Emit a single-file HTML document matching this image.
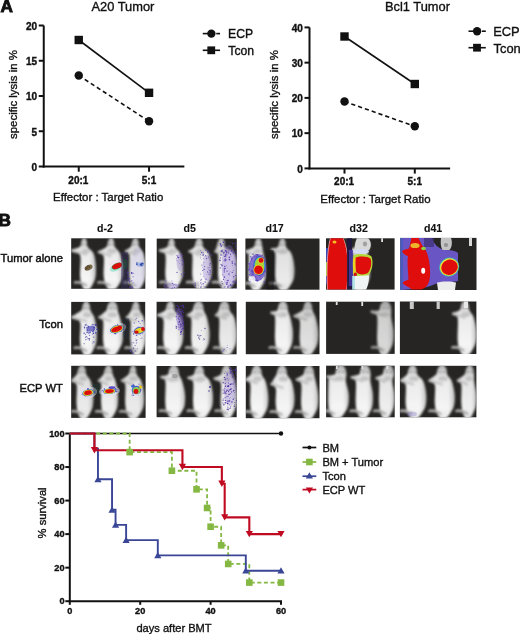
<!DOCTYPE html>
<html><head><meta charset="utf-8"><title>Figure</title>
<style>
html,body{margin:0;padding:0;background:#fff;}
body{width:520px;height:634px;overflow:hidden;}
svg{display:block;font-family:'Liberation Sans', Arial, Helvetica, sans-serif;}
</style></head>
<body>
<svg width="520" height="634" viewBox="0 0 520 634">
<text x="0.6" y="12.3" font-size="17.2" font-weight="bold" fill="#111" stroke="#111" stroke-width="0.9">A</text>
<g stroke="#111" stroke-width="2" fill="none">
<line x1="43.75" y1="25.5" x2="43.75" y2="167.5"/>
<line x1="42.75" y1="166.5" x2="184.35" y2="166.5"/>
<line x1="38.75" y1="166.5" x2="43.75" y2="166.5"/>
<line x1="38.75" y1="131.25" x2="43.75" y2="131.25"/>
<line x1="38.75" y1="96.0" x2="43.75" y2="96.0"/>
<line x1="38.75" y1="60.75" x2="43.75" y2="60.75"/>
<line x1="38.75" y1="25.5" x2="43.75" y2="25.5"/>
<line x1="78.75" y1="166.5" x2="78.75" y2="171.7"/>
<line x1="149.05" y1="166.5" x2="149.05" y2="171.7"/>
</g>
<text x="37.15" y="170.8" font-size="10" text-anchor="end" font-weight="bold" fill="#111" stroke="#111" stroke-width="0.35" >0</text>
<text x="37.15" y="135.55" font-size="10" text-anchor="end" font-weight="bold" fill="#111" stroke="#111" stroke-width="0.35" >5</text>
<text x="37.15" y="100.3" font-size="10" text-anchor="end" font-weight="bold" fill="#111" stroke="#111" stroke-width="0.35" >10</text>
<text x="37.15" y="65.05" font-size="10" text-anchor="end" font-weight="bold" fill="#111" stroke="#111" stroke-width="0.35" >15</text>
<text x="37.15" y="29.8" font-size="10" text-anchor="end" font-weight="bold" fill="#111" stroke="#111" stroke-width="0.35" >20</text>
<text x="78.35" y="183.5" font-size="10" text-anchor="middle" font-weight="bold" fill="#111" stroke="#111" stroke-width="0.35" >20:1</text>
<text x="149.05" y="183.5" font-size="10" text-anchor="middle" font-weight="bold" fill="#111" stroke="#111" stroke-width="0.35" >5:1</text>
<text x="108.15" y="200.8" font-size="11.45" text-anchor="middle" font-weight="normal" fill="#111" stroke="#111" stroke-width="0.35" >Effector : Target Ratio</text>
<text x="122.9" y="11.3" font-size="12.85" text-anchor="middle" font-weight="normal" fill="#111" stroke="#111" stroke-width="0.35" >A20 Tumor</text>
<text transform="translate(17.4,94.5) rotate(-90)" font-size="11.45" text-anchor="middle" fill="#111" stroke="#111" stroke-width="0.35">specific lysis in %</text>
<line x1="78.75" y1="40.0" x2="149.05" y2="92.8" stroke="#111" stroke-width="1.6"/>
<line x1="78.75" y1="75.5" x2="149.05" y2="121.3" stroke="#111" stroke-width="1.6" stroke-dasharray="4.2 3"/>
<rect x="74.55" y="35.8" width="8.4" height="8.4" fill="#111"/>
<rect x="144.85000000000002" y="88.6" width="8.4" height="8.4" fill="#111"/>
<circle cx="78.75" cy="75.5" r="4.2" fill="#111"/>
<circle cx="149.05" cy="121.3" r="4.2" fill="#111"/>
<line x1="202.75" y1="33.6" x2="209.75" y2="33.6" stroke="#111" stroke-width="1.6"/>
<line x1="216.25" y1="33.6" x2="220.05" y2="33.6" stroke="#111" stroke-width="1.6"/>
<circle cx="211.35" cy="33.6" r="4.2" fill="#111"/>
<line x1="202.75" y1="50.3" x2="220.05" y2="50.3" stroke="#111" stroke-width="1.6"/>
<rect x="207.35" y="46.4" width="7.8" height="7.8" fill="#111"/>
<text x="228.05" y="38.0" font-size="12.2" text-anchor="start" font-weight="normal" fill="#111" stroke="#111" stroke-width="0.35" >ECP</text>
<text x="228.35" y="55.099999999999994" font-size="12.2" text-anchor="start" font-weight="normal" fill="#111" stroke="#111" stroke-width="0.35" >Tcon</text>
<g stroke="#111" stroke-width="2" fill="none">
<line x1="309.5" y1="27.400000000000006" x2="309.5" y2="169.4"/>
<line x1="308.5" y1="168.4" x2="450.1" y2="168.4"/>
<line x1="304.5" y1="168.4" x2="309.5" y2="168.4"/>
<line x1="304.5" y1="133.15" x2="309.5" y2="133.15"/>
<line x1="304.5" y1="97.9" x2="309.5" y2="97.9"/>
<line x1="304.5" y1="62.650000000000006" x2="309.5" y2="62.650000000000006"/>
<line x1="304.5" y1="27.400000000000006" x2="309.5" y2="27.400000000000006"/>
<line x1="344.5" y1="168.4" x2="344.5" y2="173.6"/>
<line x1="414.8" y1="168.4" x2="414.8" y2="173.6"/>
</g>
<text x="302.9" y="172.7" font-size="10" text-anchor="end" font-weight="bold" fill="#111" stroke="#111" stroke-width="0.35" >0</text>
<text x="302.9" y="137.45" font-size="10" text-anchor="end" font-weight="bold" fill="#111" stroke="#111" stroke-width="0.35" >10</text>
<text x="302.9" y="102.2" font-size="10" text-anchor="end" font-weight="bold" fill="#111" stroke="#111" stroke-width="0.35" >20</text>
<text x="302.9" y="66.95" font-size="10" text-anchor="end" font-weight="bold" fill="#111" stroke="#111" stroke-width="0.35" >30</text>
<text x="302.9" y="31.7" font-size="10" text-anchor="end" font-weight="bold" fill="#111" stroke="#111" stroke-width="0.35" >40</text>
<text x="344.1" y="185.4" font-size="10" text-anchor="middle" font-weight="bold" fill="#111" stroke="#111" stroke-width="0.35" >20:1</text>
<text x="414.8" y="185.4" font-size="10" text-anchor="middle" font-weight="bold" fill="#111" stroke="#111" stroke-width="0.35" >5:1</text>
<text x="375.4" y="202.7" font-size="11.45" text-anchor="middle" font-weight="normal" fill="#111" stroke="#111" stroke-width="0.35" >Effector : Target Ratio</text>
<text x="417.5" y="11.3" font-size="12.85" text-anchor="middle" font-weight="normal" fill="#111" stroke="#111" stroke-width="0.35" >Bcl1 Tumor</text>
<text transform="translate(278.4,94.60000000000001) rotate(-90)" font-size="11.45" text-anchor="middle" fill="#111" stroke="#111" stroke-width="0.35">specific lysis in %</text>
<line x1="344.5" y1="36.5" x2="414.8" y2="84.0" stroke="#111" stroke-width="1.6"/>
<line x1="344.5" y1="101.5" x2="414.8" y2="126.3" stroke="#111" stroke-width="1.6" stroke-dasharray="4.2 3"/>
<rect x="340.3" y="32.3" width="8.4" height="8.4" fill="#111"/>
<rect x="410.6" y="79.8" width="8.4" height="8.4" fill="#111"/>
<circle cx="344.5" cy="101.5" r="4.2" fill="#111"/>
<circle cx="414.8" cy="126.3" r="4.2" fill="#111"/>
<line x1="468.5" y1="31.2" x2="475.5" y2="31.2" stroke="#111" stroke-width="1.6"/>
<line x1="482.0" y1="31.2" x2="485.8" y2="31.2" stroke="#111" stroke-width="1.6"/>
<circle cx="477.1" cy="31.2" r="4.2" fill="#111"/>
<line x1="468.5" y1="47.7" x2="485.8" y2="47.7" stroke="#111" stroke-width="1.6"/>
<rect x="473.1" y="43.800000000000004" width="7.8" height="7.8" fill="#111"/>
<text x="493.2" y="35.6" font-size="12.9" text-anchor="start" font-weight="normal" fill="#111" stroke="#111" stroke-width="0.35" >ECP</text>
<text x="493.5" y="52.5" font-size="12.9" text-anchor="start" font-weight="normal" fill="#111" stroke="#111" stroke-width="0.35" >Tcon</text>
<text x="-1.4" y="225.6" font-size="17.2" font-weight="bold" fill="#111" stroke="#111" stroke-width="0.9">B</text>
<text x="105" y="231.9" font-size="10.6" text-anchor="middle" font-weight="bold" fill="#111" stroke="#111" stroke-width="0.1" >d-2</text>
<text x="189.6" y="231.9" font-size="10.6" text-anchor="middle" font-weight="bold" fill="#111" stroke="#111" stroke-width="0.1" >d5</text>
<text x="274.6" y="231.9" font-size="10.6" text-anchor="middle" font-weight="bold" fill="#111" stroke="#111" stroke-width="0.1" >d17</text>
<text x="358.7" y="231.9" font-size="10.6" text-anchor="middle" font-weight="bold" fill="#111" stroke="#111" stroke-width="0.1" >d32</text>
<text x="433.1" y="231.9" font-size="10.6" text-anchor="middle" font-weight="bold" fill="#111" stroke="#111" stroke-width="0.1" >d41</text>
<text x="62.9" y="261.8" font-size="11.2" text-anchor="end" font-weight="normal" fill="#111" stroke="#111" stroke-width="0.45" >Tumor alone</text>
<text x="62.9" y="328" font-size="11.2" text-anchor="end" font-weight="normal" fill="#111" stroke="#111" stroke-width="0.45" >Tcon</text>
<text x="62.9" y="392.4" font-size="11.2" text-anchor="end" font-weight="normal" fill="#111" stroke="#111" stroke-width="0.45" >ECP WT</text>
<defs>
<linearGradient id="bodyg" x1="0" y1="0" x2="0" y2="1"><stop offset="0" stop-color="#a2a2a2"/><stop offset="0.1" stop-color="#c6c6c6"/><stop offset="0.2" stop-color="#dedede"/><stop offset="0.35" stop-color="#ebebeb"/><stop offset="0.8" stop-color="#f5f5f5"/><stop offset="1" stop-color="#e8e8e8"/></linearGradient>
<linearGradient id="edgeg" x1="0" y1="0" x2="1" y2="0"><stop offset="0" stop-color="#000" stop-opacity="0.15"/><stop offset="0.2" stop-color="#000" stop-opacity="0"/><stop offset="0.75" stop-color="#000" stop-opacity="0"/><stop offset="1" stop-color="#000" stop-opacity="0.2"/></linearGradient>
<filter id="bl" x="-20%" y="-20%" width="140%" height="140%"><feGaussianBlur stdDeviation="0.8"/></filter>
<filter id="bl2" x="-20%" y="-20%" width="140%" height="140%"><feGaussianBlur stdDeviation="0.6"/></filter>
<clipPath id="cp00"><rect x="71.2" y="238.3" width="74.1" height="50.5"/></clipPath>
<clipPath id="cp01"><rect x="156.7" y="238.6" width="80.1" height="49.8"/></clipPath>
<clipPath id="cp02"><rect x="245.4" y="238.5" width="74.1" height="51.2"/></clipPath>
<clipPath id="cp03"><rect x="326.0" y="238.3" width="68.6" height="51.3"/></clipPath>
<clipPath id="cp04"><rect x="400.3" y="237.9" width="76.2" height="52.1"/></clipPath>
<clipPath id="cp10"><rect x="71.2" y="301.9" width="74.0" height="52.5"/></clipPath>
<clipPath id="cp11"><rect x="156.6" y="301.8" width="80.0" height="52.5"/></clipPath>
<clipPath id="cp12"><rect x="245.8" y="301.8" width="73.7" height="52.4"/></clipPath>
<clipPath id="cp13"><rect x="326.1" y="301.7" width="68.6" height="52.2"/></clipPath>
<clipPath id="cp14"><rect x="399.9" y="301.5" width="76.5" height="52.5"/></clipPath>
<clipPath id="cp20"><rect x="71.2" y="365.8" width="74.4" height="52.1"/></clipPath>
<clipPath id="cp21"><rect x="156.6" y="366.0" width="80.1" height="51.2"/></clipPath>
<clipPath id="cp22"><rect x="245.8" y="366.0" width="73.7" height="52.2"/></clipPath>
<clipPath id="cp23"><rect x="326.1" y="365.7" width="68.6" height="51.6"/></clipPath>
<clipPath id="cp24"><rect x="399.9" y="365.8" width="76.5" height="51.5"/></clipPath>
</defs>
<rect x="71.2" y="238.3" width="74.1" height="50.5" fill="#262523"/>
<g clip-path="url(#cp00)"><g filter="url(#bl)">
<path d="M84.2,236.3 C85.1,236.3 86.2,239.5 86.8,241.3 C87.4,243.1 86.7,245.3 87.8,247.3 C88.9,249.3 92.3,250.3 93.6,253.5 C95.0,256.6 95.5,262.0 95.8,266.1 C96.1,270.1 96.0,274.4 95.3,277.7 C94.7,281.0 93.0,283.8 91.9,285.8 C90.8,287.8 90.1,289.1 88.9,289.8 C87.6,290.5 85.7,290.8 84.4,289.8 C83.2,288.8 82.1,286.3 81.4,283.8 C80.6,281.2 80.2,279.3 80.0,274.7 C79.8,270.0 81.3,259.6 80.2,255.8 C79.1,252.0 74.9,253.0 73.5,252.0 C72.1,251.0 71.0,250.7 72.0,249.8 C73.0,248.9 78.2,248.2 79.8,246.8 C81.4,245.4 80.7,243.1 81.4,241.3 C82.1,239.6 83.3,236.3 84.2,236.3 Z" fill="url(#bodyg)" opacity="1.00"/>
<path d="M84.2,236.3 C85.1,236.3 86.2,239.5 86.8,241.3 C87.4,243.1 86.7,245.3 87.8,247.3 C88.9,249.3 92.3,250.3 93.6,253.5 C95.0,256.6 95.5,262.0 95.8,266.1 C96.1,270.1 96.0,274.4 95.3,277.7 C94.7,281.0 93.0,283.8 91.9,285.8 C90.8,287.8 90.1,289.1 88.9,289.8 C87.6,290.5 85.7,290.8 84.4,289.8 C83.2,288.8 82.1,286.3 81.4,283.8 C80.6,281.2 80.2,279.3 80.0,274.7 C79.8,270.0 81.3,259.6 80.2,255.8 C79.1,252.0 74.9,253.0 73.5,252.0 C72.1,251.0 71.0,250.7 72.0,249.8 C73.0,248.9 78.2,248.2 79.8,246.8 C81.4,245.4 80.7,243.1 81.4,241.3 C82.1,239.6 83.3,236.3 84.2,236.3 Z" fill="url(#edgeg)"/>
<ellipse cx="82.4" cy="244.8" rx="0.9" ry="1.1" fill="#606060" opacity="0.8"/>
<ellipse cx="86.4" cy="244.8" rx="0.9" ry="1.1" fill="#606060" opacity="0.8"/>
<ellipse cx="85.8" cy="251.3" rx="3.8" ry="2.5" fill="#8a8a8a" opacity="0.35"/>
<path d="M75.0,282.5 Q80.0,281.2 86.0,285.3" stroke="#afafaf" stroke-width="2.6" fill="none" stroke-linecap="round"/>
<path d="M72.0,250.6 L85.8,254.3" stroke="#c8c8c8" stroke-width="2.6" fill="none" stroke-linecap="round"/>
<path d="M111.2,236.3 C112.1,236.3 113.4,239.5 114.0,241.3 C114.6,243.1 114.0,245.3 115.0,247.3 C116.0,249.3 118.8,250.3 120.1,253.5 C121.4,256.6 122.5,262.0 122.8,266.1 C123.1,270.1 123.0,274.4 122.2,277.7 C121.4,281.0 119.4,283.8 118.1,285.8 C116.8,287.8 115.9,289.1 114.3,289.8 C112.8,290.5 110.5,290.8 109.0,289.8 C107.5,288.8 106.2,286.3 105.3,283.8 C104.4,281.2 103.9,279.1 103.6,274.7 C103.4,270.3 104.4,260.8 103.8,257.3 C103.3,253.8 101.3,254.5 100.5,253.5 C99.7,252.5 98.0,252.4 99.0,251.3 C100.0,250.2 105.0,248.5 106.5,246.8 C108.0,245.1 107.3,243.1 108.1,241.3 C108.9,239.6 110.2,236.3 111.2,236.3 Z" fill="url(#bodyg)" opacity="1.00"/>
<path d="M111.2,236.3 C112.1,236.3 113.4,239.5 114.0,241.3 C114.6,243.1 114.0,245.3 115.0,247.3 C116.0,249.3 118.8,250.3 120.1,253.5 C121.4,256.6 122.5,262.0 122.8,266.1 C123.1,270.1 123.0,274.4 122.2,277.7 C121.4,281.0 119.4,283.8 118.1,285.8 C116.8,287.8 115.9,289.1 114.3,289.8 C112.8,290.5 110.5,290.8 109.0,289.8 C107.5,288.8 106.2,286.3 105.3,283.8 C104.4,281.2 103.9,279.1 103.6,274.7 C103.4,270.3 104.4,260.8 103.8,257.3 C103.3,253.8 101.3,254.5 100.5,253.5 C99.7,252.5 98.0,252.4 99.0,251.3 C100.0,250.2 105.0,248.5 106.5,246.8 C108.0,245.1 107.3,243.1 108.1,241.3 C108.9,239.6 110.2,236.3 111.2,236.3 Z" fill="url(#edgeg)"/>
<ellipse cx="109.4" cy="244.8" rx="0.9" ry="1.1" fill="#606060" opacity="0.8"/>
<ellipse cx="113.4" cy="244.8" rx="0.9" ry="1.1" fill="#606060" opacity="0.8"/>
<ellipse cx="111.9" cy="251.3" rx="4.6" ry="2.5" fill="#8a8a8a" opacity="0.35"/>
<path d="M98.4,282.5 Q103.4,281.2 109.4,285.3" stroke="#afafaf" stroke-width="2.6" fill="none" stroke-linecap="round"/>
<path d="M99.0,252.1 L110.6,255.8" stroke="#c8c8c8" stroke-width="2.6" fill="none" stroke-linecap="round"/>
<path d="M135.5,236.3 C136.5,236.3 137.8,239.5 138.4,241.3 C139.1,243.1 138.5,245.3 139.4,247.3 C140.3,249.3 142.5,250.3 143.5,253.5 C144.6,256.6 145.5,262.0 145.8,266.1 C146.1,270.1 146.0,274.4 145.3,277.7 C144.6,281.0 142.9,283.8 141.8,285.8 C140.6,287.8 139.9,289.1 138.6,289.8 C137.3,290.5 135.3,290.8 134.0,289.8 C132.7,288.8 131.5,286.3 130.8,283.8 C130.0,281.2 129.6,279.2 129.4,274.7 C129.2,270.1 129.8,260.0 129.5,256.3 C129.2,252.6 128.1,253.5 127.5,252.5 C126.9,251.5 125.5,251.2 126.0,250.3 C126.5,249.4 129.7,248.3 130.8,246.8 C131.9,245.3 131.6,243.1 132.4,241.3 C133.2,239.6 134.5,236.3 135.5,236.3 Z" fill="url(#bodyg)" opacity="0.97"/>
<path d="M135.5,236.3 C136.5,236.3 137.8,239.5 138.4,241.3 C139.1,243.1 138.5,245.3 139.4,247.3 C140.3,249.3 142.5,250.3 143.5,253.5 C144.6,256.6 145.5,262.0 145.8,266.1 C146.1,270.1 146.0,274.4 145.3,277.7 C144.6,281.0 142.9,283.8 141.8,285.8 C140.6,287.8 139.9,289.1 138.6,289.8 C137.3,290.5 135.3,290.8 134.0,289.8 C132.7,288.8 131.5,286.3 130.8,283.8 C130.0,281.2 129.6,279.2 129.4,274.7 C129.2,270.1 129.8,260.0 129.5,256.3 C129.2,252.6 128.1,253.5 127.5,252.5 C126.9,251.5 125.5,251.2 126.0,250.3 C126.5,249.4 129.7,248.3 130.8,246.8 C131.9,245.3 131.6,243.1 132.4,241.3 C133.2,239.6 134.5,236.3 135.5,236.3 Z" fill="url(#edgeg)"/>
<ellipse cx="133.7" cy="244.8" rx="0.9" ry="1.1" fill="#606060" opacity="0.8"/>
<ellipse cx="137.7" cy="244.8" rx="0.9" ry="1.1" fill="#606060" opacity="0.8"/>
<ellipse cx="136.3" cy="251.3" rx="4.0" ry="2.5" fill="#8a8a8a" opacity="0.35"/>
<path d="M124.3,282.5 Q129.3,281.2 135.3,285.3" stroke="#aaaaaa" stroke-width="2.6" fill="none" stroke-linecap="round"/>
<path d="M126.0,251.1 L135.4,254.8" stroke="#c2c2c2" stroke-width="2.6" fill="none" stroke-linecap="round"/>
</g>
<g filter="url(#bl2)">
<ellipse cx="88.6" cy="267.6" rx="5.2" ry="3.4" fill="#e6e6f4" opacity="0.6"/>
<ellipse cx="88.6" cy="267.6" rx="4.2" ry="2.6" fill="#7a6a48" transform="rotate(-25 88.6 267.6)"/>
<circle cx="87.6" cy="266.2" r="0.66" fill="#3e3220" opacity="0.9"/>
<circle cx="86.0" cy="267.9" r="0.55" fill="#3e3220" opacity="0.9"/>
<circle cx="85.9" cy="267.8" r="0.41" fill="#3e3220" opacity="0.9"/>
<circle cx="88.3" cy="265.8" r="0.44" fill="#3e3220" opacity="0.9"/>
<circle cx="88.3" cy="269.2" r="0.45" fill="#3e3220" opacity="0.9"/>
<circle cx="87.0" cy="268.3" r="0.78" fill="#3e3220" opacity="0.9"/>
<circle cx="89.3" cy="267.3" r="0.79" fill="#3e3220" opacity="0.9"/>
<circle cx="85.8" cy="269.4" r="0.52" fill="#3e3220" opacity="0.9"/>
<ellipse cx="116" cy="265" rx="7" ry="5" fill="#f2dfee" opacity="0.6"/>
<ellipse cx="115.5" cy="268" rx="6" ry="3.2" fill="#8ee0c8" opacity="0.7" transform="rotate(-22 115.5 268)"/>
<ellipse cx="117" cy="266" rx="5.6" ry="2.9" fill="#3a8a50" transform="rotate(-22 117 266)"/>
<ellipse cx="117" cy="266" rx="5.0" ry="2.5" fill="#dc0c0c" transform="rotate(-22 117 266)"/>
<rect x="121" y="252" width="7" height="37" fill="#3a2d6a" opacity="0.4"/>
<ellipse cx="125" cy="264" rx="2.5" ry="5" fill="#1f5a3a" opacity="0.5"/>
<ellipse cx="138" cy="268" rx="7" ry="21" fill="#b9b0e6" opacity="0.22"/>
<ellipse cx="140" cy="264.5" rx="4" ry="2.3" fill="#8aa0e0" opacity="0.6"/>
<circle cx="137.2" cy="263.0" r="0.55" fill="#2c4aa8" opacity="0.9"/>
<circle cx="142.5" cy="263.2" r="0.69" fill="#2c4aa8" opacity="0.9"/>
<circle cx="141.1" cy="264.0" r="0.67" fill="#2c4aa8" opacity="0.9"/>
<circle cx="136.5" cy="262.7" r="0.50" fill="#2c4aa8" opacity="0.9"/>
<circle cx="141.4" cy="264.2" r="0.56" fill="#2c4aa8" opacity="0.9"/>
<circle cx="140.7" cy="264.3" r="0.55" fill="#2c4aa8" opacity="0.9"/>
<circle cx="142.4" cy="265.3" r="0.52" fill="#2c4aa8" opacity="0.9"/>
<circle cx="140.6" cy="264.6" r="0.84" fill="#2c4aa8" opacity="0.9"/>
<circle cx="141.8" cy="263.7" r="0.89" fill="#2c4aa8" opacity="0.9"/>
<circle cx="136.9" cy="264.2" r="0.78" fill="#2c4aa8" opacity="0.9"/>
<circle cx="137.2" cy="264.5" r="0.42" fill="#2c4aa8" opacity="0.9"/>
<circle cx="141.3" cy="265.6" r="0.69" fill="#2c4aa8" opacity="0.9"/>
<circle cx="143.0" cy="263.8" r="0.75" fill="#2c4aa8" opacity="0.9"/>
<circle cx="140.8" cy="264.8" r="0.63" fill="#2c4aa8" opacity="0.9"/>
<circle cx="132.9" cy="288.1" r="0.59" fill="#5a3db0" opacity="0.85"/>
<circle cx="131.6" cy="273.0" r="0.70" fill="#5a3db0" opacity="0.85"/>
<circle cx="131.5" cy="288.9" r="0.76" fill="#5a3db0" opacity="0.85"/>
<circle cx="129.0" cy="278.6" r="0.68" fill="#5a3db0" opacity="0.85"/>
<circle cx="127.2" cy="279.8" r="0.43" fill="#5a3db0" opacity="0.85"/>
<circle cx="127.8" cy="273.0" r="0.73" fill="#5a3db0" opacity="0.85"/>
<circle cx="127.9" cy="276.2" r="0.55" fill="#5a3db0" opacity="0.85"/>
<circle cx="133.1" cy="273.4" r="0.57" fill="#5a3db0" opacity="0.85"/>
<circle cx="130.8" cy="287.0" r="0.76" fill="#5a3db0" opacity="0.85"/>
<circle cx="133.0" cy="276.7" r="0.56" fill="#5a3db0" opacity="0.85"/>
<circle cx="129.5" cy="287.0" r="0.83" fill="#5a3db0" opacity="0.85"/>
<circle cx="128.1" cy="275.0" r="0.47" fill="#5a3db0" opacity="0.85"/>
<circle cx="128.6" cy="280.2" r="0.64" fill="#5a3db0" opacity="0.85"/>
<circle cx="128.8" cy="272.1" r="0.56" fill="#5a3db0" opacity="0.85"/>
<circle cx="129.6" cy="281.6" r="0.83" fill="#5a3db0" opacity="0.85"/>
<circle cx="131.8" cy="280.8" r="0.66" fill="#5a3db0" opacity="0.85"/>
<circle cx="131.7" cy="272.9" r="0.80" fill="#5a3db0" opacity="0.85"/>
<circle cx="132.5" cy="286.9" r="0.75" fill="#5a3db0" opacity="0.85"/>
<circle cx="129.7" cy="278.8" r="0.40" fill="#5a3db0" opacity="0.85"/>
<circle cx="131.4" cy="273.1" r="0.38" fill="#5a3db0" opacity="0.85"/>
<circle cx="128.5" cy="274.8" r="0.52" fill="#5a3db0" opacity="0.85"/>
<circle cx="127.4" cy="272.0" r="0.43" fill="#5a3db0" opacity="0.85"/>
<circle cx="127.7" cy="278.2" r="0.36" fill="#5a3db0" opacity="0.85"/>
<circle cx="133.1" cy="282.4" r="0.42" fill="#5a3db0" opacity="0.85"/>
<circle cx="128.8" cy="277.9" r="0.53" fill="#5a3db0" opacity="0.85"/>
</g>
</g>
<rect x="156.7" y="238.6" width="80.1" height="49.8" fill="#262523"/>
<g clip-path="url(#cp01)"><g filter="url(#bl)">
<path d="M171.7,236.6 C172.6,236.6 173.8,239.8 174.4,241.6 C175.0,243.4 174.4,245.6 175.4,247.6 C176.4,249.6 179.1,250.5 180.4,253.5 C181.6,256.6 182.5,262.0 182.8,266.0 C183.1,270.0 183.0,274.2 182.2,277.4 C181.5,280.7 179.7,283.4 178.5,285.4 C177.3,287.4 176.5,288.7 175.1,289.4 C173.7,290.1 171.6,290.4 170.2,289.4 C168.8,288.4 167.6,285.9 166.8,283.4 C166.0,280.9 165.5,279.1 165.3,274.5 C165.1,269.8 166.2,259.4 165.5,255.6 C164.9,251.8 162.4,252.8 161.5,251.8 C160.6,250.8 159.1,250.4 160.0,249.6 C160.9,248.8 165.7,248.4 167.1,247.1 C168.6,245.8 167.9,243.3 168.7,241.6 C169.5,239.8 170.7,236.6 171.7,236.6 Z" fill="url(#bodyg)" opacity="1.00"/>
<path d="M171.7,236.6 C172.6,236.6 173.8,239.8 174.4,241.6 C175.0,243.4 174.4,245.6 175.4,247.6 C176.4,249.6 179.1,250.5 180.4,253.5 C181.6,256.6 182.5,262.0 182.8,266.0 C183.1,270.0 183.0,274.2 182.2,277.4 C181.5,280.7 179.7,283.4 178.5,285.4 C177.3,287.4 176.5,288.7 175.1,289.4 C173.7,290.1 171.6,290.4 170.2,289.4 C168.8,288.4 167.6,285.9 166.8,283.4 C166.0,280.9 165.5,279.1 165.3,274.5 C165.1,269.8 166.2,259.4 165.5,255.6 C164.9,251.8 162.4,252.8 161.5,251.8 C160.6,250.8 159.1,250.4 160.0,249.6 C160.9,248.8 165.7,248.4 167.1,247.1 C168.6,245.8 167.9,243.3 168.7,241.6 C169.5,239.8 170.7,236.6 171.7,236.6 Z" fill="url(#edgeg)"/>
<ellipse cx="169.8" cy="245.1" rx="0.9" ry="1.1" fill="#606060" opacity="0.8"/>
<ellipse cx="173.8" cy="245.1" rx="0.9" ry="1.1" fill="#606060" opacity="0.8"/>
<ellipse cx="172.6" cy="251.6" rx="4.2" ry="2.5" fill="#8a8a8a" opacity="0.35"/>
<path d="M160.2,282.2 Q165.2,280.9 171.2,284.9" stroke="#afafaf" stroke-width="2.6" fill="none" stroke-linecap="round"/>
<path d="M160.0,250.4 L171.7,254.1" stroke="#c8c8c8" stroke-width="2.6" fill="none" stroke-linecap="round"/>
<path d="M199.2,236.6 C200.3,236.6 201.7,239.8 202.4,241.6 C203.1,243.4 202.3,245.6 203.4,247.6 C204.5,249.6 207.5,250.5 208.8,253.5 C210.2,256.6 211.1,262.0 211.5,266.0 C211.8,270.0 211.7,274.2 210.9,277.4 C210.1,280.7 208.0,283.4 206.7,285.4 C205.4,287.4 204.5,288.7 203.0,289.4 C201.5,290.1 199.1,290.4 197.6,289.4 C196.1,288.4 194.8,285.9 193.9,283.4 C193.0,280.9 192.5,278.9 192.2,274.5 C192.0,270.0 192.7,260.2 192.4,256.6 C192.2,253.0 191.5,253.8 191.0,252.8 C190.5,251.8 188.9,251.5 189.5,250.6 C190.1,249.7 193.2,248.6 194.3,247.1 C195.4,245.6 195.1,243.3 195.9,241.6 C196.7,239.8 198.2,236.6 199.2,236.6 Z" fill="url(#bodyg)" opacity="1.00"/>
<path d="M199.2,236.6 C200.3,236.6 201.7,239.8 202.4,241.6 C203.1,243.4 202.3,245.6 203.4,247.6 C204.5,249.6 207.5,250.5 208.8,253.5 C210.2,256.6 211.1,262.0 211.5,266.0 C211.8,270.0 211.7,274.2 210.9,277.4 C210.1,280.7 208.0,283.4 206.7,285.4 C205.4,287.4 204.5,288.7 203.0,289.4 C201.5,290.1 199.1,290.4 197.6,289.4 C196.1,288.4 194.8,285.9 193.9,283.4 C193.0,280.9 192.5,278.9 192.2,274.5 C192.0,270.0 192.7,260.2 192.4,256.6 C192.2,253.0 191.5,253.8 191.0,252.8 C190.5,251.8 188.9,251.5 189.5,250.6 C190.1,249.7 193.2,248.6 194.3,247.1 C195.4,245.6 195.1,243.3 195.9,241.6 C196.7,239.8 198.2,236.6 199.2,236.6 Z" fill="url(#edgeg)"/>
<ellipse cx="197.4" cy="245.1" rx="0.9" ry="1.1" fill="#606060" opacity="0.8"/>
<ellipse cx="201.4" cy="245.1" rx="0.9" ry="1.1" fill="#606060" opacity="0.8"/>
<ellipse cx="200.3" cy="251.6" rx="4.7" ry="2.5" fill="#8a8a8a" opacity="0.35"/>
<path d="M187.0,282.2 Q192.0,280.9 198.0,284.9" stroke="#afafaf" stroke-width="2.6" fill="none" stroke-linecap="round"/>
<path d="M189.5,251.4 L199.3,255.1" stroke="#c8c8c8" stroke-width="2.6" fill="none" stroke-linecap="round"/>
<path d="M221.3,236.6 C222.4,236.6 223.7,239.8 224.4,241.6 C225.1,243.4 223.8,245.6 225.4,247.6 C227.0,249.6 232.3,250.5 234.2,253.5 C236.1,256.6 236.5,262.0 236.8,266.0 C237.1,270.0 237.0,274.2 236.2,277.4 C235.4,280.7 233.4,283.4 232.2,285.4 C230.9,287.4 230.0,288.7 228.5,289.4 C227.0,290.1 224.7,290.4 223.3,289.4 C221.8,288.4 220.5,285.9 219.6,283.4 C218.8,280.9 218.2,278.9 218.0,274.5 C217.8,270.0 218.4,260.2 218.2,256.6 C218.0,253.0 217.5,253.8 217.0,252.8 C216.5,251.8 215.6,251.5 215.5,250.6 C215.4,249.7 216.1,248.6 216.5,247.1 C216.9,245.6 217.3,243.3 218.1,241.6 C218.9,239.8 220.3,236.6 221.3,236.6 Z" fill="url(#bodyg)" opacity="1.00"/>
<path d="M221.3,236.6 C222.4,236.6 223.7,239.8 224.4,241.6 C225.1,243.4 223.8,245.6 225.4,247.6 C227.0,249.6 232.3,250.5 234.2,253.5 C236.1,256.6 236.5,262.0 236.8,266.0 C237.1,270.0 237.0,274.2 236.2,277.4 C235.4,280.7 233.4,283.4 232.2,285.4 C230.9,287.4 230.0,288.7 228.5,289.4 C227.0,290.1 224.7,290.4 223.3,289.4 C221.8,288.4 220.5,285.9 219.6,283.4 C218.8,280.9 218.2,278.9 218.0,274.5 C217.8,270.0 218.4,260.2 218.2,256.6 C218.0,253.0 217.5,253.8 217.0,252.8 C216.5,251.8 215.6,251.5 215.5,250.6 C215.4,249.7 216.1,248.6 216.5,247.1 C216.9,245.6 217.3,243.3 218.1,241.6 C218.9,239.8 220.3,236.6 221.3,236.6 Z" fill="url(#edgeg)"/>
<ellipse cx="219.5" cy="245.1" rx="0.9" ry="1.1" fill="#606060" opacity="0.8"/>
<ellipse cx="223.5" cy="245.1" rx="0.9" ry="1.1" fill="#606060" opacity="0.8"/>
<ellipse cx="224.1" cy="251.6" rx="4.5" ry="2.5" fill="#8a8a8a" opacity="0.35"/>
<path d="M212.8,282.2 Q217.8,280.9 223.8,284.9" stroke="#afafaf" stroke-width="2.6" fill="none" stroke-linecap="round"/>
<path d="M215.5,251.4 L224.9,255.1" stroke="#c8c8c8" stroke-width="2.6" fill="none" stroke-linecap="round"/>
</g>
<g filter="url(#bl2)">
<ellipse cx="180" cy="262" rx="3.5" ry="9" fill="#8a70d0" opacity="0.3"/>
<circle cx="177.0" cy="272.4" r="0.70" fill="#5234a8" opacity="0.8"/>
<circle cx="179.7" cy="263.6" r="0.33" fill="#5234a8" opacity="0.8"/>
<circle cx="176.8" cy="260.2" r="0.41" fill="#5234a8" opacity="0.8"/>
<circle cx="182.6" cy="255.9" r="0.31" fill="#5234a8" opacity="0.8"/>
<circle cx="183.6" cy="264.7" r="0.36" fill="#5234a8" opacity="0.8"/>
<circle cx="180.3" cy="252.6" r="0.51" fill="#5234a8" opacity="0.8"/>
<circle cx="183.8" cy="272.7" r="0.58" fill="#5234a8" opacity="0.8"/>
<circle cx="178.1" cy="260.8" r="0.37" fill="#5234a8" opacity="0.8"/>
<circle cx="182.2" cy="264.8" r="0.61" fill="#5234a8" opacity="0.8"/>
<circle cx="178.6" cy="257.4" r="0.62" fill="#5234a8" opacity="0.8"/>
<circle cx="183.9" cy="272.5" r="0.62" fill="#5234a8" opacity="0.8"/>
<circle cx="182.5" cy="269.8" r="0.39" fill="#5234a8" opacity="0.8"/>
<circle cx="180.1" cy="260.5" r="0.31" fill="#5234a8" opacity="0.8"/>
<circle cx="176.2" cy="258.7" r="0.40" fill="#5234a8" opacity="0.8"/>
<circle cx="181.5" cy="275.0" r="0.48" fill="#5234a8" opacity="0.8"/>
<circle cx="183.5" cy="275.7" r="0.68" fill="#5234a8" opacity="0.8"/>
<circle cx="178.9" cy="257.3" r="0.39" fill="#5234a8" opacity="0.8"/>
<circle cx="177.6" cy="256.9" r="0.55" fill="#5234a8" opacity="0.8"/>
<circle cx="183.2" cy="272.2" r="0.49" fill="#5234a8" opacity="0.8"/>
<circle cx="181.2" cy="271.2" r="0.33" fill="#5234a8" opacity="0.8"/>
<circle cx="181.3" cy="273.8" r="0.61" fill="#5234a8" opacity="0.8"/>
<circle cx="182.0" cy="263.5" r="0.37" fill="#5234a8" opacity="0.8"/>
<circle cx="182.3" cy="260.0" r="0.62" fill="#5234a8" opacity="0.8"/>
<circle cx="183.8" cy="261.5" r="0.46" fill="#5234a8" opacity="0.8"/>
<circle cx="183.6" cy="269.4" r="0.37" fill="#5234a8" opacity="0.8"/>
<circle cx="177.0" cy="255.6" r="0.66" fill="#5234a8" opacity="0.8"/>
<circle cx="182.5" cy="255.5" r="0.63" fill="#5234a8" opacity="0.8"/>
<circle cx="183.8" cy="267.8" r="0.44" fill="#5234a8" opacity="0.8"/>
<circle cx="180.4" cy="255.1" r="0.31" fill="#5234a8" opacity="0.8"/>
<circle cx="183.8" cy="267.6" r="0.51" fill="#5234a8" opacity="0.8"/>
<circle cx="183.5" cy="262.4" r="0.65" fill="#5234a8" opacity="0.8"/>
<circle cx="182.6" cy="257.1" r="0.40" fill="#5234a8" opacity="0.8"/>
<circle cx="178.3" cy="257.8" r="0.53" fill="#5234a8" opacity="0.8"/>
<circle cx="178.1" cy="262.1" r="0.35" fill="#5234a8" opacity="0.8"/>
<circle cx="183.3" cy="260.5" r="0.48" fill="#5234a8" opacity="0.8"/>
<ellipse cx="171" cy="286" rx="8" ry="3" fill="#8a70d0" opacity="0.3"/>
<circle cx="172.9" cy="288.2" r="0.47" fill="#5234a8" opacity="0.8"/>
<circle cx="178.6" cy="285.0" r="0.51" fill="#5234a8" opacity="0.8"/>
<circle cx="171.9" cy="281.1" r="0.48" fill="#5234a8" opacity="0.8"/>
<circle cx="166.1" cy="281.0" r="0.62" fill="#5234a8" opacity="0.8"/>
<circle cx="165.9" cy="284.8" r="0.59" fill="#5234a8" opacity="0.8"/>
<circle cx="172.5" cy="283.6" r="0.51" fill="#5234a8" opacity="0.8"/>
<circle cx="172.4" cy="287.3" r="0.34" fill="#5234a8" opacity="0.8"/>
<circle cx="172.5" cy="283.0" r="0.41" fill="#5234a8" opacity="0.8"/>
<circle cx="176.1" cy="285.1" r="0.52" fill="#5234a8" opacity="0.8"/>
<circle cx="175.9" cy="288.3" r="0.48" fill="#5234a8" opacity="0.8"/>
<circle cx="173.4" cy="285.0" r="0.50" fill="#5234a8" opacity="0.8"/>
<circle cx="174.8" cy="284.6" r="0.51" fill="#5234a8" opacity="0.8"/>
<circle cx="171.1" cy="288.5" r="0.58" fill="#5234a8" opacity="0.8"/>
<circle cx="177.9" cy="288.5" r="0.40" fill="#5234a8" opacity="0.8"/>
<circle cx="172.5" cy="288.5" r="0.64" fill="#5234a8" opacity="0.8"/>
<circle cx="165.3" cy="282.0" r="0.48" fill="#5234a8" opacity="0.8"/>
<circle cx="164.2" cy="282.9" r="0.33" fill="#5234a8" opacity="0.8"/>
<circle cx="174.4" cy="287.3" r="0.66" fill="#5234a8" opacity="0.8"/>
<circle cx="165.6" cy="286.7" r="0.56" fill="#5234a8" opacity="0.8"/>
<circle cx="165.4" cy="288.1" r="0.69" fill="#5234a8" opacity="0.8"/>
<circle cx="166.7" cy="288.6" r="0.46" fill="#5234a8" opacity="0.8"/>
<circle cx="171.3" cy="288.9" r="0.63" fill="#5234a8" opacity="0.8"/>
<ellipse cx="207" cy="268" rx="4.5" ry="13" fill="#8a70d0" opacity="0.3"/>
<circle cx="201.9" cy="265.1" r="0.53" fill="#5234a8" opacity="0.8"/>
<circle cx="204.1" cy="256.9" r="0.44" fill="#5234a8" opacity="0.8"/>
<circle cx="208.7" cy="250.7" r="0.55" fill="#5234a8" opacity="0.8"/>
<circle cx="205.3" cy="250.6" r="0.45" fill="#5234a8" opacity="0.8"/>
<circle cx="207.5" cy="267.9" r="0.33" fill="#5234a8" opacity="0.8"/>
<circle cx="211.8" cy="277.6" r="0.74" fill="#5234a8" opacity="0.8"/>
<circle cx="201.3" cy="259.3" r="0.32" fill="#5234a8" opacity="0.8"/>
<circle cx="209.3" cy="259.5" r="0.36" fill="#5234a8" opacity="0.8"/>
<circle cx="205.1" cy="281.9" r="0.67" fill="#5234a8" opacity="0.8"/>
<circle cx="203.1" cy="255.2" r="0.71" fill="#5234a8" opacity="0.8"/>
<circle cx="206.8" cy="274.5" r="0.34" fill="#5234a8" opacity="0.8"/>
<circle cx="200.7" cy="274.1" r="0.49" fill="#5234a8" opacity="0.8"/>
<circle cx="200.9" cy="282.8" r="0.59" fill="#5234a8" opacity="0.8"/>
<circle cx="209.6" cy="252.9" r="0.69" fill="#5234a8" opacity="0.8"/>
<circle cx="200.8" cy="280.2" r="0.50" fill="#5234a8" opacity="0.8"/>
<circle cx="204.1" cy="269.4" r="0.72" fill="#5234a8" opacity="0.8"/>
<circle cx="203.2" cy="254.5" r="0.54" fill="#5234a8" opacity="0.8"/>
<circle cx="202.9" cy="253.8" r="0.37" fill="#5234a8" opacity="0.8"/>
<circle cx="200.6" cy="257.1" r="0.44" fill="#5234a8" opacity="0.8"/>
<circle cx="203.7" cy="276.6" r="0.43" fill="#5234a8" opacity="0.8"/>
<circle cx="206.0" cy="256.2" r="0.46" fill="#5234a8" opacity="0.8"/>
<circle cx="200.2" cy="258.8" r="0.31" fill="#5234a8" opacity="0.8"/>
<circle cx="208.8" cy="269.3" r="0.39" fill="#5234a8" opacity="0.8"/>
<circle cx="205.7" cy="282.7" r="0.35" fill="#5234a8" opacity="0.8"/>
<circle cx="209.8" cy="265.1" r="0.52" fill="#5234a8" opacity="0.8"/>
<circle cx="210.0" cy="263.8" r="0.53" fill="#5234a8" opacity="0.8"/>
<circle cx="208.3" cy="284.4" r="0.45" fill="#5234a8" opacity="0.8"/>
<circle cx="210.0" cy="274.7" r="0.59" fill="#5234a8" opacity="0.8"/>
<circle cx="204.9" cy="262.2" r="0.32" fill="#5234a8" opacity="0.8"/>
<circle cx="201.6" cy="252.5" r="0.63" fill="#5234a8" opacity="0.8"/>
<circle cx="203.1" cy="255.7" r="0.34" fill="#5234a8" opacity="0.8"/>
<circle cx="210.1" cy="280.5" r="0.60" fill="#5234a8" opacity="0.8"/>
<circle cx="203.4" cy="258.5" r="0.43" fill="#5234a8" opacity="0.8"/>
<circle cx="205.5" cy="255.5" r="0.50" fill="#5234a8" opacity="0.8"/>
<circle cx="203.2" cy="283.7" r="0.74" fill="#5234a8" opacity="0.8"/>
<circle cx="206.6" cy="258.6" r="0.73" fill="#5234a8" opacity="0.8"/>
<circle cx="203.7" cy="262.5" r="0.30" fill="#5234a8" opacity="0.8"/>
<circle cx="204.6" cy="266.6" r="0.53" fill="#5234a8" opacity="0.8"/>
<circle cx="202.4" cy="267.7" r="0.30" fill="#5234a8" opacity="0.8"/>
<circle cx="203.2" cy="253.1" r="0.48" fill="#5234a8" opacity="0.8"/>
<circle cx="200.5" cy="250.8" r="0.44" fill="#5234a8" opacity="0.8"/>
<circle cx="202.8" cy="270.5" r="0.54" fill="#5234a8" opacity="0.8"/>
<circle cx="209.0" cy="273.0" r="0.62" fill="#5234a8" opacity="0.8"/>
<circle cx="210.5" cy="263.6" r="0.45" fill="#5234a8" opacity="0.8"/>
<circle cx="211.8" cy="255.2" r="0.63" fill="#5234a8" opacity="0.8"/>
<circle cx="207.7" cy="251.5" r="0.68" fill="#5234a8" opacity="0.8"/>
<circle cx="210.7" cy="272.0" r="0.63" fill="#5234a8" opacity="0.8"/>
<circle cx="209.7" cy="254.9" r="0.54" fill="#5234a8" opacity="0.8"/>
<circle cx="206.1" cy="279.2" r="0.66" fill="#5234a8" opacity="0.8"/>
<circle cx="209.9" cy="270.4" r="0.70" fill="#5234a8" opacity="0.8"/>
<circle cx="208.2" cy="274.3" r="0.40" fill="#5234a8" opacity="0.8"/>
<circle cx="200.4" cy="254.7" r="0.46" fill="#5234a8" opacity="0.8"/>
<circle cx="201.3" cy="279.3" r="0.55" fill="#5234a8" opacity="0.8"/>
<circle cx="207.5" cy="271.9" r="0.61" fill="#5234a8" opacity="0.8"/>
<circle cx="205.9" cy="250.1" r="0.66" fill="#5234a8" opacity="0.8"/>
<circle cx="209.0" cy="267.6" r="0.54" fill="#5234a8" opacity="0.8"/>
<circle cx="207.9" cy="252.3" r="0.63" fill="#5234a8" opacity="0.8"/>
<circle cx="203.0" cy="252.6" r="0.42" fill="#5234a8" opacity="0.8"/>
<circle cx="208.8" cy="257.2" r="0.63" fill="#5234a8" opacity="0.8"/>
<circle cx="211.7" cy="267.3" r="0.47" fill="#5234a8" opacity="0.8"/>
<circle cx="201.1" cy="286.5" r="0.61" fill="#5234a8" opacity="0.8"/>
<circle cx="203.5" cy="286.1" r="0.33" fill="#5234a8" opacity="0.8"/>
<circle cx="195.5" cy="283.0" r="0.60" fill="#5234a8" opacity="0.8"/>
<circle cx="198.2" cy="285.5" r="0.30" fill="#5234a8" opacity="0.8"/>
<circle cx="194.0" cy="283.2" r="0.57" fill="#5234a8" opacity="0.8"/>
<circle cx="204.8" cy="286.4" r="0.42" fill="#5234a8" opacity="0.8"/>
<circle cx="201.8" cy="284.7" r="0.49" fill="#5234a8" opacity="0.8"/>
<circle cx="195.0" cy="288.1" r="0.38" fill="#5234a8" opacity="0.8"/>
<circle cx="209.6" cy="288.5" r="0.31" fill="#5234a8" opacity="0.8"/>
<circle cx="200.8" cy="287.6" r="0.69" fill="#5234a8" opacity="0.8"/>
<circle cx="200.6" cy="283.1" r="0.38" fill="#5234a8" opacity="0.8"/>
<circle cx="209.1" cy="282.7" r="0.53" fill="#5234a8" opacity="0.8"/>
<circle cx="195.4" cy="285.2" r="0.68" fill="#5234a8" opacity="0.8"/>
<circle cx="195.3" cy="287.6" r="0.50" fill="#5234a8" opacity="0.8"/>
<circle cx="208.1" cy="286.6" r="0.39" fill="#5234a8" opacity="0.8"/>
<circle cx="208.3" cy="284.9" r="0.31" fill="#5234a8" opacity="0.8"/>
<circle cx="193.1" cy="284.9" r="0.48" fill="#5234a8" opacity="0.8"/>
<circle cx="198.1" cy="282.1" r="0.44" fill="#5234a8" opacity="0.8"/>
<circle cx="198.4" cy="287.7" r="0.30" fill="#5234a8" opacity="0.8"/>
<circle cx="205.8" cy="287.7" r="0.35" fill="#5234a8" opacity="0.8"/>
<ellipse cx="229" cy="266" rx="7.5" ry="21" fill="#8a70d0" opacity="0.35"/>
<circle cx="235.7" cy="275.5" r="0.80" fill="#5234a8" opacity="0.8"/>
<circle cx="224.9" cy="259.5" r="0.52" fill="#5234a8" opacity="0.8"/>
<circle cx="237.0" cy="269.7" r="0.50" fill="#5234a8" opacity="0.8"/>
<circle cx="227.3" cy="254.9" r="0.33" fill="#5234a8" opacity="0.8"/>
<circle cx="221.7" cy="281.2" r="0.46" fill="#5234a8" opacity="0.8"/>
<circle cx="235.9" cy="253.7" r="0.45" fill="#5234a8" opacity="0.8"/>
<circle cx="228.7" cy="250.9" r="0.51" fill="#5234a8" opacity="0.8"/>
<circle cx="236.3" cy="283.6" r="0.75" fill="#5234a8" opacity="0.8"/>
<circle cx="230.7" cy="284.9" r="0.82" fill="#5234a8" opacity="0.8"/>
<circle cx="229.3" cy="275.8" r="0.33" fill="#5234a8" opacity="0.8"/>
<circle cx="232.4" cy="263.2" r="0.71" fill="#5234a8" opacity="0.8"/>
<circle cx="231.0" cy="255.5" r="0.33" fill="#5234a8" opacity="0.8"/>
<circle cx="235.8" cy="248.0" r="0.56" fill="#5234a8" opacity="0.8"/>
<circle cx="225.8" cy="256.0" r="0.71" fill="#5234a8" opacity="0.8"/>
<circle cx="236.6" cy="254.2" r="0.66" fill="#5234a8" opacity="0.8"/>
<circle cx="225.1" cy="268.2" r="0.52" fill="#5234a8" opacity="0.8"/>
<circle cx="222.8" cy="249.6" r="0.41" fill="#5234a8" opacity="0.8"/>
<circle cx="235.4" cy="265.4" r="0.42" fill="#5234a8" opacity="0.8"/>
<circle cx="235.4" cy="288.8" r="0.55" fill="#5234a8" opacity="0.8"/>
<circle cx="222.4" cy="251.0" r="0.35" fill="#5234a8" opacity="0.8"/>
<circle cx="225.8" cy="246.3" r="0.43" fill="#5234a8" opacity="0.8"/>
<circle cx="224.4" cy="268.8" r="0.79" fill="#5234a8" opacity="0.8"/>
<circle cx="232.7" cy="261.4" r="0.53" fill="#5234a8" opacity="0.8"/>
<circle cx="228.9" cy="259.7" r="0.49" fill="#5234a8" opacity="0.8"/>
<circle cx="221.1" cy="255.0" r="0.83" fill="#5234a8" opacity="0.8"/>
<circle cx="222.1" cy="265.7" r="0.65" fill="#5234a8" opacity="0.8"/>
<circle cx="234.7" cy="252.2" r="0.45" fill="#5234a8" opacity="0.8"/>
<circle cx="224.2" cy="260.8" r="0.55" fill="#5234a8" opacity="0.8"/>
<circle cx="236.2" cy="281.9" r="0.78" fill="#5234a8" opacity="0.8"/>
<circle cx="220.4" cy="243.5" r="0.69" fill="#5234a8" opacity="0.8"/>
<circle cx="235.2" cy="264.2" r="0.62" fill="#5234a8" opacity="0.8"/>
<circle cx="220.0" cy="260.4" r="0.81" fill="#5234a8" opacity="0.8"/>
<circle cx="234.0" cy="282.2" r="0.83" fill="#5234a8" opacity="0.8"/>
<circle cx="224.2" cy="247.1" r="0.38" fill="#5234a8" opacity="0.8"/>
<circle cx="228.9" cy="274.1" r="0.82" fill="#5234a8" opacity="0.8"/>
<circle cx="232.3" cy="272.4" r="0.72" fill="#5234a8" opacity="0.8"/>
<circle cx="227.8" cy="267.9" r="0.32" fill="#5234a8" opacity="0.8"/>
<circle cx="233.3" cy="252.9" r="0.81" fill="#5234a8" opacity="0.8"/>
<circle cx="231.0" cy="256.3" r="0.37" fill="#5234a8" opacity="0.8"/>
<circle cx="224.3" cy="271.9" r="0.68" fill="#5234a8" opacity="0.8"/>
<circle cx="221.9" cy="245.3" r="0.59" fill="#5234a8" opacity="0.8"/>
<circle cx="229.9" cy="260.2" r="0.42" fill="#5234a8" opacity="0.8"/>
<circle cx="230.2" cy="242.5" r="0.47" fill="#5234a8" opacity="0.8"/>
<circle cx="227.8" cy="287.1" r="0.65" fill="#5234a8" opacity="0.8"/>
<circle cx="235.0" cy="264.3" r="0.43" fill="#5234a8" opacity="0.8"/>
<circle cx="224.2" cy="287.1" r="0.69" fill="#5234a8" opacity="0.8"/>
<circle cx="225.2" cy="243.0" r="0.57" fill="#5234a8" opacity="0.8"/>
<circle cx="231.5" cy="261.7" r="0.44" fill="#5234a8" opacity="0.8"/>
<circle cx="231.3" cy="285.5" r="0.42" fill="#5234a8" opacity="0.8"/>
<circle cx="220.6" cy="257.9" r="0.53" fill="#5234a8" opacity="0.8"/>
<circle cx="231.6" cy="251.3" r="0.74" fill="#5234a8" opacity="0.8"/>
<circle cx="232.6" cy="265.7" r="0.41" fill="#5234a8" opacity="0.8"/>
<circle cx="236.5" cy="256.7" r="0.75" fill="#5234a8" opacity="0.8"/>
<circle cx="223.9" cy="252.4" r="0.72" fill="#5234a8" opacity="0.8"/>
<circle cx="225.0" cy="286.7" r="0.57" fill="#5234a8" opacity="0.8"/>
<circle cx="223.2" cy="252.5" r="0.53" fill="#5234a8" opacity="0.8"/>
<circle cx="231.3" cy="286.6" r="0.38" fill="#5234a8" opacity="0.8"/>
<circle cx="226.7" cy="252.0" r="0.84" fill="#5234a8" opacity="0.8"/>
<circle cx="222.4" cy="244.4" r="0.33" fill="#5234a8" opacity="0.8"/>
<circle cx="226.7" cy="284.2" r="0.79" fill="#5234a8" opacity="0.8"/>
<circle cx="232.5" cy="288.9" r="0.81" fill="#5234a8" opacity="0.8"/>
<circle cx="225.6" cy="250.7" r="0.81" fill="#5234a8" opacity="0.8"/>
<circle cx="232.7" cy="243.5" r="0.67" fill="#5234a8" opacity="0.8"/>
<circle cx="226.4" cy="259.6" r="0.48" fill="#5234a8" opacity="0.8"/>
<circle cx="222.9" cy="242.1" r="0.45" fill="#5234a8" opacity="0.8"/>
<circle cx="226.0" cy="286.9" r="0.37" fill="#5234a8" opacity="0.8"/>
<circle cx="236.4" cy="251.7" r="0.50" fill="#5234a8" opacity="0.8"/>
<circle cx="234.0" cy="280.6" r="0.54" fill="#5234a8" opacity="0.8"/>
<circle cx="220.8" cy="264.3" r="0.50" fill="#5234a8" opacity="0.8"/>
<circle cx="235.6" cy="251.1" r="0.50" fill="#5234a8" opacity="0.8"/>
<circle cx="235.2" cy="243.4" r="0.53" fill="#5234a8" opacity="0.8"/>
<circle cx="233.8" cy="278.0" r="0.32" fill="#5234a8" opacity="0.8"/>
<circle cx="220.6" cy="244.9" r="0.81" fill="#5234a8" opacity="0.8"/>
<circle cx="224.4" cy="277.1" r="0.79" fill="#5234a8" opacity="0.8"/>
<circle cx="225.8" cy="254.8" r="0.83" fill="#5234a8" opacity="0.8"/>
<circle cx="230.5" cy="254.3" r="0.69" fill="#5234a8" opacity="0.8"/>
<circle cx="225.4" cy="255.0" r="0.30" fill="#5234a8" opacity="0.8"/>
<circle cx="232.8" cy="285.1" r="0.65" fill="#5234a8" opacity="0.8"/>
<circle cx="236.0" cy="243.1" r="0.43" fill="#5234a8" opacity="0.8"/>
<circle cx="228.1" cy="287.0" r="0.82" fill="#5234a8" opacity="0.8"/>
<circle cx="226.6" cy="253.8" r="0.54" fill="#5234a8" opacity="0.8"/>
<circle cx="228.4" cy="285.6" r="0.40" fill="#5234a8" opacity="0.8"/>
<circle cx="233.6" cy="276.7" r="0.75" fill="#5234a8" opacity="0.8"/>
<circle cx="233.1" cy="270.5" r="0.48" fill="#5234a8" opacity="0.8"/>
<circle cx="225.4" cy="259.0" r="0.73" fill="#5234a8" opacity="0.8"/>
<circle cx="221.3" cy="251.3" r="0.71" fill="#5234a8" opacity="0.8"/>
<circle cx="224.2" cy="245.0" r="0.32" fill="#5234a8" opacity="0.8"/>
<circle cx="229.4" cy="257.3" r="0.84" fill="#5234a8" opacity="0.8"/>
<circle cx="235.0" cy="288.4" r="0.45" fill="#5234a8" opacity="0.8"/>
<circle cx="221.4" cy="246.5" r="0.57" fill="#5234a8" opacity="0.8"/>
<circle cx="232.1" cy="263.0" r="0.43" fill="#5234a8" opacity="0.8"/>
<circle cx="227.1" cy="271.2" r="0.67" fill="#5234a8" opacity="0.8"/>
<circle cx="232.7" cy="281.8" r="0.67" fill="#5234a8" opacity="0.8"/>
<circle cx="222.1" cy="281.5" r="0.46" fill="#5234a8" opacity="0.8"/>
<circle cx="229.6" cy="259.5" r="0.71" fill="#5234a8" opacity="0.8"/>
<circle cx="223.4" cy="253.6" r="0.43" fill="#5234a8" opacity="0.8"/>
<circle cx="222.6" cy="283.6" r="0.62" fill="#5234a8" opacity="0.8"/>
<circle cx="225.5" cy="260.6" r="0.85" fill="#5234a8" opacity="0.8"/>
<circle cx="228.6" cy="252.9" r="0.74" fill="#5234a8" opacity="0.8"/>
<circle cx="231.1" cy="288.6" r="0.36" fill="#5234a8" opacity="0.8"/>
<circle cx="228.1" cy="280.5" r="0.76" fill="#5234a8" opacity="0.8"/>
<circle cx="235.5" cy="243.9" r="0.46" fill="#5234a8" opacity="0.8"/>
<circle cx="222.0" cy="250.9" r="0.84" fill="#5234a8" opacity="0.8"/>
<circle cx="229.9" cy="285.7" r="0.50" fill="#5234a8" opacity="0.8"/>
<circle cx="234.7" cy="263.1" r="0.44" fill="#5234a8" opacity="0.8"/>
<circle cx="233.2" cy="286.4" r="0.36" fill="#5234a8" opacity="0.8"/>
<circle cx="230.1" cy="271.1" r="0.42" fill="#5234a8" opacity="0.8"/>
<circle cx="226.3" cy="248.6" r="0.41" fill="#5234a8" opacity="0.8"/>
<circle cx="224.3" cy="270.2" r="0.66" fill="#5234a8" opacity="0.8"/>
<circle cx="223.5" cy="242.5" r="0.48" fill="#5234a8" opacity="0.8"/>
<circle cx="231.5" cy="250.7" r="0.47" fill="#5234a8" opacity="0.8"/>
<circle cx="223.5" cy="279.4" r="0.60" fill="#5234a8" opacity="0.8"/>
<circle cx="221.1" cy="246.8" r="0.52" fill="#5234a8" opacity="0.8"/>
<circle cx="229.4" cy="272.0" r="0.35" fill="#5234a8" opacity="0.8"/>
<circle cx="222.8" cy="274.7" r="0.53" fill="#5234a8" opacity="0.8"/>
<circle cx="224.8" cy="256.5" r="0.82" fill="#5234a8" opacity="0.8"/>
<circle cx="225.3" cy="268.6" r="0.50" fill="#5234a8" opacity="0.8"/>
<circle cx="227.1" cy="282.6" r="0.85" fill="#5234a8" opacity="0.8"/>
<circle cx="226.2" cy="251.3" r="0.70" fill="#5234a8" opacity="0.8"/>
<circle cx="223.5" cy="242.3" r="0.80" fill="#5234a8" opacity="0.8"/>
<circle cx="227.2" cy="280.6" r="0.52" fill="#5234a8" opacity="0.8"/>
<circle cx="235.0" cy="263.7" r="0.39" fill="#5234a8" opacity="0.8"/>
<circle cx="220.3" cy="267.9" r="0.65" fill="#5234a8" opacity="0.8"/>
<circle cx="235.5" cy="246.2" r="0.64" fill="#5234a8" opacity="0.8"/>
<circle cx="226.3" cy="265.7" r="0.38" fill="#5234a8" opacity="0.8"/>
<circle cx="224.8" cy="266.5" r="0.81" fill="#5234a8" opacity="0.8"/>
<circle cx="221.8" cy="265.1" r="0.74" fill="#5234a8" opacity="0.8"/>
<circle cx="236.4" cy="251.3" r="0.37" fill="#5234a8" opacity="0.8"/>
<circle cx="236.0" cy="287.9" r="0.57" fill="#5234a8" opacity="0.8"/>
<circle cx="220.9" cy="285.5" r="0.51" fill="#5234a8" opacity="0.8"/>
</g>
</g>
<rect x="245.4" y="238.5" width="74.1" height="51.2" fill="#262523"/>
<g clip-path="url(#cp02)"><g filter="url(#bl)">
<path d="M258.5,236.5 C259.5,236.5 260.8,239.7 261.4,241.5 C262.0,243.3 262.1,245.4 262.4,247.5 C262.7,249.6 262.8,250.7 263.4,253.9 C264.0,257.1 265.5,262.6 265.8,266.7 C266.1,270.8 266.0,275.1 265.3,278.4 C264.5,281.8 262.7,284.6 261.5,286.6 C260.4,288.7 259.6,290.0 258.2,290.7 C256.8,291.4 254.7,291.7 253.4,290.7 C252.0,289.7 250.8,287.1 250.0,284.6 C249.2,282.0 248.7,280.0 248.5,275.4 C248.3,270.7 248.9,260.3 248.7,256.5 C248.5,252.7 248.0,253.7 247.5,252.7 C247.0,251.7 244.9,251.4 246.0,250.5 C247.1,249.6 252.2,248.5 253.8,247.0 C255.4,245.5 254.6,243.2 255.4,241.5 C256.2,239.8 257.5,236.5 258.5,236.5 Z" fill="url(#bodyg)" opacity="1.00"/>
<path d="M258.5,236.5 C259.5,236.5 260.8,239.7 261.4,241.5 C262.0,243.3 262.1,245.4 262.4,247.5 C262.7,249.6 262.8,250.7 263.4,253.9 C264.0,257.1 265.5,262.6 265.8,266.7 C266.1,270.8 266.0,275.1 265.3,278.4 C264.5,281.8 262.7,284.6 261.5,286.6 C260.4,288.7 259.6,290.0 258.2,290.7 C256.8,291.4 254.7,291.7 253.4,290.7 C252.0,289.7 250.8,287.1 250.0,284.6 C249.2,282.0 248.7,280.0 248.5,275.4 C248.3,270.7 248.9,260.3 248.7,256.5 C248.5,252.7 248.0,253.7 247.5,252.7 C247.0,251.7 244.9,251.4 246.0,250.5 C247.1,249.6 252.2,248.5 253.8,247.0 C255.4,245.5 254.6,243.2 255.4,241.5 C256.2,239.8 257.5,236.5 258.5,236.5 Z" fill="url(#edgeg)"/>
<ellipse cx="256.7" cy="245.0" rx="0.9" ry="1.1" fill="#606060" opacity="0.8"/>
<ellipse cx="260.7" cy="245.0" rx="0.9" ry="1.1" fill="#606060" opacity="0.8"/>
<ellipse cx="257.6" cy="251.5" rx="4.2" ry="2.5" fill="#8a8a8a" opacity="0.35"/>
<path d="M243.4,283.3 Q248.4,282.0 254.4,286.1" stroke="#afafaf" stroke-width="2.6" fill="none" stroke-linecap="round"/>
<path d="M246.0,251.3 L254.8,255.0" stroke="#c8c8c8" stroke-width="2.6" fill="none" stroke-linecap="round"/>
<path d="M282.5,236.5 C283.5,236.5 284.8,239.7 285.4,241.5 C286.0,243.3 285.4,245.4 286.4,247.5 C287.4,249.6 290.3,250.7 291.6,253.9 C292.9,257.1 294.0,262.6 294.3,266.7 C294.6,270.8 294.5,275.1 293.7,278.4 C292.9,281.8 290.9,284.6 289.6,286.6 C288.3,288.7 287.4,290.0 285.9,290.7 C284.4,291.4 282.1,291.7 280.6,290.7 C279.1,289.7 277.8,287.1 276.9,284.6 C276.0,282.0 275.5,280.4 275.2,275.4 C275.0,270.4 275.7,258.6 275.4,254.5 C275.1,250.4 274.1,251.7 273.5,250.7 C272.9,249.7 271.3,249.1 272.0,248.5 C272.7,247.9 276.6,248.2 277.8,247.0 C279.0,245.8 278.6,243.2 279.4,241.5 C280.2,239.8 281.5,236.5 282.5,236.5 Z" fill="url(#bodyg)" opacity="0.95"/>
<path d="M282.5,236.5 C283.5,236.5 284.8,239.7 285.4,241.5 C286.0,243.3 285.4,245.4 286.4,247.5 C287.4,249.6 290.3,250.7 291.6,253.9 C292.9,257.1 294.0,262.6 294.3,266.7 C294.6,270.8 294.5,275.1 293.7,278.4 C292.9,281.8 290.9,284.6 289.6,286.6 C288.3,288.7 287.4,290.0 285.9,290.7 C284.4,291.4 282.1,291.7 280.6,290.7 C279.1,289.7 277.8,287.1 276.9,284.6 C276.0,282.0 275.5,280.4 275.2,275.4 C275.0,270.4 275.7,258.6 275.4,254.5 C275.1,250.4 274.1,251.7 273.5,250.7 C272.9,249.7 271.3,249.1 272.0,248.5 C272.7,247.9 276.6,248.2 277.8,247.0 C279.0,245.8 278.6,243.2 279.4,241.5 C280.2,239.8 281.5,236.5 282.5,236.5 Z" fill="url(#edgeg)"/>
<ellipse cx="280.7" cy="245.0" rx="0.9" ry="1.1" fill="#606060" opacity="0.8"/>
<ellipse cx="284.7" cy="245.0" rx="0.9" ry="1.1" fill="#606060" opacity="0.8"/>
<ellipse cx="283.4" cy="251.5" rx="4.6" ry="2.5" fill="#8a8a8a" opacity="0.35"/>
<path d="M270.0,283.3 Q275.0,282.0 281.0,286.1" stroke="#a6a6a6" stroke-width="2.6" fill="none" stroke-linecap="round"/>
<path d="M272.0,249.3 L282.2,253.0" stroke="#bebebe" stroke-width="2.6" fill="none" stroke-linecap="round"/>
</g>
<g filter="url(#bl2)">
<ellipse cx="257.5" cy="267.5" rx="8.6" ry="13.5" fill="#6a52c6" opacity="0.8"/>
<circle cx="265.2" cy="271.4" r="0.89" fill="#5a44b8" opacity="0.85"/>
<circle cx="251.0" cy="276.0" r="0.53" fill="#5a44b8" opacity="0.85"/>
<circle cx="255.7" cy="277.7" r="0.90" fill="#5a44b8" opacity="0.85"/>
<circle cx="251.5" cy="260.1" r="0.64" fill="#5a44b8" opacity="0.85"/>
<circle cx="257.8" cy="264.7" r="0.47" fill="#5a44b8" opacity="0.85"/>
<circle cx="252.7" cy="274.3" r="0.94" fill="#5a44b8" opacity="0.85"/>
<circle cx="248.8" cy="269.7" r="0.85" fill="#5a44b8" opacity="0.85"/>
<circle cx="248.7" cy="277.5" r="0.47" fill="#5a44b8" opacity="0.85"/>
<circle cx="259.4" cy="269.4" r="0.78" fill="#5a44b8" opacity="0.85"/>
<circle cx="253.8" cy="265.8" r="0.75" fill="#5a44b8" opacity="0.85"/>
<circle cx="256.1" cy="272.4" r="0.67" fill="#5a44b8" opacity="0.85"/>
<circle cx="256.3" cy="254.7" r="0.77" fill="#5a44b8" opacity="0.85"/>
<circle cx="257.3" cy="260.6" r="0.86" fill="#5a44b8" opacity="0.85"/>
<circle cx="262.8" cy="266.8" r="0.51" fill="#5a44b8" opacity="0.85"/>
<circle cx="257.0" cy="257.0" r="0.48" fill="#5a44b8" opacity="0.85"/>
<circle cx="256.2" cy="256.6" r="0.67" fill="#5a44b8" opacity="0.85"/>
<circle cx="257.7" cy="255.1" r="0.78" fill="#5a44b8" opacity="0.85"/>
<circle cx="249.6" cy="274.5" r="0.87" fill="#5a44b8" opacity="0.85"/>
<circle cx="257.7" cy="255.5" r="0.70" fill="#5a44b8" opacity="0.85"/>
<circle cx="255.2" cy="280.6" r="0.48" fill="#5a44b8" opacity="0.85"/>
<circle cx="264.3" cy="281.9" r="0.84" fill="#5a44b8" opacity="0.85"/>
<circle cx="263.5" cy="259.4" r="0.99" fill="#5a44b8" opacity="0.85"/>
<circle cx="257.3" cy="280.8" r="0.95" fill="#5a44b8" opacity="0.85"/>
<circle cx="251.1" cy="276.1" r="0.96" fill="#5a44b8" opacity="0.85"/>
<circle cx="249.2" cy="263.8" r="0.85" fill="#5a44b8" opacity="0.85"/>
<circle cx="251.0" cy="279.1" r="0.56" fill="#5a44b8" opacity="0.85"/>
<circle cx="263.5" cy="258.0" r="0.70" fill="#5a44b8" opacity="0.85"/>
<circle cx="265.5" cy="259.8" r="0.56" fill="#5a44b8" opacity="0.85"/>
<circle cx="257.6" cy="262.9" r="0.42" fill="#5a44b8" opacity="0.85"/>
<circle cx="251.5" cy="258.5" r="0.96" fill="#5a44b8" opacity="0.85"/>
<circle cx="260.9" cy="279.1" r="0.50" fill="#5a44b8" opacity="0.85"/>
<circle cx="262.9" cy="257.2" r="0.72" fill="#5a44b8" opacity="0.85"/>
<circle cx="260.1" cy="264.1" r="0.92" fill="#5a44b8" opacity="0.85"/>
<circle cx="258.5" cy="270.2" r="0.93" fill="#5a44b8" opacity="0.85"/>
<circle cx="250.0" cy="281.8" r="0.78" fill="#5a44b8" opacity="0.85"/>
<circle cx="255.5" cy="276.3" r="0.56" fill="#5a44b8" opacity="0.85"/>
<circle cx="266.8" cy="270.2" r="0.62" fill="#5a44b8" opacity="0.85"/>
<circle cx="262.5" cy="266.4" r="0.51" fill="#5a44b8" opacity="0.85"/>
<circle cx="262.1" cy="255.4" r="0.89" fill="#5a44b8" opacity="0.85"/>
<circle cx="252.8" cy="271.9" r="0.99" fill="#5a44b8" opacity="0.85"/>
<circle cx="259.1" cy="272.6" r="0.59" fill="#5a44b8" opacity="0.85"/>
<circle cx="248.0" cy="254.9" r="0.49" fill="#5a44b8" opacity="0.85"/>
<circle cx="259.7" cy="266.1" r="0.71" fill="#5a44b8" opacity="0.85"/>
<circle cx="265.0" cy="257.7" r="0.54" fill="#5a44b8" opacity="0.85"/>
<circle cx="260.4" cy="254.6" r="0.40" fill="#5a44b8" opacity="0.85"/>
<circle cx="254.7" cy="257.0" r="0.61" fill="#5a44b8" opacity="0.85"/>
<circle cx="252.3" cy="270.3" r="0.75" fill="#5a44b8" opacity="0.85"/>
<circle cx="251.9" cy="271.5" r="0.68" fill="#5a44b8" opacity="0.85"/>
<circle cx="250.6" cy="280.2" r="0.55" fill="#5a44b8" opacity="0.85"/>
<circle cx="250.8" cy="256.7" r="0.78" fill="#5a44b8" opacity="0.85"/>
<circle cx="264.6" cy="275.9" r="0.64" fill="#5a44b8" opacity="0.85"/>
<circle cx="253.0" cy="254.3" r="0.79" fill="#5a44b8" opacity="0.85"/>
<circle cx="258.7" cy="263.8" r="0.79" fill="#5a44b8" opacity="0.85"/>
<circle cx="256.4" cy="280.2" r="0.84" fill="#5a44b8" opacity="0.85"/>
<circle cx="252.7" cy="279.3" r="0.43" fill="#5a44b8" opacity="0.85"/>
<circle cx="258.1" cy="265.4" r="0.54" fill="#5a44b8" opacity="0.85"/>
<circle cx="249.1" cy="275.8" r="0.41" fill="#5a44b8" opacity="0.85"/>
<circle cx="258.5" cy="280.3" r="0.49" fill="#5a44b8" opacity="0.85"/>
<circle cx="251.8" cy="271.0" r="0.70" fill="#5a44b8" opacity="0.85"/>
<circle cx="260.2" cy="276.8" r="0.50" fill="#5a44b8" opacity="0.85"/>
<ellipse cx="252" cy="279" rx="3.5" ry="3" fill="#f0f0f4" opacity="0.8"/>
<ellipse cx="259.5" cy="266" rx="6.2" ry="10" fill="#4450c0"/>
<ellipse cx="259.5" cy="266" rx="5.3" ry="8.9" fill="#44b4c8"/>
<ellipse cx="259.5" cy="266" rx="4.6" ry="8.0" fill="#a8d43a"/>
<circle cx="261" cy="260.4" r="2.9" fill="#f0d21e"/>
<circle cx="258.5" cy="269.8" r="5.0" fill="#f0d21e"/>
<circle cx="261" cy="260.4" r="2.3" fill="#dc0c0c"/>
<circle cx="258.5" cy="269.8" r="4.3" fill="#dc0c0c"/>
<rect x="266.5" y="250" width="7" height="40" fill="#161418" opacity="0.5"/>
</g>
</g>
<rect x="326.0" y="238.3" width="68.6" height="51.3" fill="#262523"/>
<g clip-path="url(#cp03)"><g filter="url(#bl)">
<path d="M362.8,236.3 C364.7,236.3 367.5,239.5 368.6,241.3 C369.7,243.1 369.8,245.2 369.6,247.3 C369.4,249.4 367.4,250.5 367.5,253.7 C367.5,256.9 369.5,262.4 369.8,266.5 C370.1,270.6 370.0,275.0 369.3,278.3 C368.6,281.6 366.8,284.5 365.7,286.5 C364.5,288.6 363.8,289.9 362.4,290.6 C361.1,291.3 359.1,291.6 357.8,290.6 C356.4,289.6 355.3,287.0 354.5,284.5 C353.7,281.9 353.3,279.9 353.1,275.2 C352.9,270.5 353.5,260.1 353.3,256.3 C353.0,252.5 352.0,253.5 351.5,252.5 C351.0,251.5 349.4,251.2 350.0,250.3 C350.6,249.4 354.0,248.3 355.1,246.8 C356.2,245.3 355.4,243.1 356.7,241.3 C358.0,239.6 360.8,236.3 362.8,236.3 Z" fill="url(#bodyg)" opacity="1.00"/>
<path d="M362.8,236.3 C364.7,236.3 367.5,239.5 368.6,241.3 C369.7,243.1 369.8,245.2 369.6,247.3 C369.4,249.4 367.4,250.5 367.5,253.7 C367.5,256.9 369.5,262.4 369.8,266.5 C370.1,270.6 370.0,275.0 369.3,278.3 C368.6,281.6 366.8,284.5 365.7,286.5 C364.5,288.6 363.8,289.9 362.4,290.6 C361.1,291.3 359.1,291.6 357.8,290.6 C356.4,289.6 355.3,287.0 354.5,284.5 C353.7,281.9 353.3,279.9 353.1,275.2 C352.9,270.5 353.5,260.1 353.3,256.3 C353.0,252.5 352.0,253.5 351.5,252.5 C351.0,251.5 349.4,251.2 350.0,250.3 C350.6,249.4 354.0,248.3 355.1,246.8 C356.2,245.3 355.4,243.1 356.7,241.3 C358.0,239.6 360.8,236.3 362.8,236.3 Z" fill="url(#edgeg)"/>
<ellipse cx="360.9" cy="244.8" rx="0.9" ry="1.1" fill="#606060" opacity="0.8"/>
<ellipse cx="364.9" cy="244.8" rx="0.9" ry="1.1" fill="#606060" opacity="0.8"/>
<ellipse cx="361.9" cy="251.3" rx="4.0" ry="2.5" fill="#8a8a8a" opacity="0.35"/>
<path d="M348.0,283.2 Q353.0,281.9 359.0,286.0" stroke="#afafaf" stroke-width="2.6" fill="none" stroke-linecap="round"/>
<path d="M350.0,251.1 L359.2,254.8" stroke="#c8c8c8" stroke-width="2.6" fill="none" stroke-linecap="round"/>
</g>
<g filter="url(#bl2)">
<rect x="326" y="248" width="3.5" height="36" fill="#3a48b0"/>
<rect x="326" y="262" width="2" height="14" fill="#9ed23c"/>
<path d="M330,238 L343.5,238 C345.5,243 347.8,250 348,260 C348.2,272 348,281 347,290 L327,290 C326.6,281 326.6,270 327,260 C327.6,251 328.5,243 330,238 Z" fill="#e8a0a8"/>
<path d="M330.8,238 L342.8,238 C344.8,243 347,250 347.2,260 C347.4,272 347.2,281 346.3,290 L327.8,290 C327.4,281 327.4,270 327.8,260 C328.4,251 329.3,243 330.8,238 Z" fill="#e00a0a"/>
<ellipse cx="334.5" cy="242" rx="2" ry="1.6" fill="#f3c020"/>
<rect x="347" y="238" width="5" height="52" fill="#1c1a40" opacity="0.9"/>
<rect x="349" y="250" width="4" height="36" fill="#4a3aa8" opacity="0.85"/>
<path d="M357,238 L368,238 C371,241 372,246 369,250 L355,251 C354.5,247 355,242 357,238 Z" fill="#d8d8d8"/>
<ellipse cx="365" cy="244" rx="2.2" ry="2.4" fill="#8a8a8a" opacity="0.7"/>
<ellipse cx="361" cy="251.5" rx="8" ry="2.6" fill="#d4dcf8" opacity="0.95"/>
<path d="M353.5,255.5 C357,253.5 368,253.5 371.5,256.5 C373.5,262 372.5,270 368.5,275 C363,277.5 357,277 354,275 C352.5,268 352.5,261 353.5,255.5 Z" fill="#b4d83a"/>
<path d="M355.3,258 C359,256 367.5,256 370.6,258.8 C372,263 371,269.5 367.5,273.3 C363,275.3 358.5,274.6 356.2,272 C355,267 354.7,262 355.3,258 Z" fill="#e00a0a"/>
<rect x="353" y="258" width="2.6" height="16" fill="#f0d21e" opacity="0.85"/>
<ellipse cx="355.3" cy="275" rx="1.6" ry="2.4" fill="#d01010"/>
<path d="M353,276 L369,275.5 C369,281 368,286 366,290 L353,290 Z" fill="#f0f4f4"/>
<rect x="352" y="276" width="3" height="14" fill="#a8e0e0" opacity="0.8"/>
<rect x="381.2" y="236" width="1.8" height="6" fill="#e0e0e0"/>
</g>
</g>
<rect x="400.3" y="237.9" width="76.2" height="52.1" fill="#262523"/>
<g clip-path="url(#cp04)"><g filter="url(#bl)">
</g>
<g filter="url(#bl2)">
<path d="M400,238 L432,238 C434,244 438,249 446,250 C452,250 456,251 458,253 L458,281 C450,283 440,282 435,284 C430,287 420,289 400,290 Z" fill="#6b55c4"/>
<rect x="400" y="238" width="3" height="52" fill="#4a5ac0"/>
<rect x="424" y="238" width="10" height="9" fill="#3a2f70" opacity="0.7"/>
<path d="M411.5,238 L418.5,238 C420.5,242 422,246 425,249 C429,256 430.5,266 430,276 C429.5,283 427,288 421,289.5 L412,289.5 C408,286.5 404.5,285.5 402.5,283 C404,280.5 407.5,281 408.5,279 C408,270 407,262 408,256 C405.5,255.5 403,253.5 402,251 C404,249 407,249.5 409,248.5 C410,245.5 410.5,241.5 411.5,238 Z" fill="#e00a0a"/>
<ellipse cx="415" cy="245.5" rx="4.6" ry="2.6" fill="#f0c830" opacity="0.9"/>
<ellipse cx="423.5" cy="248.5" rx="2.3" ry="1.8" fill="#8ed23c"/>
<ellipse cx="423.2" cy="270.7" rx="2.0" ry="3.0" fill="#ffffff"/>
<path d="M441,238 L451,238 C452.5,242 452,247 449.5,250 L442.5,250 C440.5,247 440.5,242 441,238 Z" fill="#c4c4c4"/>
<ellipse cx="446" cy="245" rx="2" ry="2" fill="#707070" opacity="0.6"/>
<path d="M437,282.5 C442,281 452,281 456,282.5 L455,290 L438,290 Z" fill="#ececec"/>
<ellipse cx="449.2" cy="267" rx="10.2" ry="9.4" fill="#3ab6c4" transform="rotate(-25 449.2 267)"/>
<ellipse cx="449.2" cy="267" rx="9.4" ry="8.6" fill="#f0e030" transform="rotate(-25 449.2 267)"/>
<ellipse cx="449.5" cy="267.2" rx="8.4" ry="7.5" fill="#e00a0a" transform="rotate(-25 449.5 267.2)"/>
<rect x="469" y="236" width="3" height="10" fill="#d8d8d8"/>
</g>
</g>
<rect x="71.2" y="301.9" width="74.0" height="52.5" fill="#262523"/>
<g clip-path="url(#cp10)"><g filter="url(#bl)">
<path d="M86.3,299.9 C87.5,299.9 89.0,303.1 89.7,304.9 C90.4,306.7 89.9,308.8 90.7,310.9 C91.5,313.0 93.4,314.3 94.4,317.6 C95.4,321.0 96.4,326.6 96.7,330.8 C97.0,335.0 96.9,339.4 96.2,342.8 C95.5,346.3 93.7,349.2 92.6,351.2 C91.4,353.3 90.6,354.7 89.3,355.4 C88.0,356.1 85.9,356.4 84.6,355.4 C83.3,354.4 82.1,351.8 81.3,349.1 C80.5,346.5 80.1,344.2 79.9,339.7 C79.7,335.2 81.1,325.9 80.1,322.4 C79.0,318.9 74.8,319.6 73.5,318.6 C72.2,317.6 70.7,317.8 72.0,316.4 C73.3,315.0 79.4,312.3 81.2,310.4 C83.0,308.5 81.9,306.6 82.8,304.9 C83.7,303.1 85.2,299.9 86.3,299.9 Z" fill="url(#bodyg)" opacity="1.00"/>
<path d="M86.3,299.9 C87.5,299.9 89.0,303.1 89.7,304.9 C90.4,306.7 89.9,308.8 90.7,310.9 C91.5,313.0 93.4,314.3 94.4,317.6 C95.4,321.0 96.4,326.6 96.7,330.8 C97.0,335.0 96.9,339.4 96.2,342.8 C95.5,346.3 93.7,349.2 92.6,351.2 C91.4,353.3 90.6,354.7 89.3,355.4 C88.0,356.1 85.9,356.4 84.6,355.4 C83.3,354.4 82.1,351.8 81.3,349.1 C80.5,346.5 80.1,344.2 79.9,339.7 C79.7,335.2 81.1,325.9 80.1,322.4 C79.0,318.9 74.8,319.6 73.5,318.6 C72.2,317.6 70.7,317.8 72.0,316.4 C73.3,315.0 79.4,312.3 81.2,310.4 C83.0,308.5 81.9,306.6 82.8,304.9 C83.7,303.1 85.2,299.9 86.3,299.9 Z" fill="url(#edgeg)"/>
<ellipse cx="84.5" cy="308.4" rx="0.9" ry="1.1" fill="#606060" opacity="0.8"/>
<ellipse cx="88.5" cy="308.4" rx="0.9" ry="1.1" fill="#606060" opacity="0.8"/>
<ellipse cx="87.1" cy="314.9" rx="4.1" ry="2.5" fill="#8a8a8a" opacity="0.35"/>
<path d="M74.8,347.8 Q79.8,346.5 85.8,350.7" stroke="#afafaf" stroke-width="2.6" fill="none" stroke-linecap="round"/>
<path d="M72.0,317.2 L86.0,320.9" stroke="#c8c8c8" stroke-width="2.6" fill="none" stroke-linecap="round"/>
<path d="M112.5,299.9 C114.0,299.9 116.0,303.1 116.9,304.9 C117.8,306.7 117.4,308.8 117.9,310.9 C118.4,313.0 119.2,314.3 120.0,317.6 C120.8,321.0 122.4,326.6 122.8,330.8 C123.1,335.0 123.0,339.4 122.2,342.8 C121.3,346.3 119.3,349.2 117.9,351.2 C116.6,353.3 115.7,354.7 114.1,355.4 C112.5,356.1 110.1,356.4 108.6,355.4 C107.0,354.4 105.7,351.8 104.8,349.1 C103.8,346.5 103.3,344.2 103.1,339.7 C102.8,335.2 103.6,325.9 103.3,322.4 C102.9,318.9 101.6,319.6 101.0,318.6 C100.4,317.6 98.6,317.8 99.5,316.4 C100.4,315.0 104.8,312.3 106.2,310.4 C107.6,308.5 106.8,306.6 107.8,304.9 C108.8,303.1 110.9,299.9 112.5,299.9 Z" fill="url(#bodyg)" opacity="1.00"/>
<path d="M112.5,299.9 C114.0,299.9 116.0,303.1 116.9,304.9 C117.8,306.7 117.4,308.8 117.9,310.9 C118.4,313.0 119.2,314.3 120.0,317.6 C120.8,321.0 122.4,326.6 122.8,330.8 C123.1,335.0 123.0,339.4 122.2,342.8 C121.3,346.3 119.3,349.2 117.9,351.2 C116.6,353.3 115.7,354.7 114.1,355.4 C112.5,356.1 110.1,356.4 108.6,355.4 C107.0,354.4 105.7,351.8 104.8,349.1 C103.8,346.5 103.3,344.2 103.1,339.7 C102.8,335.2 103.6,325.9 103.3,322.4 C102.9,318.9 101.6,319.6 101.0,318.6 C100.4,317.6 98.6,317.8 99.5,316.4 C100.4,315.0 104.8,312.3 106.2,310.4 C107.6,308.5 106.8,306.6 107.8,304.9 C108.8,303.1 110.9,299.9 112.5,299.9 Z" fill="url(#edgeg)"/>
<ellipse cx="110.7" cy="308.4" rx="0.9" ry="1.1" fill="#606060" opacity="0.8"/>
<ellipse cx="114.7" cy="308.4" rx="0.9" ry="1.1" fill="#606060" opacity="0.8"/>
<ellipse cx="112.4" cy="314.9" rx="4.8" ry="2.5" fill="#8a8a8a" opacity="0.35"/>
<path d="M97.8,347.8 Q102.8,346.5 108.8,350.7" stroke="#afafaf" stroke-width="2.6" fill="none" stroke-linecap="round"/>
<path d="M99.5,317.2 L110.3,320.9" stroke="#c8c8c8" stroke-width="2.6" fill="none" stroke-linecap="round"/>
<path d="M136.0,299.9 C137.1,299.9 138.4,303.1 139.1,304.9 C139.8,306.7 139.3,308.8 140.1,310.9 C140.9,313.0 142.7,314.3 143.7,317.6 C144.6,321.0 145.6,326.6 145.8,330.8 C146.1,335.0 146.0,339.4 145.3,342.8 C144.7,346.3 143.1,349.2 142.0,351.2 C141.0,353.3 140.3,354.7 139.1,355.4 C137.9,356.1 136.0,356.4 134.8,355.4 C133.6,354.4 132.5,351.8 131.8,349.1 C131.1,346.5 130.7,344.2 130.5,339.7 C130.3,335.2 131.0,325.9 130.7,322.4 C130.3,318.9 129.1,319.6 128.5,318.6 C127.9,317.6 126.6,317.8 127.0,316.4 C127.4,315.0 130.2,312.3 131.1,310.4 C132.1,308.5 131.9,306.6 132.7,304.9 C133.5,303.1 134.9,299.9 136.0,299.9 Z" fill="url(#bodyg)" opacity="0.97"/>
<path d="M136.0,299.9 C137.1,299.9 138.4,303.1 139.1,304.9 C139.8,306.7 139.3,308.8 140.1,310.9 C140.9,313.0 142.7,314.3 143.7,317.6 C144.6,321.0 145.6,326.6 145.8,330.8 C146.1,335.0 146.0,339.4 145.3,342.8 C144.7,346.3 143.1,349.2 142.0,351.2 C141.0,353.3 140.3,354.7 139.1,355.4 C137.9,356.1 136.0,356.4 134.8,355.4 C133.6,354.4 132.5,351.8 131.8,349.1 C131.1,346.5 130.7,344.2 130.5,339.7 C130.3,335.2 131.0,325.9 130.7,322.4 C130.3,318.9 129.1,319.6 128.5,318.6 C127.9,317.6 126.6,317.8 127.0,316.4 C127.4,315.0 130.2,312.3 131.1,310.4 C132.1,308.5 131.9,306.6 132.7,304.9 C133.5,303.1 134.9,299.9 136.0,299.9 Z" fill="url(#edgeg)"/>
<ellipse cx="134.2" cy="308.4" rx="0.9" ry="1.1" fill="#606060" opacity="0.8"/>
<ellipse cx="138.2" cy="308.4" rx="0.9" ry="1.1" fill="#606060" opacity="0.8"/>
<ellipse cx="136.9" cy="314.9" rx="3.7" ry="2.5" fill="#8a8a8a" opacity="0.35"/>
<path d="M125.5,347.8 Q130.5,346.5 136.5,350.7" stroke="#aaaaaa" stroke-width="2.6" fill="none" stroke-linecap="round"/>
<path d="M127.0,317.2 L136.1,320.9" stroke="#c2c2c2" stroke-width="2.6" fill="none" stroke-linecap="round"/>
</g>
<g filter="url(#bl2)">
<ellipse cx="90.3" cy="330" rx="7" ry="5.5" fill="#dfe2f6" opacity="0.5"/>
<ellipse cx="90.8" cy="328.6" rx="4.6" ry="2.8" fill="#5650b8" opacity="0.75" transform="rotate(-15 90.8 328.6)"/>
<circle cx="88.2" cy="327.3" r="0.37" fill="#3a3aa0" opacity="0.85"/>
<circle cx="96.0" cy="332.6" r="0.71" fill="#3a3aa0" opacity="0.85"/>
<circle cx="84.1" cy="333.3" r="0.72" fill="#3a3aa0" opacity="0.85"/>
<circle cx="90.3" cy="332.2" r="0.58" fill="#3a3aa0" opacity="0.85"/>
<circle cx="87.1" cy="325.2" r="0.47" fill="#3a3aa0" opacity="0.85"/>
<circle cx="84.5" cy="327.7" r="0.72" fill="#3a3aa0" opacity="0.85"/>
<circle cx="93.4" cy="333.3" r="0.71" fill="#3a3aa0" opacity="0.85"/>
<circle cx="87.6" cy="330.1" r="0.57" fill="#3a3aa0" opacity="0.85"/>
<circle cx="94.6" cy="329.8" r="0.48" fill="#3a3aa0" opacity="0.85"/>
<circle cx="92.7" cy="334.6" r="0.46" fill="#3a3aa0" opacity="0.85"/>
<circle cx="95.9" cy="324.2" r="0.48" fill="#3a3aa0" opacity="0.85"/>
<circle cx="87.2" cy="332.2" r="0.82" fill="#3a3aa0" opacity="0.85"/>
<circle cx="94.1" cy="327.6" r="0.79" fill="#3a3aa0" opacity="0.85"/>
<circle cx="88.4" cy="326.6" r="0.80" fill="#3a3aa0" opacity="0.85"/>
<circle cx="92.5" cy="331.6" r="0.68" fill="#3a3aa0" opacity="0.85"/>
<circle cx="97.2" cy="329.2" r="0.77" fill="#3a3aa0" opacity="0.85"/>
<circle cx="93.4" cy="333.4" r="0.57" fill="#3a3aa0" opacity="0.85"/>
<circle cx="93.8" cy="330.3" r="0.50" fill="#3a3aa0" opacity="0.85"/>
<circle cx="86.9" cy="330.8" r="0.39" fill="#3a3aa0" opacity="0.85"/>
<circle cx="96.3" cy="325.6" r="0.36" fill="#3a3aa0" opacity="0.85"/>
<circle cx="85.4" cy="334.2" r="0.52" fill="#3a3aa0" opacity="0.85"/>
<circle cx="85.9" cy="324.3" r="0.37" fill="#3a3aa0" opacity="0.85"/>
<circle cx="93.4" cy="331.0" r="0.70" fill="#3a3aa0" opacity="0.85"/>
<circle cx="93.9" cy="324.7" r="0.65" fill="#3a3aa0" opacity="0.85"/>
<circle cx="88.9" cy="333.0" r="0.76" fill="#3a3aa0" opacity="0.85"/>
<circle cx="96.0" cy="324.7" r="0.78" fill="#3a3aa0" opacity="0.85"/>
<circle cx="96.3" cy="334.4" r="0.40" fill="#3a3aa0" opacity="0.85"/>
<circle cx="86.8" cy="325.2" r="0.37" fill="#3a3aa0" opacity="0.85"/>
<circle cx="95.4" cy="332.9" r="0.67" fill="#3a3aa0" opacity="0.85"/>
<circle cx="95.1" cy="330.9" r="0.49" fill="#3a3aa0" opacity="0.85"/>
<circle cx="85.3" cy="325.1" r="0.73" fill="#3a3aa0" opacity="0.85"/>
<circle cx="86.8" cy="327.5" r="0.56" fill="#3a3aa0" opacity="0.85"/>
<circle cx="84.3" cy="326.8" r="0.49" fill="#3a3aa0" opacity="0.85"/>
<circle cx="93.7" cy="328.0" r="0.51" fill="#3a3aa0" opacity="0.85"/>
<circle cx="97.0" cy="329.5" r="0.78" fill="#3a3aa0" opacity="0.85"/>
<circle cx="92.3" cy="324.3" r="0.56" fill="#3a3aa0" opacity="0.85"/>
<circle cx="89.9" cy="332.5" r="0.52" fill="#3a3aa0" opacity="0.85"/>
<circle cx="93.5" cy="329.9" r="0.46" fill="#3a3aa0" opacity="0.85"/>
<circle cx="95.6" cy="325.0" r="0.76" fill="#3a3aa0" opacity="0.85"/>
<circle cx="86.3" cy="324.0" r="0.45" fill="#3a3aa0" opacity="0.85"/>
<circle cx="92.9" cy="345.7" r="0.30" fill="#4840a8" opacity="0.85"/>
<circle cx="89.4" cy="339.9" r="0.62" fill="#4840a8" opacity="0.85"/>
<circle cx="85.4" cy="339.9" r="0.44" fill="#4840a8" opacity="0.85"/>
<circle cx="93.8" cy="337.1" r="0.68" fill="#4840a8" opacity="0.85"/>
<circle cx="86.7" cy="336.6" r="0.58" fill="#4840a8" opacity="0.85"/>
<circle cx="89.5" cy="335.3" r="0.55" fill="#4840a8" opacity="0.85"/>
<circle cx="84.1" cy="343.5" r="0.58" fill="#4840a8" opacity="0.85"/>
<circle cx="93.2" cy="341.5" r="0.44" fill="#4840a8" opacity="0.85"/>
<circle cx="88.2" cy="338.7" r="0.66" fill="#4840a8" opacity="0.85"/>
<circle cx="84.1" cy="344.7" r="0.31" fill="#4840a8" opacity="0.85"/>
<circle cx="85.7" cy="337.2" r="0.66" fill="#4840a8" opacity="0.85"/>
<circle cx="89.5" cy="338.6" r="0.65" fill="#4840a8" opacity="0.85"/>
<circle cx="86.0" cy="339.5" r="0.51" fill="#4840a8" opacity="0.85"/>
<circle cx="92.8" cy="343.0" r="0.56" fill="#4840a8" opacity="0.85"/>
<circle cx="87.5" cy="337.9" r="0.36" fill="#4840a8" opacity="0.85"/>
<circle cx="94.0" cy="341.9" r="0.60" fill="#4840a8" opacity="0.85"/>
<ellipse cx="116.8" cy="329.1" rx="9.90" ry="5.46" fill="#dfe2f6" opacity="0.5" transform="rotate(-18 116.8 329.1)"/>
<circle cx="121.1" cy="331.1" r="0.79" fill="#4a40b8" opacity="0.85"/>
<circle cx="111.0" cy="329.3" r="0.63" fill="#4a40b8" opacity="0.85"/>
<circle cx="120.8" cy="325.4" r="0.50" fill="#4a40b8" opacity="0.85"/>
<circle cx="115.6" cy="333.6" r="0.82" fill="#4a40b8" opacity="0.85"/>
<circle cx="121.1" cy="330.6" r="0.52" fill="#4a40b8" opacity="0.85"/>
<circle cx="114.6" cy="333.4" r="0.48" fill="#4a40b8" opacity="0.85"/>
<circle cx="114.8" cy="332.9" r="0.89" fill="#4a40b8" opacity="0.85"/>
<circle cx="115.0" cy="326.3" r="0.88" fill="#4a40b8" opacity="0.85"/>
<circle cx="122.8" cy="329.4" r="0.89" fill="#4a40b8" opacity="0.85"/>
<circle cx="117.7" cy="324.6" r="0.62" fill="#4a40b8" opacity="0.85"/>
<ellipse cx="116.8" cy="329.1" rx="7.08" ry="3.66" fill="#4c52c4" transform="rotate(-18 116.8 329.1)"/>
<ellipse cx="116.8" cy="329.1" rx="6.60" ry="3.41" fill="#58c08a" transform="rotate(-18 116.8 329.1)"/>
<ellipse cx="116.8" cy="329.1" rx="6.12" ry="3.16" fill="#ecd224" transform="rotate(-18 116.8 329.1)"/>
<ellipse cx="116.8" cy="329.1" rx="4.92" ry="2.42" fill="#dc0c0c" transform="rotate(-18 116.8 329.1)"/>
<ellipse cx="113.8" cy="330.4" rx="2.5" ry="1.8" fill="#dc0c0c"/>
<ellipse cx="119.8" cy="327.6" rx="2.3" ry="2.0" fill="#dc0c0c"/>
<rect x="123" y="318" width="6" height="20" fill="#1e3040" opacity="0.3"/>
<circle cx="133.1" cy="332.0" r="0.35" fill="#6050c0" opacity="0.85"/>
<circle cx="133.3" cy="326.5" r="0.32" fill="#6050c0" opacity="0.85"/>
<circle cx="136.4" cy="335.4" r="0.65" fill="#6050c0" opacity="0.85"/>
<circle cx="138.0" cy="331.9" r="0.53" fill="#6050c0" opacity="0.85"/>
<circle cx="132.3" cy="331.3" r="0.50" fill="#6050c0" opacity="0.85"/>
<circle cx="141.9" cy="338.0" r="0.52" fill="#6050c0" opacity="0.85"/>
<circle cx="139.2" cy="334.5" r="0.51" fill="#6050c0" opacity="0.85"/>
<circle cx="133.7" cy="333.9" r="0.74" fill="#6050c0" opacity="0.85"/>
<circle cx="142.4" cy="333.4" r="0.73" fill="#6050c0" opacity="0.85"/>
<circle cx="140.9" cy="332.1" r="0.53" fill="#6050c0" opacity="0.85"/>
<circle cx="135.0" cy="331.8" r="0.35" fill="#6050c0" opacity="0.85"/>
<circle cx="136.7" cy="335.2" r="0.66" fill="#6050c0" opacity="0.85"/>
<circle cx="140.1" cy="323.5" r="0.51" fill="#6050c0" opacity="0.85"/>
<circle cx="137.3" cy="331.7" r="0.50" fill="#6050c0" opacity="0.85"/>
<circle cx="140.8" cy="338.5" r="0.39" fill="#6050c0" opacity="0.85"/>
<circle cx="140.5" cy="335.1" r="0.49" fill="#6050c0" opacity="0.85"/>
<circle cx="137.8" cy="339.4" r="0.32" fill="#6050c0" opacity="0.85"/>
<circle cx="138.7" cy="321.5" r="0.69" fill="#6050c0" opacity="0.85"/>
<circle cx="145.0" cy="329.4" r="0.35" fill="#6050c0" opacity="0.85"/>
<circle cx="139.2" cy="329.9" r="0.66" fill="#6050c0" opacity="0.85"/>
<circle cx="138.2" cy="332.1" r="0.71" fill="#6050c0" opacity="0.85"/>
<circle cx="138.3" cy="327.0" r="0.77" fill="#6050c0" opacity="0.85"/>
<circle cx="133.4" cy="333.1" r="0.50" fill="#6050c0" opacity="0.85"/>
<circle cx="142.2" cy="320.7" r="0.79" fill="#6050c0" opacity="0.85"/>
<circle cx="135.7" cy="319.2" r="0.44" fill="#6050c0" opacity="0.85"/>
<circle cx="136.4" cy="318.3" r="0.51" fill="#6050c0" opacity="0.85"/>
<circle cx="136.7" cy="333.4" r="0.48" fill="#6050c0" opacity="0.85"/>
<circle cx="134.2" cy="322.9" r="0.67" fill="#6050c0" opacity="0.85"/>
<circle cx="145.0" cy="329.6" r="0.41" fill="#6050c0" opacity="0.85"/>
<circle cx="142.8" cy="326.6" r="0.41" fill="#6050c0" opacity="0.85"/>
<ellipse cx="139.5" cy="330.5" rx="7" ry="5" fill="#dfe2f6" opacity="0.5"/>
<ellipse cx="139.5" cy="330.5" rx="6" ry="3.6" fill="#4c52c4" transform="rotate(-15 139.5 330.5)"/>
<ellipse cx="139.5" cy="330.5" rx="5.2" ry="2.9" fill="#7cc860" transform="rotate(-15 139.5 330.5)"/>
<ellipse cx="139.5" cy="330.5" rx="4.6" ry="2.4" fill="#ecd224" transform="rotate(-15 139.5 330.5)"/>
<ellipse cx="143" cy="329" rx="1.9" ry="1.9" fill="#dc0c0c"/>
<ellipse cx="136.5" cy="332" rx="2.2" ry="1.6" fill="#dc0c0c"/>
<circle cx="131.0" cy="350.4" r="0.70" fill="#5040b0" opacity="0.85"/>
<circle cx="135.1" cy="345.5" r="0.58" fill="#5040b0" opacity="0.85"/>
<circle cx="131.8" cy="353.4" r="0.48" fill="#5040b0" opacity="0.85"/>
<circle cx="135.1" cy="351.1" r="0.71" fill="#5040b0" opacity="0.85"/>
<circle cx="133.7" cy="342.7" r="0.57" fill="#5040b0" opacity="0.85"/>
<circle cx="131.0" cy="351.3" r="0.48" fill="#5040b0" opacity="0.85"/>
<circle cx="136.8" cy="342.3" r="0.49" fill="#5040b0" opacity="0.85"/>
<circle cx="132.0" cy="344.8" r="0.39" fill="#5040b0" opacity="0.85"/>
<circle cx="130.0" cy="349.5" r="0.44" fill="#5040b0" opacity="0.85"/>
<circle cx="132.0" cy="342.8" r="0.54" fill="#5040b0" opacity="0.85"/>
<circle cx="133.4" cy="348.2" r="0.63" fill="#5040b0" opacity="0.85"/>
<circle cx="132.9" cy="352.9" r="0.73" fill="#5040b0" opacity="0.85"/>
<circle cx="130.5" cy="351.2" r="0.75" fill="#5040b0" opacity="0.85"/>
<circle cx="136.3" cy="340.2" r="0.72" fill="#5040b0" opacity="0.85"/>
<circle cx="135.1" cy="338.2" r="0.31" fill="#5040b0" opacity="0.85"/>
<circle cx="137.6" cy="348.5" r="0.43" fill="#5040b0" opacity="0.85"/>
<circle cx="130.8" cy="340.3" r="0.42" fill="#5040b0" opacity="0.85"/>
<circle cx="136.2" cy="343.5" r="0.38" fill="#5040b0" opacity="0.85"/>
</g>
</g>
<rect x="156.6" y="301.8" width="80.0" height="52.5" fill="#262523"/>
<g clip-path="url(#cp11)"><g filter="url(#bl)">
<path d="M170.5,299.8 C171.7,299.8 173.2,303.0 173.9,304.8 C174.6,306.6 173.8,308.7 174.9,310.8 C176.0,312.9 179.0,314.2 180.3,317.6 C181.7,320.9 182.7,326.5 183.1,330.7 C183.4,334.9 183.3,339.3 182.4,342.8 C181.6,346.2 179.5,349.1 178.2,351.1 C176.8,353.2 175.9,354.6 174.4,355.3 C172.8,356.0 170.4,356.3 168.8,355.3 C167.3,354.3 165.9,351.7 165.0,349.1 C164.1,346.4 163.5,344.4 163.3,339.6 C163.0,334.8 164.1,324.2 163.5,320.3 C162.9,316.4 160.4,317.5 159.5,316.5 C158.6,315.5 157.0,315.3 158.0,314.3 C159.0,313.3 163.8,311.9 165.3,310.3 C166.8,308.7 166.0,306.6 166.9,304.8 C167.8,303.1 169.3,299.8 170.5,299.8 Z" fill="url(#bodyg)" opacity="1.00"/>
<path d="M170.5,299.8 C171.7,299.8 173.2,303.0 173.9,304.8 C174.6,306.6 173.8,308.7 174.9,310.8 C176.0,312.9 179.0,314.2 180.3,317.6 C181.7,320.9 182.7,326.5 183.1,330.7 C183.4,334.9 183.3,339.3 182.4,342.8 C181.6,346.2 179.5,349.1 178.2,351.1 C176.8,353.2 175.9,354.6 174.4,355.3 C172.8,356.0 170.4,356.3 168.8,355.3 C167.3,354.3 165.9,351.7 165.0,349.1 C164.1,346.4 163.5,344.4 163.3,339.6 C163.0,334.8 164.1,324.2 163.5,320.3 C162.9,316.4 160.4,317.5 159.5,316.5 C158.6,315.5 157.0,315.3 158.0,314.3 C159.0,313.3 163.8,311.9 165.3,310.3 C166.8,308.7 166.0,306.6 166.9,304.8 C167.8,303.1 169.3,299.8 170.5,299.8 Z" fill="url(#edgeg)"/>
<ellipse cx="168.7" cy="308.3" rx="0.9" ry="1.1" fill="#606060" opacity="0.8"/>
<ellipse cx="172.7" cy="308.3" rx="0.9" ry="1.1" fill="#606060" opacity="0.8"/>
<ellipse cx="171.6" cy="314.8" rx="4.8" ry="2.5" fill="#8a8a8a" opacity="0.35"/>
<path d="M158.0,347.7 Q163.0,346.4 169.0,350.6" stroke="#afafaf" stroke-width="2.6" fill="none" stroke-linecap="round"/>
<path d="M158.0,315.1 L170.5,318.8" stroke="#c8c8c8" stroke-width="2.6" fill="none" stroke-linecap="round"/>
<path d="M198.6,299.8 C200.0,299.8 201.9,303.0 202.8,304.8 C203.7,306.6 203.1,308.7 203.8,310.8 C204.5,312.9 205.9,314.2 206.9,317.6 C207.8,320.9 209.1,326.5 209.4,330.7 C209.7,334.9 209.6,339.3 208.8,342.8 C208.1,346.2 206.1,349.1 204.9,351.1 C203.7,353.2 202.8,354.6 201.4,355.3 C199.9,356.0 197.7,356.3 196.3,355.3 C194.8,354.3 193.6,351.7 192.7,349.1 C191.9,346.4 191.4,344.4 191.2,339.6 C190.9,334.8 191.7,324.2 191.4,320.3 C191.1,316.4 190.1,317.5 189.5,316.5 C188.9,315.5 187.5,315.3 188.0,314.3 C188.5,313.3 191.6,311.9 192.6,310.3 C193.6,308.7 193.2,306.6 194.2,304.8 C195.2,303.1 197.2,299.8 198.6,299.8 Z" fill="url(#bodyg)" opacity="0.98"/>
<path d="M198.6,299.8 C200.0,299.8 201.9,303.0 202.8,304.8 C203.7,306.6 203.1,308.7 203.8,310.8 C204.5,312.9 205.9,314.2 206.9,317.6 C207.8,320.9 209.1,326.5 209.4,330.7 C209.7,334.9 209.6,339.3 208.8,342.8 C208.1,346.2 206.1,349.1 204.9,351.1 C203.7,353.2 202.8,354.6 201.4,355.3 C199.9,356.0 197.7,356.3 196.3,355.3 C194.8,354.3 193.6,351.7 192.7,349.1 C191.9,346.4 191.4,344.4 191.2,339.6 C190.9,334.8 191.7,324.2 191.4,320.3 C191.1,316.4 190.1,317.5 189.5,316.5 C188.9,315.5 187.5,315.3 188.0,314.3 C188.5,313.3 191.6,311.9 192.6,310.3 C193.6,308.7 193.2,306.6 194.2,304.8 C195.2,303.1 197.2,299.8 198.6,299.8 Z" fill="url(#edgeg)"/>
<ellipse cx="196.8" cy="308.3" rx="0.9" ry="1.1" fill="#606060" opacity="0.8"/>
<ellipse cx="200.8" cy="308.3" rx="0.9" ry="1.1" fill="#606060" opacity="0.8"/>
<ellipse cx="199.2" cy="314.8" rx="4.4" ry="2.5" fill="#8a8a8a" opacity="0.35"/>
<path d="M186.0,347.7 Q191.0,346.4 197.0,350.6" stroke="#acacac" stroke-width="2.6" fill="none" stroke-linecap="round"/>
<path d="M188.0,315.1 L197.8,318.8" stroke="#c4c4c4" stroke-width="2.6" fill="none" stroke-linecap="round"/>
<path d="M224.5,299.8 C225.9,299.8 227.8,303.0 228.7,304.8 C229.6,306.6 228.8,308.7 229.7,310.8 C230.6,312.9 233.2,314.2 234.3,317.6 C235.5,320.9 236.5,326.5 236.8,330.7 C237.1,334.9 237.0,339.3 236.2,342.8 C235.5,346.2 233.6,349.1 232.4,351.1 C231.2,353.2 230.4,354.6 229.0,355.3 C227.6,356.0 225.5,356.3 224.1,355.3 C222.7,354.3 221.5,351.7 220.7,349.1 C219.8,346.4 219.4,344.4 219.1,339.6 C218.9,334.8 219.6,324.2 219.3,320.3 C219.1,316.4 218.1,317.5 217.5,316.5 C216.9,315.5 215.8,315.3 216.0,314.3 C216.2,313.3 217.8,311.9 218.5,310.3 C219.2,308.7 219.1,306.6 220.1,304.8 C221.1,303.1 223.1,299.8 224.5,299.8 Z" fill="url(#bodyg)" opacity="0.95"/>
<path d="M224.5,299.8 C225.9,299.8 227.8,303.0 228.7,304.8 C229.6,306.6 228.8,308.7 229.7,310.8 C230.6,312.9 233.2,314.2 234.3,317.6 C235.5,320.9 236.5,326.5 236.8,330.7 C237.1,334.9 237.0,339.3 236.2,342.8 C235.5,346.2 233.6,349.1 232.4,351.1 C231.2,353.2 230.4,354.6 229.0,355.3 C227.6,356.0 225.5,356.3 224.1,355.3 C222.7,354.3 221.5,351.7 220.7,349.1 C219.8,346.4 219.4,344.4 219.1,339.6 C218.9,334.8 219.6,324.2 219.3,320.3 C219.1,316.4 218.1,317.5 217.5,316.5 C216.9,315.5 215.8,315.3 216.0,314.3 C216.2,313.3 217.8,311.9 218.5,310.3 C219.2,308.7 219.1,306.6 220.1,304.8 C221.1,303.1 223.1,299.8 224.5,299.8 Z" fill="url(#edgeg)"/>
<ellipse cx="222.7" cy="308.3" rx="0.9" ry="1.1" fill="#606060" opacity="0.8"/>
<ellipse cx="226.7" cy="308.3" rx="0.9" ry="1.1" fill="#606060" opacity="0.8"/>
<ellipse cx="226.0" cy="314.8" rx="4.3" ry="2.5" fill="#8a8a8a" opacity="0.35"/>
<path d="M214.0,347.7 Q219.0,346.4 225.0,350.6" stroke="#a6a6a6" stroke-width="2.6" fill="none" stroke-linecap="round"/>
<path d="M216.0,315.1 L225.6,318.8" stroke="#bebebe" stroke-width="2.6" fill="none" stroke-linecap="round"/>
</g>
<g filter="url(#bl2)">
<ellipse cx="180" cy="320" rx="3.6" ry="12" fill="#7a5cc8" opacity="0.45" transform="rotate(-8 180 320)"/>
<circle cx="183.2" cy="328.8" r="0.38" fill="#4a2c9c" opacity="0.85"/>
<circle cx="183.1" cy="323.3" r="0.69" fill="#4a2c9c" opacity="0.85"/>
<circle cx="181.3" cy="331.8" r="0.69" fill="#4a2c9c" opacity="0.85"/>
<circle cx="182.7" cy="310.9" r="0.65" fill="#4a2c9c" opacity="0.85"/>
<circle cx="180.2" cy="327.3" r="0.52" fill="#4a2c9c" opacity="0.85"/>
<circle cx="183.1" cy="321.7" r="0.43" fill="#4a2c9c" opacity="0.85"/>
<circle cx="177.9" cy="309.2" r="0.55" fill="#4a2c9c" opacity="0.85"/>
<circle cx="176.5" cy="319.0" r="0.37" fill="#4a2c9c" opacity="0.85"/>
<circle cx="179.9" cy="319.9" r="0.57" fill="#4a2c9c" opacity="0.85"/>
<circle cx="182.9" cy="305.2" r="0.72" fill="#4a2c9c" opacity="0.85"/>
<circle cx="179.7" cy="321.9" r="0.63" fill="#4a2c9c" opacity="0.85"/>
<circle cx="182.7" cy="316.2" r="0.51" fill="#4a2c9c" opacity="0.85"/>
<circle cx="183.7" cy="307.3" r="0.62" fill="#4a2c9c" opacity="0.85"/>
<circle cx="181.1" cy="305.9" r="0.60" fill="#4a2c9c" opacity="0.85"/>
<circle cx="181.5" cy="332.9" r="0.47" fill="#4a2c9c" opacity="0.85"/>
<circle cx="183.9" cy="320.3" r="0.54" fill="#4a2c9c" opacity="0.85"/>
<circle cx="183.2" cy="306.0" r="0.66" fill="#4a2c9c" opacity="0.85"/>
<circle cx="181.0" cy="315.2" r="0.73" fill="#4a2c9c" opacity="0.85"/>
<circle cx="178.9" cy="319.2" r="0.56" fill="#4a2c9c" opacity="0.85"/>
<circle cx="182.2" cy="311.3" r="0.52" fill="#4a2c9c" opacity="0.85"/>
<circle cx="179.4" cy="321.6" r="0.71" fill="#4a2c9c" opacity="0.85"/>
<circle cx="178.3" cy="329.8" r="0.50" fill="#4a2c9c" opacity="0.85"/>
<circle cx="180.0" cy="313.2" r="0.55" fill="#4a2c9c" opacity="0.85"/>
<circle cx="183.8" cy="324.6" r="0.70" fill="#4a2c9c" opacity="0.85"/>
<circle cx="178.6" cy="314.5" r="0.45" fill="#4a2c9c" opacity="0.85"/>
<circle cx="180.7" cy="324.0" r="0.69" fill="#4a2c9c" opacity="0.85"/>
<circle cx="176.3" cy="326.7" r="0.74" fill="#4a2c9c" opacity="0.85"/>
<circle cx="180.4" cy="306.5" r="0.45" fill="#4a2c9c" opacity="0.85"/>
<circle cx="176.0" cy="310.7" r="0.76" fill="#4a2c9c" opacity="0.85"/>
<circle cx="180.9" cy="324.7" r="0.69" fill="#4a2c9c" opacity="0.85"/>
<circle cx="183.3" cy="323.4" r="0.61" fill="#4a2c9c" opacity="0.85"/>
<circle cx="181.0" cy="325.9" r="0.60" fill="#4a2c9c" opacity="0.85"/>
<circle cx="181.4" cy="311.4" r="0.63" fill="#4a2c9c" opacity="0.85"/>
<circle cx="179.7" cy="327.9" r="0.35" fill="#4a2c9c" opacity="0.85"/>
<circle cx="177.5" cy="306.1" r="0.69" fill="#4a2c9c" opacity="0.85"/>
<circle cx="183.3" cy="324.7" r="0.48" fill="#4a2c9c" opacity="0.85"/>
<circle cx="182.6" cy="328.6" r="0.58" fill="#4a2c9c" opacity="0.85"/>
<circle cx="178.1" cy="314.1" r="0.51" fill="#4a2c9c" opacity="0.85"/>
<circle cx="178.5" cy="317.9" r="0.62" fill="#4a2c9c" opacity="0.85"/>
<circle cx="183.5" cy="306.6" r="0.58" fill="#4a2c9c" opacity="0.85"/>
<circle cx="176.3" cy="308.6" r="0.71" fill="#4a2c9c" opacity="0.85"/>
<circle cx="180.6" cy="332.6" r="0.52" fill="#4a2c9c" opacity="0.85"/>
<circle cx="176.1" cy="316.6" r="0.60" fill="#4a2c9c" opacity="0.85"/>
<circle cx="183.5" cy="334.4" r="0.54" fill="#4a2c9c" opacity="0.85"/>
<circle cx="179.3" cy="308.1" r="0.62" fill="#4a2c9c" opacity="0.85"/>
<circle cx="177.7" cy="309.6" r="0.31" fill="#4a2c9c" opacity="0.85"/>
<circle cx="176.0" cy="325.5" r="0.36" fill="#4a2c9c" opacity="0.85"/>
<circle cx="183.7" cy="307.6" r="0.73" fill="#4a2c9c" opacity="0.85"/>
<circle cx="177.0" cy="305.5" r="0.66" fill="#4a2c9c" opacity="0.85"/>
<circle cx="177.9" cy="327.0" r="0.39" fill="#4a2c9c" opacity="0.85"/>
<circle cx="176.4" cy="328.2" r="0.66" fill="#4a2c9c" opacity="0.85"/>
<circle cx="182.8" cy="326.9" r="0.34" fill="#4a2c9c" opacity="0.85"/>
<circle cx="181.0" cy="326.3" r="0.53" fill="#4a2c9c" opacity="0.85"/>
<circle cx="183.5" cy="312.6" r="0.78" fill="#4a2c9c" opacity="0.85"/>
<circle cx="181.7" cy="305.3" r="0.31" fill="#4a2c9c" opacity="0.85"/>
<circle cx="181.2" cy="329.5" r="0.34" fill="#4a2c9c" opacity="0.85"/>
<circle cx="178.5" cy="326.9" r="0.38" fill="#4a2c9c" opacity="0.85"/>
<circle cx="182.9" cy="319.6" r="0.33" fill="#4a2c9c" opacity="0.85"/>
<circle cx="178.9" cy="322.2" r="0.52" fill="#4a2c9c" opacity="0.85"/>
<circle cx="181.4" cy="309.3" r="0.70" fill="#4a2c9c" opacity="0.85"/>
<circle cx="178.9" cy="324.3" r="0.61" fill="#4a2c9c" opacity="0.85"/>
<circle cx="179.3" cy="316.6" r="0.69" fill="#4a2c9c" opacity="0.85"/>
<circle cx="183.6" cy="328.5" r="0.58" fill="#4a2c9c" opacity="0.85"/>
<circle cx="178.3" cy="306.8" r="0.79" fill="#4a2c9c" opacity="0.85"/>
<circle cx="181.6" cy="329.8" r="0.47" fill="#4a2c9c" opacity="0.85"/>
<circle cx="180.8" cy="334.3" r="0.72" fill="#4a2c9c" opacity="0.85"/>
<circle cx="180.8" cy="314.3" r="0.51" fill="#4a2c9c" opacity="0.85"/>
<circle cx="183.1" cy="316.3" r="0.64" fill="#4a2c9c" opacity="0.85"/>
<circle cx="180.8" cy="331.9" r="0.70" fill="#4a2c9c" opacity="0.85"/>
<circle cx="178.3" cy="305.1" r="0.43" fill="#4a2c9c" opacity="0.85"/>
<circle cx="200.8" cy="335.6" r="0.63" fill="#3a2a80" opacity="0.85"/>
<circle cx="205.0" cy="328.5" r="0.63" fill="#3a2a80" opacity="0.85"/>
<circle cx="204.3" cy="339.3" r="0.53" fill="#3a2a80" opacity="0.85"/>
<circle cx="199.5" cy="339.1" r="0.62" fill="#3a2a80" opacity="0.85"/>
<circle cx="203.2" cy="339.9" r="0.44" fill="#3a2a80" opacity="0.85"/>
<circle cx="197.8" cy="335.2" r="0.62" fill="#3a2a80" opacity="0.85"/>
<circle cx="198.8" cy="337.8" r="0.67" fill="#3a2a80" opacity="0.85"/>
<circle cx="199.1" cy="335.9" r="0.57" fill="#3a2a80" opacity="0.85"/>
<circle cx="201.2" cy="330.7" r="0.40" fill="#3a2a80" opacity="0.85"/>
<circle cx="203.8" cy="338.3" r="0.48" fill="#3a2a80" opacity="0.85"/>
<circle cx="222.8" cy="351.3" r="0.61" fill="#6050c0" opacity="0.85"/>
<circle cx="224.1" cy="349.2" r="0.66" fill="#6050c0" opacity="0.85"/>
<circle cx="230.0" cy="348.7" r="0.49" fill="#6050c0" opacity="0.85"/>
<circle cx="227.3" cy="345.7" r="0.38" fill="#6050c0" opacity="0.85"/>
<circle cx="223.6" cy="350.3" r="0.45" fill="#6050c0" opacity="0.85"/>
<circle cx="227.1" cy="347.6" r="0.51" fill="#6050c0" opacity="0.85"/>
</g>
</g>
<rect x="245.8" y="301.8" width="73.7" height="52.4" fill="#262523"/>
<g clip-path="url(#cp12)"><g filter="url(#bl)">
<path d="M283.0,299.8 C284.4,299.8 286.2,303.0 287.0,304.8 C287.8,306.6 287.4,308.7 288.0,310.8 C288.6,312.9 289.5,314.2 290.3,317.5 C291.1,320.8 292.5,326.4 292.8,330.6 C293.1,334.8 293.0,339.3 292.2,342.7 C291.5,346.1 289.6,349.0 288.4,351.1 C287.2,353.1 286.3,354.5 284.9,355.2 C283.5,355.9 281.4,356.2 279.9,355.2 C278.5,354.2 277.3,351.6 276.5,349.0 C275.7,346.3 275.2,344.7 275.0,339.5 C274.7,334.4 275.5,322.2 275.1,318.0 C274.8,313.8 273.6,315.2 273.0,314.2 C272.4,313.2 270.8,312.6 271.5,312.0 C272.2,311.4 276.0,311.5 277.2,310.3 C278.4,309.1 277.8,306.6 278.8,304.8 C279.8,303.1 281.6,299.8 283.0,299.8 Z" fill="url(#bodyg)" opacity="1.00"/>
<path d="M283.0,299.8 C284.4,299.8 286.2,303.0 287.0,304.8 C287.8,306.6 287.4,308.7 288.0,310.8 C288.6,312.9 289.5,314.2 290.3,317.5 C291.1,320.8 292.5,326.4 292.8,330.6 C293.1,334.8 293.0,339.3 292.2,342.7 C291.5,346.1 289.6,349.0 288.4,351.1 C287.2,353.1 286.3,354.5 284.9,355.2 C283.5,355.9 281.4,356.2 279.9,355.2 C278.5,354.2 277.3,351.6 276.5,349.0 C275.7,346.3 275.2,344.7 275.0,339.5 C274.7,334.4 275.5,322.2 275.1,318.0 C274.8,313.8 273.6,315.2 273.0,314.2 C272.4,313.2 270.8,312.6 271.5,312.0 C272.2,311.4 276.0,311.5 277.2,310.3 C278.4,309.1 277.8,306.6 278.8,304.8 C279.8,303.1 281.6,299.8 283.0,299.8 Z" fill="url(#edgeg)"/>
<ellipse cx="281.2" cy="308.3" rx="0.9" ry="1.1" fill="#606060" opacity="0.8"/>
<ellipse cx="285.2" cy="308.3" rx="0.9" ry="1.1" fill="#606060" opacity="0.8"/>
<ellipse cx="283.2" cy="314.8" rx="4.3" ry="2.5" fill="#8a8a8a" opacity="0.35"/>
<path d="M269.8,347.6 Q274.8,346.3 280.8,350.5" stroke="#afafaf" stroke-width="2.6" fill="none" stroke-linecap="round"/>
<path d="M271.5,312.8 L281.5,316.5" stroke="#c8c8c8" stroke-width="2.6" fill="none" stroke-linecap="round"/>
<path d="M308.0,299.8 C309.2,299.8 310.8,303.0 311.6,304.8 C312.4,306.6 311.9,308.7 312.6,310.8 C313.3,312.9 314.7,314.2 315.6,317.5 C316.5,320.8 317.9,326.4 318.2,330.6 C318.5,334.8 318.4,339.3 317.6,342.7 C316.8,346.1 314.9,349.0 313.6,351.1 C312.3,353.1 311.5,354.5 310.0,355.2 C308.5,355.9 306.3,356.2 304.8,355.2 C303.3,354.2 302.1,351.6 301.2,349.0 C300.3,346.3 299.8,344.2 299.6,339.5 C299.4,334.9 300.4,324.9 299.8,321.2 C299.2,317.5 296.9,318.4 296.0,317.4 C295.1,316.4 293.4,316.4 294.5,315.2 C295.6,314.0 301.0,312.0 302.6,310.3 C304.2,308.6 303.3,306.6 304.2,304.8 C305.1,303.1 306.8,299.8 308.0,299.8 Z" fill="url(#bodyg)" opacity="0.90"/>
<path d="M308.0,299.8 C309.2,299.8 310.8,303.0 311.6,304.8 C312.4,306.6 311.9,308.7 312.6,310.8 C313.3,312.9 314.7,314.2 315.6,317.5 C316.5,320.8 317.9,326.4 318.2,330.6 C318.5,334.8 318.4,339.3 317.6,342.7 C316.8,346.1 314.9,349.0 313.6,351.1 C312.3,353.1 311.5,354.5 310.0,355.2 C308.5,355.9 306.3,356.2 304.8,355.2 C303.3,354.2 302.1,351.6 301.2,349.0 C300.3,346.3 299.8,344.2 299.6,339.5 C299.4,334.9 300.4,324.9 299.8,321.2 C299.2,317.5 296.9,318.4 296.0,317.4 C295.1,316.4 293.4,316.4 294.5,315.2 C295.6,314.0 301.0,312.0 302.6,310.3 C304.2,308.6 303.3,306.6 304.2,304.8 C305.1,303.1 306.8,299.8 308.0,299.8 Z" fill="url(#edgeg)"/>
<ellipse cx="306.2" cy="308.3" rx="0.9" ry="1.1" fill="#606060" opacity="0.8"/>
<ellipse cx="310.2" cy="308.3" rx="0.9" ry="1.1" fill="#606060" opacity="0.8"/>
<ellipse cx="308.2" cy="314.8" rx="4.5" ry="2.5" fill="#8a8a8a" opacity="0.35"/>
<path d="M294.4,347.6 Q299.4,346.3 305.4,350.5" stroke="#9e9e9e" stroke-width="2.6" fill="none" stroke-linecap="round"/>
<path d="M294.5,316.0 L306.4,319.7" stroke="#b4b4b4" stroke-width="2.6" fill="none" stroke-linecap="round"/>
</g>
</g>
<rect x="326.1" y="301.7" width="68.6" height="52.2" fill="#262523"/>
<g clip-path="url(#cp13)"><g filter="url(#bl)">
<path d="M385.5,299.7 C387.2,299.7 389.3,302.9 390.3,304.7 C391.3,306.5 391.1,308.6 391.3,310.7 C391.5,312.8 390.9,314.1 391.2,317.4 C391.6,320.6 393.2,326.2 393.5,330.4 C393.8,334.6 393.7,339.0 393.0,342.4 C392.3,345.8 390.6,348.7 389.5,350.8 C388.3,352.8 387.6,354.2 386.3,354.9 C385.0,355.6 383.0,355.9 381.7,354.9 C380.4,353.9 379.2,351.3 378.5,348.7 C377.7,346.1 377.3,344.6 377.1,339.3 C376.9,334.0 377.9,321.3 377.2,316.9 C376.6,312.5 374.1,314.1 373.2,313.1 C372.3,312.1 370.7,311.4 371.7,310.9 C372.7,310.4 377.5,311.2 379.0,310.2 C380.5,309.2 379.5,306.4 380.6,304.7 C381.7,302.9 383.9,299.7 385.5,299.7 Z" fill="url(#bodyg)" opacity="0.86"/>
<path d="M385.5,299.7 C387.2,299.7 389.3,302.9 390.3,304.7 C391.3,306.5 391.1,308.6 391.3,310.7 C391.5,312.8 390.9,314.1 391.2,317.4 C391.6,320.6 393.2,326.2 393.5,330.4 C393.8,334.6 393.7,339.0 393.0,342.4 C392.3,345.8 390.6,348.7 389.5,350.8 C388.3,352.8 387.6,354.2 386.3,354.9 C385.0,355.6 383.0,355.9 381.7,354.9 C380.4,353.9 379.2,351.3 378.5,348.7 C377.7,346.1 377.3,344.6 377.1,339.3 C376.9,334.0 377.9,321.3 377.2,316.9 C376.6,312.5 374.1,314.1 373.2,313.1 C372.3,312.1 370.7,311.4 371.7,310.9 C372.7,310.4 377.5,311.2 379.0,310.2 C380.5,309.2 379.5,306.4 380.6,304.7 C381.7,302.9 383.9,299.7 385.5,299.7 Z" fill="url(#edgeg)"/>
<ellipse cx="383.7" cy="308.2" rx="0.9" ry="1.1" fill="#606060" opacity="0.8"/>
<ellipse cx="387.7" cy="308.2" rx="0.9" ry="1.1" fill="#606060" opacity="0.8"/>
<ellipse cx="385.2" cy="314.7" rx="4.0" ry="2.5" fill="#8a8a8a" opacity="0.35"/>
<path d="M372.0,347.4 Q377.0,346.1 383.0,350.2" stroke="#969696" stroke-width="2.6" fill="none" stroke-linecap="round"/>
<path d="M371.7,311.7 L383.1,315.4" stroke="#acacac" stroke-width="2.6" fill="none" stroke-linecap="round"/>
</g>
<g filter="url(#bl2)">
<rect x="335.8" y="301" width="1.8" height="4" fill="#e0e0e0"/>
<rect x="361.3" y="301" width="1.8" height="5" fill="#e0e0e0"/>
</g>
</g>
<rect x="399.9" y="301.5" width="76.5" height="52.5" fill="#262523"/>
<g clip-path="url(#cp14)"><g filter="url(#bl)">
<path d="M465.0,299.5 C466.2,299.5 467.7,302.7 468.4,304.5 C469.1,306.3 468.5,308.4 469.4,310.5 C470.3,312.6 472.5,313.9 473.7,317.2 C474.8,320.6 476.0,326.2 476.3,330.4 C476.6,334.6 476.5,339.0 475.7,342.4 C474.9,345.9 472.9,348.8 471.7,350.9 C470.4,352.9 469.5,354.3 468.1,355.0 C466.6,355.7 464.3,356.0 462.8,355.0 C461.4,354.0 460.1,351.4 459.2,348.8 C458.3,346.1 457.8,344.3 457.6,339.3 C457.4,334.3 458.3,322.9 457.8,318.9 C457.3,314.9 455.5,316.1 454.7,315.1 C453.9,314.1 452.3,313.8 453.2,312.9 C454.1,312.0 458.4,311.4 459.8,310.0 C461.2,308.6 460.5,306.2 461.4,304.5 C462.3,302.8 463.8,299.5 465.0,299.5 Z" fill="url(#bodyg)" opacity="1.00"/>
<path d="M465.0,299.5 C466.2,299.5 467.7,302.7 468.4,304.5 C469.1,306.3 468.5,308.4 469.4,310.5 C470.3,312.6 472.5,313.9 473.7,317.2 C474.8,320.6 476.0,326.2 476.3,330.4 C476.6,334.6 476.5,339.0 475.7,342.4 C474.9,345.9 472.9,348.8 471.7,350.9 C470.4,352.9 469.5,354.3 468.1,355.0 C466.6,355.7 464.3,356.0 462.8,355.0 C461.4,354.0 460.1,351.4 459.2,348.8 C458.3,346.1 457.8,344.3 457.6,339.3 C457.4,334.3 458.3,322.9 457.8,318.9 C457.3,314.9 455.5,316.1 454.7,315.1 C453.9,314.1 452.3,313.8 453.2,312.9 C454.1,312.0 458.4,311.4 459.8,310.0 C461.2,308.6 460.5,306.2 461.4,304.5 C462.3,302.8 463.8,299.5 465.0,299.5 Z" fill="url(#edgeg)"/>
<ellipse cx="463.2" cy="308.0" rx="0.9" ry="1.1" fill="#606060" opacity="0.8"/>
<ellipse cx="467.2" cy="308.0" rx="0.9" ry="1.1" fill="#606060" opacity="0.8"/>
<ellipse cx="465.7" cy="314.5" rx="4.5" ry="2.5" fill="#8a8a8a" opacity="0.35"/>
<path d="M452.4,347.4 Q457.4,346.1 463.4,350.3" stroke="#afafaf" stroke-width="2.6" fill="none" stroke-linecap="round"/>
<path d="M453.2,313.7 L464.4,317.4" stroke="#c8c8c8" stroke-width="2.6" fill="none" stroke-linecap="round"/>
</g>
<g filter="url(#bl2)">
<rect x="409.8" y="301" width="4" height="8" fill="#c8c8c8"/>
<rect x="436.6" y="301" width="3.2" height="8" fill="#c8c8c8"/>
<rect x="464" y="301" width="4" height="7" fill="#e8e8e8"/>
</g>
</g>
<rect x="71.2" y="365.8" width="74.4" height="52.1" fill="#262523"/>
<g clip-path="url(#cp20)"><g filter="url(#bl)">
<path d="M82.0,363.8 C83.2,363.8 84.7,367.0 85.4,368.8 C86.1,370.6 85.5,372.7 86.4,374.8 C87.3,376.9 89.7,378.2 90.9,381.4 C92.0,384.7 92.9,390.3 93.2,394.5 C93.5,398.6 93.4,403.1 92.7,406.4 C92.0,409.8 90.2,412.7 89.1,414.8 C87.9,416.9 87.2,418.2 85.8,418.9 C84.5,419.6 82.5,419.9 81.2,418.9 C79.8,417.9 78.7,415.3 77.9,412.7 C77.1,410.1 76.7,407.8 76.5,403.3 C76.3,398.8 77.2,389.4 76.7,385.8 C76.2,382.2 74.3,383.0 73.5,382.0 C72.7,381.0 71.5,381.1 72.0,379.8 C72.5,378.5 75.7,376.1 76.8,374.3 C77.9,372.5 77.5,370.6 78.4,368.8 C79.3,367.1 80.8,363.8 82.0,363.8 Z" fill="url(#bodyg)" opacity="0.95"/>
<path d="M82.0,363.8 C83.2,363.8 84.7,367.0 85.4,368.8 C86.1,370.6 85.5,372.7 86.4,374.8 C87.3,376.9 89.7,378.2 90.9,381.4 C92.0,384.7 92.9,390.3 93.2,394.5 C93.5,398.6 93.4,403.1 92.7,406.4 C92.0,409.8 90.2,412.7 89.1,414.8 C87.9,416.9 87.2,418.2 85.8,418.9 C84.5,419.6 82.5,419.9 81.2,418.9 C79.8,417.9 78.7,415.3 77.9,412.7 C77.1,410.1 76.7,407.8 76.5,403.3 C76.3,398.8 77.2,389.4 76.7,385.8 C76.2,382.2 74.3,383.0 73.5,382.0 C72.7,381.0 71.5,381.1 72.0,379.8 C72.5,378.5 75.7,376.1 76.8,374.3 C77.9,372.5 77.5,370.6 78.4,368.8 C79.3,367.1 80.8,363.8 82.0,363.8 Z" fill="url(#edgeg)"/>
<ellipse cx="80.2" cy="372.3" rx="0.9" ry="1.1" fill="#606060" opacity="0.8"/>
<ellipse cx="84.2" cy="372.3" rx="0.9" ry="1.1" fill="#606060" opacity="0.8"/>
<ellipse cx="83.2" cy="378.8" rx="4.0" ry="2.5" fill="#8a8a8a" opacity="0.35"/>
<path d="M71.4,411.4 Q76.4,410.1 82.4,414.3" stroke="#a6a6a6" stroke-width="2.6" fill="none" stroke-linecap="round"/>
<path d="M72.0,380.6 L82.6,384.3" stroke="#bebebe" stroke-width="2.6" fill="none" stroke-linecap="round"/>
<path d="M108.6,363.8 C109.7,363.8 111.1,367.0 111.8,368.8 C112.5,370.6 112.2,372.7 112.8,374.8 C113.4,376.9 114.8,378.2 115.7,381.4 C116.5,384.7 117.7,390.3 118.0,394.5 C118.3,398.6 118.2,403.1 117.5,406.4 C116.8,409.8 115.0,412.7 113.8,414.8 C112.7,416.9 111.9,418.2 110.6,418.9 C109.2,419.6 107.2,419.9 105.8,418.9 C104.5,417.9 103.3,415.3 102.5,412.7 C101.8,410.1 101.3,407.8 101.1,403.3 C100.9,398.8 101.4,389.4 101.3,385.8 C101.2,382.2 100.9,383.0 100.5,382.0 C100.1,381.0 98.5,381.1 99.0,379.8 C99.5,378.5 102.5,376.1 103.5,374.3 C104.5,372.5 104.3,370.6 105.1,368.8 C105.9,367.1 107.4,363.8 108.6,363.8 Z" fill="url(#bodyg)" opacity="0.97"/>
<path d="M108.6,363.8 C109.7,363.8 111.1,367.0 111.8,368.8 C112.5,370.6 112.2,372.7 112.8,374.8 C113.4,376.9 114.8,378.2 115.7,381.4 C116.5,384.7 117.7,390.3 118.0,394.5 C118.3,398.6 118.2,403.1 117.5,406.4 C116.8,409.8 115.0,412.7 113.8,414.8 C112.7,416.9 111.9,418.2 110.6,418.9 C109.2,419.6 107.2,419.9 105.8,418.9 C104.5,417.9 103.3,415.3 102.5,412.7 C101.8,410.1 101.3,407.8 101.1,403.3 C100.9,398.8 101.4,389.4 101.3,385.8 C101.2,382.2 100.9,383.0 100.5,382.0 C100.1,381.0 98.5,381.1 99.0,379.8 C99.5,378.5 102.5,376.1 103.5,374.3 C104.5,372.5 104.3,370.6 105.1,368.8 C105.9,367.1 107.4,363.8 108.6,363.8 Z" fill="url(#edgeg)"/>
<ellipse cx="106.8" cy="372.3" rx="0.9" ry="1.1" fill="#606060" opacity="0.8"/>
<ellipse cx="110.8" cy="372.3" rx="0.9" ry="1.1" fill="#606060" opacity="0.8"/>
<ellipse cx="108.8" cy="378.8" rx="4.1" ry="2.5" fill="#8a8a8a" opacity="0.35"/>
<path d="M96.0,411.4 Q101.0,410.1 107.0,414.3" stroke="#aaaaaa" stroke-width="2.6" fill="none" stroke-linecap="round"/>
<path d="M99.0,380.6 L107.3,384.3" stroke="#c2c2c2" stroke-width="2.6" fill="none" stroke-linecap="round"/>
<path d="M133.1,363.8 C134.1,363.8 135.3,367.0 135.9,368.8 C136.5,370.6 136.0,372.7 136.9,374.8 C137.8,376.9 140.2,378.2 141.4,381.4 C142.6,384.7 143.7,390.3 144.0,394.5 C144.3,398.6 144.2,403.1 143.4,406.4 C142.6,409.8 140.6,412.7 139.4,414.8 C138.1,416.9 137.2,418.2 135.7,418.9 C134.2,419.6 131.9,419.9 130.5,418.9 C129.0,417.9 127.7,415.3 126.8,412.7 C126.0,410.1 125.4,407.8 125.2,403.3 C125.0,398.8 125.7,389.4 125.4,385.8 C125.1,382.2 124.1,383.0 123.5,382.0 C122.9,381.0 121.2,381.1 122.0,379.8 C122.8,378.5 127.2,376.1 128.5,374.3 C129.8,372.5 129.3,370.6 130.1,368.8 C130.9,367.1 132.1,363.8 133.1,363.8 Z" fill="url(#bodyg)" opacity="0.95"/>
<path d="M133.1,363.8 C134.1,363.8 135.3,367.0 135.9,368.8 C136.5,370.6 136.0,372.7 136.9,374.8 C137.8,376.9 140.2,378.2 141.4,381.4 C142.6,384.7 143.7,390.3 144.0,394.5 C144.3,398.6 144.2,403.1 143.4,406.4 C142.6,409.8 140.6,412.7 139.4,414.8 C138.1,416.9 137.2,418.2 135.7,418.9 C134.2,419.6 131.9,419.9 130.5,418.9 C129.0,417.9 127.7,415.3 126.8,412.7 C126.0,410.1 125.4,407.8 125.2,403.3 C125.0,398.8 125.7,389.4 125.4,385.8 C125.1,382.2 124.1,383.0 123.5,382.0 C122.9,381.0 121.2,381.1 122.0,379.8 C122.8,378.5 127.2,376.1 128.5,374.3 C129.8,372.5 129.3,370.6 130.1,368.8 C130.9,367.1 132.1,363.8 133.1,363.8 Z" fill="url(#edgeg)"/>
<ellipse cx="131.3" cy="372.3" rx="0.9" ry="1.1" fill="#606060" opacity="0.8"/>
<ellipse cx="135.3" cy="372.3" rx="0.9" ry="1.1" fill="#606060" opacity="0.8"/>
<ellipse cx="133.6" cy="378.8" rx="4.5" ry="2.5" fill="#8a8a8a" opacity="0.35"/>
<path d="M120.0,411.4 Q125.0,410.1 131.0,414.3" stroke="#a6a6a6" stroke-width="2.6" fill="none" stroke-linecap="round"/>
<path d="M122.0,380.6 L132.1,384.3" stroke="#bebebe" stroke-width="2.6" fill="none" stroke-linecap="round"/>
</g>
<g filter="url(#bl2)">
<ellipse cx="88" cy="392.7" rx="9.36" ry="5.82" fill="#dfe2f6" opacity="0.5" transform="rotate(-12 88 392.7)"/>
<circle cx="91.3" cy="394.3" r="0.90" fill="#4a40b8" opacity="0.85"/>
<circle cx="85.0" cy="395.5" r="0.72" fill="#4a40b8" opacity="0.85"/>
<circle cx="88.6" cy="389.6" r="0.70" fill="#4a40b8" opacity="0.85"/>
<circle cx="85.3" cy="396.2" r="0.41" fill="#4a40b8" opacity="0.85"/>
<circle cx="94.8" cy="392.1" r="0.83" fill="#4a40b8" opacity="0.85"/>
<circle cx="82.2" cy="394.2" r="0.53" fill="#4a40b8" opacity="0.85"/>
<circle cx="88.3" cy="389.3" r="0.87" fill="#4a40b8" opacity="0.85"/>
<circle cx="87.9" cy="388.8" r="0.88" fill="#4a40b8" opacity="0.85"/>
<circle cx="88.5" cy="395.5" r="0.50" fill="#4a40b8" opacity="0.85"/>
<circle cx="90.6" cy="394.8" r="0.43" fill="#4a40b8" opacity="0.85"/>
<ellipse cx="88" cy="392.7" rx="5.66" ry="3.30" fill="#4c52c4" transform="rotate(-12 88 392.7)"/>
<ellipse cx="88" cy="392.7" rx="5.28" ry="3.08" fill="#58c08a" transform="rotate(-12 88 392.7)"/>
<ellipse cx="88" cy="392.7" rx="4.90" ry="2.86" fill="#ecd224" transform="rotate(-12 88 392.7)"/>
<ellipse cx="88" cy="392.7" rx="3.94" ry="2.18" fill="#dc0c0c" transform="rotate(-12 88 392.7)"/>
<rect x="93.5" y="384" width="6" height="10" fill="#1f4a48" opacity="0.3"/>
<ellipse cx="109.5" cy="391.2" rx="10.53" ry="4.99" fill="#dfe2f6" opacity="0.5" transform="rotate(-5 109.5 391.2)"/>
<circle cx="102.4" cy="390.6" r="0.63" fill="#4a40b8" opacity="0.85"/>
<circle cx="116.6" cy="389.5" r="0.43" fill="#4a40b8" opacity="0.85"/>
<circle cx="104.2" cy="390.0" r="0.46" fill="#4a40b8" opacity="0.85"/>
<circle cx="115.2" cy="390.0" r="0.68" fill="#4a40b8" opacity="0.85"/>
<circle cx="104.4" cy="389.0" r="0.73" fill="#4a40b8" opacity="0.85"/>
<circle cx="104.6" cy="393.4" r="0.48" fill="#4a40b8" opacity="0.85"/>
<circle cx="117.0" cy="389.8" r="0.51" fill="#4a40b8" opacity="0.85"/>
<circle cx="115.4" cy="391.3" r="0.58" fill="#4a40b8" opacity="0.85"/>
<circle cx="115.5" cy="388.7" r="0.82" fill="#4a40b8" opacity="0.85"/>
<circle cx="116.5" cy="391.5" r="0.75" fill="#4a40b8" opacity="0.85"/>
<ellipse cx="109.5" cy="391.2" rx="6.37" ry="2.83" fill="#4c52c4" transform="rotate(-5 109.5 391.2)"/>
<ellipse cx="109.5" cy="391.2" rx="5.94" ry="2.64" fill="#58c08a" transform="rotate(-5 109.5 391.2)"/>
<ellipse cx="109.5" cy="391.2" rx="5.51" ry="2.45" fill="#ecd224" transform="rotate(-5 109.5 391.2)"/>
<ellipse cx="109.5" cy="391.2" rx="4.43" ry="1.87" fill="#dc0c0c" transform="rotate(-5 109.5 391.2)"/>
<ellipse cx="112" cy="387.6" rx="3.4" ry="1.4" fill="#5a48c0"/>
<ellipse cx="136.5" cy="390" rx="6" ry="5.6" fill="#dfe2f6" opacity="0.5"/>
<ellipse cx="136.5" cy="390" rx="4.8" ry="4.3" fill="#4c60cc"/>
<ellipse cx="136.5" cy="390.5" rx="3.8" ry="3.4" fill="#88d050"/>
<circle cx="136" cy="391.5" r="2.4" fill="#dc0c0c"/>
<circle cx="140.6" cy="387" r="1.7" fill="#e8d020"/>
<ellipse cx="133" cy="386.3" rx="2" ry="1.3" fill="#3a6ad0"/>
<circle cx="138.8" cy="395.8" r="0.32" fill="#5040b0" opacity="0.85"/>
<circle cx="132.7" cy="393.1" r="0.68" fill="#5040b0" opacity="0.85"/>
<circle cx="139.1" cy="387.6" r="0.54" fill="#5040b0" opacity="0.85"/>
<circle cx="140.1" cy="385.3" r="0.43" fill="#5040b0" opacity="0.85"/>
<circle cx="134.1" cy="385.5" r="0.49" fill="#5040b0" opacity="0.85"/>
<circle cx="133.0" cy="386.9" r="0.36" fill="#5040b0" opacity="0.85"/>
<circle cx="139.1" cy="384.2" r="0.59" fill="#5040b0" opacity="0.85"/>
<circle cx="133.3" cy="384.4" r="0.67" fill="#5040b0" opacity="0.85"/>
<circle cx="133.6" cy="395.2" r="0.65" fill="#5040b0" opacity="0.85"/>
<circle cx="141.7" cy="385.7" r="0.48" fill="#5040b0" opacity="0.85"/>
<circle cx="132.2" cy="395.1" r="0.64" fill="#5040b0" opacity="0.85"/>
<circle cx="138.5" cy="389.4" r="0.44" fill="#5040b0" opacity="0.85"/>
<circle cx="140.9" cy="389.7" r="0.55" fill="#5040b0" opacity="0.85"/>
<circle cx="132.7" cy="386.7" r="0.32" fill="#5040b0" opacity="0.85"/>
</g>
</g>
<rect x="156.6" y="366.0" width="80.1" height="51.2" fill="#262523"/>
<g clip-path="url(#cp21)"><g filter="url(#bl)">
<path d="M173.8,364.0 C175.3,364.0 177.2,367.2 178.1,369.0 C179.0,370.8 178.4,372.9 179.1,375.0 C179.8,377.1 181.3,378.2 182.2,381.4 C183.2,384.6 184.6,390.1 185.0,394.2 C185.3,398.3 185.2,402.6 184.4,405.9 C183.5,409.3 181.5,412.1 180.1,414.1 C178.8,416.2 177.9,417.5 176.3,418.2 C174.7,418.9 172.3,419.2 170.8,418.2 C169.2,417.2 167.9,414.6 167.0,412.1 C166.0,409.5 165.5,407.8 165.3,402.9 C165.0,397.9 165.9,386.4 165.5,382.3 C165.1,378.2 163.7,379.5 163.0,378.5 C162.3,377.5 160.7,377.0 161.5,376.3 C162.3,375.6 166.5,375.7 167.8,374.5 C169.1,373.3 168.4,370.8 169.4,369.0 C170.4,367.2 172.4,364.0 173.8,364.0 Z" fill="url(#bodyg)" opacity="1.00"/>
<path d="M173.8,364.0 C175.3,364.0 177.2,367.2 178.1,369.0 C179.0,370.8 178.4,372.9 179.1,375.0 C179.8,377.1 181.3,378.2 182.2,381.4 C183.2,384.6 184.6,390.1 185.0,394.2 C185.3,398.3 185.2,402.6 184.4,405.9 C183.5,409.3 181.5,412.1 180.1,414.1 C178.8,416.2 177.9,417.5 176.3,418.2 C174.7,418.9 172.3,419.2 170.8,418.2 C169.2,417.2 167.9,414.6 167.0,412.1 C166.0,409.5 165.5,407.8 165.3,402.9 C165.0,397.9 165.9,386.4 165.5,382.3 C165.1,378.2 163.7,379.5 163.0,378.5 C162.3,377.5 160.7,377.0 161.5,376.3 C162.3,375.6 166.5,375.7 167.8,374.5 C169.1,373.3 168.4,370.8 169.4,369.0 C170.4,367.2 172.4,364.0 173.8,364.0 Z" fill="url(#edgeg)"/>
<ellipse cx="172.0" cy="372.5" rx="0.9" ry="1.1" fill="#606060" opacity="0.8"/>
<ellipse cx="176.0" cy="372.5" rx="0.9" ry="1.1" fill="#606060" opacity="0.8"/>
<ellipse cx="174.2" cy="379.0" rx="4.8" ry="2.5" fill="#8a8a8a" opacity="0.35"/>
<path d="M160.0,410.8 Q165.0,409.5 171.0,413.6" stroke="#afafaf" stroke-width="2.6" fill="none" stroke-linecap="round"/>
<path d="M161.5,377.1 L172.5,380.8" stroke="#c8c8c8" stroke-width="2.6" fill="none" stroke-linecap="round"/>
<path d="M199.5,364.0 C200.8,364.0 202.6,367.2 203.4,369.0 C204.2,370.8 203.3,372.9 204.4,375.0 C205.5,377.1 208.6,378.2 210.0,381.4 C211.4,384.6 212.4,390.1 212.8,394.2 C213.1,398.3 213.0,402.6 212.2,405.9 C211.3,409.3 209.3,412.1 207.9,414.1 C206.6,416.2 205.7,417.5 204.1,418.2 C202.5,418.9 200.1,419.2 198.6,418.2 C197.0,417.2 195.7,414.6 194.8,412.1 C193.8,409.5 193.3,407.7 193.1,402.9 C192.8,398.0 193.8,386.9 193.3,383.0 C192.8,379.1 190.8,380.2 190.0,379.2 C189.2,378.2 187.9,377.8 188.5,377.0 C189.1,376.2 192.7,375.8 193.8,374.5 C195.0,373.2 194.5,370.8 195.4,369.0 C196.3,367.2 198.2,364.0 199.5,364.0 Z" fill="url(#bodyg)" opacity="1.00"/>
<path d="M199.5,364.0 C200.8,364.0 202.6,367.2 203.4,369.0 C204.2,370.8 203.3,372.9 204.4,375.0 C205.5,377.1 208.6,378.2 210.0,381.4 C211.4,384.6 212.4,390.1 212.8,394.2 C213.1,398.3 213.0,402.6 212.2,405.9 C211.3,409.3 209.3,412.1 207.9,414.1 C206.6,416.2 205.7,417.5 204.1,418.2 C202.5,418.9 200.1,419.2 198.6,418.2 C197.0,417.2 195.7,414.6 194.8,412.1 C193.8,409.5 193.3,407.7 193.1,402.9 C192.8,398.0 193.8,386.9 193.3,383.0 C192.8,379.1 190.8,380.2 190.0,379.2 C189.2,378.2 187.9,377.8 188.5,377.0 C189.1,376.2 192.7,375.8 193.8,374.5 C195.0,373.2 194.5,370.8 195.4,369.0 C196.3,367.2 198.2,364.0 199.5,364.0 Z" fill="url(#edgeg)"/>
<ellipse cx="197.7" cy="372.5" rx="0.9" ry="1.1" fill="#606060" opacity="0.8"/>
<ellipse cx="201.7" cy="372.5" rx="0.9" ry="1.1" fill="#606060" opacity="0.8"/>
<ellipse cx="200.9" cy="379.0" rx="4.8" ry="2.5" fill="#8a8a8a" opacity="0.35"/>
<path d="M187.8,410.8 Q192.8,409.5 198.8,413.6" stroke="#afafaf" stroke-width="2.6" fill="none" stroke-linecap="round"/>
<path d="M188.5,377.8 L200.3,381.5" stroke="#c8c8c8" stroke-width="2.6" fill="none" stroke-linecap="round"/>
<path d="M226.5,364.0 C227.8,364.0 229.6,367.2 230.4,369.0 C231.2,370.8 230.7,372.9 231.4,375.0 C232.1,377.1 233.5,378.2 234.4,381.4 C235.3,384.6 236.3,390.1 236.6,394.2 C236.9,398.3 236.8,402.6 236.1,405.9 C235.5,409.3 233.8,412.1 232.7,414.1 C231.6,416.2 230.8,417.5 229.6,418.2 C228.3,418.9 226.4,419.2 225.1,418.2 C223.8,417.2 222.8,414.6 222.0,412.1 C221.3,409.5 220.8,407.6 220.6,402.9 C220.4,398.2 221.5,387.6 220.8,383.8 C220.1,380.0 217.2,381.0 216.2,380.0 C215.2,379.0 213.9,378.7 214.7,377.8 C215.5,376.9 219.5,376.0 220.8,374.5 C222.1,373.0 221.5,370.8 222.4,369.0 C223.3,367.2 225.2,364.0 226.5,364.0 Z" fill="url(#bodyg)" opacity="0.98"/>
<path d="M226.5,364.0 C227.8,364.0 229.6,367.2 230.4,369.0 C231.2,370.8 230.7,372.9 231.4,375.0 C232.1,377.1 233.5,378.2 234.4,381.4 C235.3,384.6 236.3,390.1 236.6,394.2 C236.9,398.3 236.8,402.6 236.1,405.9 C235.5,409.3 233.8,412.1 232.7,414.1 C231.6,416.2 230.8,417.5 229.6,418.2 C228.3,418.9 226.4,419.2 225.1,418.2 C223.8,417.2 222.8,414.6 222.0,412.1 C221.3,409.5 220.8,407.6 220.6,402.9 C220.4,398.2 221.5,387.6 220.8,383.8 C220.1,380.0 217.2,381.0 216.2,380.0 C215.2,379.0 213.9,378.7 214.7,377.8 C215.5,376.9 219.5,376.0 220.8,374.5 C222.1,373.0 221.5,370.8 222.4,369.0 C223.3,367.2 225.2,364.0 226.5,364.0 Z" fill="url(#edgeg)"/>
<ellipse cx="224.7" cy="372.5" rx="0.9" ry="1.1" fill="#606060" opacity="0.8"/>
<ellipse cx="228.7" cy="372.5" rx="0.9" ry="1.1" fill="#606060" opacity="0.8"/>
<ellipse cx="227.3" cy="379.0" rx="3.9" ry="2.5" fill="#8a8a8a" opacity="0.35"/>
<path d="M215.6,410.8 Q220.6,409.5 226.6,413.6" stroke="#acacac" stroke-width="2.6" fill="none" stroke-linecap="round"/>
<path d="M214.7,378.6 L226.5,382.3" stroke="#c4c4c4" stroke-width="2.6" fill="none" stroke-linecap="round"/>
</g>
<g filter="url(#bl2)">
<ellipse cx="230" cy="388" rx="6" ry="18" fill="#9a86d8" opacity="0.35"/>
<circle cx="233.0" cy="391.2" r="0.37" fill="#4a2c9c" opacity="0.85"/>
<circle cx="235.2" cy="379.2" r="0.51" fill="#4a2c9c" opacity="0.85"/>
<circle cx="225.2" cy="379.4" r="0.72" fill="#4a2c9c" opacity="0.85"/>
<circle cx="227.7" cy="375.0" r="0.55" fill="#4a2c9c" opacity="0.85"/>
<circle cx="227.5" cy="405.9" r="0.36" fill="#4a2c9c" opacity="0.85"/>
<circle cx="236.7" cy="370.4" r="0.75" fill="#4a2c9c" opacity="0.85"/>
<circle cx="232.4" cy="376.9" r="0.54" fill="#4a2c9c" opacity="0.85"/>
<circle cx="227.0" cy="378.8" r="0.40" fill="#4a2c9c" opacity="0.85"/>
<circle cx="228.1" cy="409.6" r="0.80" fill="#4a2c9c" opacity="0.85"/>
<circle cx="236.0" cy="372.1" r="0.44" fill="#4a2c9c" opacity="0.85"/>
<circle cx="235.5" cy="370.4" r="0.66" fill="#4a2c9c" opacity="0.85"/>
<circle cx="227.1" cy="409.1" r="0.31" fill="#4a2c9c" opacity="0.85"/>
<circle cx="234.3" cy="382.3" r="0.37" fill="#4a2c9c" opacity="0.85"/>
<circle cx="223.0" cy="403.0" r="0.56" fill="#4a2c9c" opacity="0.85"/>
<circle cx="225.6" cy="386.3" r="0.76" fill="#4a2c9c" opacity="0.85"/>
<circle cx="226.1" cy="392.0" r="0.37" fill="#4a2c9c" opacity="0.85"/>
<circle cx="225.5" cy="400.4" r="0.66" fill="#4a2c9c" opacity="0.85"/>
<circle cx="225.8" cy="371.3" r="0.34" fill="#4a2c9c" opacity="0.85"/>
<circle cx="231.5" cy="388.8" r="0.44" fill="#4a2c9c" opacity="0.85"/>
<circle cx="225.9" cy="393.7" r="0.65" fill="#4a2c9c" opacity="0.85"/>
<circle cx="234.4" cy="392.5" r="0.40" fill="#4a2c9c" opacity="0.85"/>
<circle cx="223.9" cy="398.8" r="0.50" fill="#4a2c9c" opacity="0.85"/>
<circle cx="233.1" cy="370.3" r="0.71" fill="#4a2c9c" opacity="0.85"/>
<circle cx="227.7" cy="403.4" r="0.73" fill="#4a2c9c" opacity="0.85"/>
<circle cx="229.9" cy="368.6" r="0.76" fill="#4a2c9c" opacity="0.85"/>
<circle cx="229.7" cy="404.6" r="0.43" fill="#4a2c9c" opacity="0.85"/>
<circle cx="225.6" cy="402.9" r="0.48" fill="#4a2c9c" opacity="0.85"/>
<circle cx="225.3" cy="383.6" r="0.60" fill="#4a2c9c" opacity="0.85"/>
<circle cx="223.1" cy="389.8" r="0.52" fill="#4a2c9c" opacity="0.85"/>
<circle cx="230.2" cy="373.1" r="0.66" fill="#4a2c9c" opacity="0.85"/>
<circle cx="234.4" cy="404.3" r="0.46" fill="#4a2c9c" opacity="0.85"/>
<circle cx="233.0" cy="384.0" r="0.68" fill="#4a2c9c" opacity="0.85"/>
<circle cx="223.9" cy="404.7" r="0.78" fill="#4a2c9c" opacity="0.85"/>
<circle cx="229.9" cy="389.6" r="0.57" fill="#4a2c9c" opacity="0.85"/>
<circle cx="230.5" cy="368.9" r="0.78" fill="#4a2c9c" opacity="0.85"/>
<circle cx="226.1" cy="375.7" r="0.35" fill="#4a2c9c" opacity="0.85"/>
<circle cx="226.5" cy="402.3" r="0.32" fill="#4a2c9c" opacity="0.85"/>
<circle cx="224.4" cy="397.4" r="0.40" fill="#4a2c9c" opacity="0.85"/>
<circle cx="223.2" cy="393.2" r="0.59" fill="#4a2c9c" opacity="0.85"/>
<circle cx="230.3" cy="397.5" r="0.35" fill="#4a2c9c" opacity="0.85"/>
<circle cx="235.2" cy="398.1" r="0.32" fill="#4a2c9c" opacity="0.85"/>
<circle cx="224.7" cy="388.7" r="0.55" fill="#4a2c9c" opacity="0.85"/>
<circle cx="226.9" cy="373.1" r="0.50" fill="#4a2c9c" opacity="0.85"/>
<circle cx="224.9" cy="392.9" r="0.73" fill="#4a2c9c" opacity="0.85"/>
<circle cx="225.1" cy="392.1" r="0.67" fill="#4a2c9c" opacity="0.85"/>
<circle cx="225.3" cy="402.7" r="0.77" fill="#4a2c9c" opacity="0.85"/>
<circle cx="228.4" cy="385.7" r="0.72" fill="#4a2c9c" opacity="0.85"/>
<circle cx="230.4" cy="384.6" r="0.77" fill="#4a2c9c" opacity="0.85"/>
<circle cx="233.9" cy="382.2" r="0.42" fill="#4a2c9c" opacity="0.85"/>
<circle cx="227.7" cy="386.3" r="0.79" fill="#4a2c9c" opacity="0.85"/>
<circle cx="234.3" cy="406.3" r="0.71" fill="#4a2c9c" opacity="0.85"/>
<circle cx="234.9" cy="370.2" r="0.56" fill="#4a2c9c" opacity="0.85"/>
<circle cx="236.4" cy="407.2" r="0.42" fill="#4a2c9c" opacity="0.85"/>
<circle cx="228.9" cy="394.6" r="0.48" fill="#4a2c9c" opacity="0.85"/>
<circle cx="230.4" cy="370.9" r="0.52" fill="#4a2c9c" opacity="0.85"/>
<circle cx="230.1" cy="368.9" r="0.37" fill="#4a2c9c" opacity="0.85"/>
<circle cx="236.6" cy="400.6" r="0.77" fill="#4a2c9c" opacity="0.85"/>
<circle cx="231.9" cy="402.0" r="0.74" fill="#4a2c9c" opacity="0.85"/>
<circle cx="235.4" cy="369.4" r="0.62" fill="#4a2c9c" opacity="0.85"/>
<circle cx="226.7" cy="396.5" r="0.44" fill="#4a2c9c" opacity="0.85"/>
<circle cx="230.6" cy="406.8" r="0.61" fill="#4a2c9c" opacity="0.85"/>
<circle cx="226.5" cy="389.9" r="0.52" fill="#4a2c9c" opacity="0.85"/>
<circle cx="236.3" cy="380.1" r="0.45" fill="#4a2c9c" opacity="0.85"/>
<circle cx="232.1" cy="373.1" r="0.60" fill="#4a2c9c" opacity="0.85"/>
<circle cx="236.4" cy="389.6" r="0.43" fill="#4a2c9c" opacity="0.85"/>
<circle cx="229.5" cy="390.4" r="0.37" fill="#4a2c9c" opacity="0.85"/>
<circle cx="224.7" cy="373.5" r="0.45" fill="#4a2c9c" opacity="0.85"/>
<circle cx="228.7" cy="380.1" r="0.42" fill="#4a2c9c" opacity="0.85"/>
<circle cx="224.2" cy="390.9" r="0.72" fill="#4a2c9c" opacity="0.85"/>
<circle cx="231.5" cy="391.9" r="0.63" fill="#4a2c9c" opacity="0.85"/>
<circle cx="225.8" cy="397.8" r="0.53" fill="#4a2c9c" opacity="0.85"/>
<circle cx="230.7" cy="393.7" r="0.53" fill="#4a2c9c" opacity="0.85"/>
<circle cx="227.3" cy="378.2" r="0.41" fill="#4a2c9c" opacity="0.85"/>
<circle cx="230.2" cy="384.1" r="0.59" fill="#4a2c9c" opacity="0.85"/>
<circle cx="223.2" cy="382.8" r="0.73" fill="#4a2c9c" opacity="0.85"/>
<circle cx="226.3" cy="391.4" r="0.55" fill="#4a2c9c" opacity="0.85"/>
<circle cx="227.0" cy="409.5" r="0.45" fill="#4a2c9c" opacity="0.85"/>
<circle cx="233.8" cy="374.7" r="0.33" fill="#4a2c9c" opacity="0.85"/>
<circle cx="235.2" cy="386.5" r="0.33" fill="#4a2c9c" opacity="0.85"/>
<circle cx="228.4" cy="386.5" r="0.67" fill="#4a2c9c" opacity="0.85"/>
<circle cx="224.5" cy="377.5" r="0.78" fill="#4a2c9c" opacity="0.85"/>
<circle cx="233.3" cy="374.5" r="0.47" fill="#4a2c9c" opacity="0.85"/>
<circle cx="227.9" cy="396.4" r="0.61" fill="#4a2c9c" opacity="0.85"/>
<circle cx="234.9" cy="402.5" r="0.56" fill="#4a2c9c" opacity="0.85"/>
<circle cx="233.3" cy="399.2" r="0.68" fill="#4a2c9c" opacity="0.85"/>
<circle cx="229.7" cy="401.0" r="0.65" fill="#4a2c9c" opacity="0.85"/>
<circle cx="235.8" cy="373.3" r="0.74" fill="#4a2c9c" opacity="0.85"/>
<circle cx="223.1" cy="400.2" r="0.59" fill="#4a2c9c" opacity="0.85"/>
<circle cx="230.0" cy="408.4" r="0.59" fill="#4a2c9c" opacity="0.85"/>
<circle cx="228.9" cy="400.9" r="0.74" fill="#4a2c9c" opacity="0.85"/>
<circle cx="231.5" cy="383.9" r="0.53" fill="#4a2c9c" opacity="0.85"/>
<circle cx="229.4" cy="398.4" r="0.45" fill="#4a2c9c" opacity="0.85"/>
<circle cx="228.5" cy="391.3" r="0.49" fill="#4a2c9c" opacity="0.85"/>
<circle cx="227.5" cy="401.1" r="0.72" fill="#4a2c9c" opacity="0.85"/>
<circle cx="230.0" cy="386.6" r="0.39" fill="#4a2c9c" opacity="0.85"/>
<circle cx="227.3" cy="374.1" r="0.59" fill="#4a2c9c" opacity="0.85"/>
<circle cx="231.1" cy="371.7" r="0.76" fill="#4a2c9c" opacity="0.85"/>
<circle cx="227.5" cy="403.4" r="0.72" fill="#4a2c9c" opacity="0.85"/>
<circle cx="236.4" cy="376.6" r="0.51" fill="#4a2c9c" opacity="0.85"/>
<circle cx="235.7" cy="368.4" r="0.32" fill="#4a2c9c" opacity="0.85"/>
<circle cx="230.9" cy="388.9" r="0.76" fill="#4a2c9c" opacity="0.85"/>
<circle cx="233.8" cy="390.6" r="0.80" fill="#4a2c9c" opacity="0.85"/>
<circle cx="230.2" cy="389.7" r="0.64" fill="#4a2c9c" opacity="0.85"/>
<circle cx="228.5" cy="383.0" r="0.60" fill="#4a2c9c" opacity="0.85"/>
<circle cx="227.9" cy="407.8" r="0.64" fill="#4a2c9c" opacity="0.85"/>
<circle cx="230.4" cy="372.2" r="0.49" fill="#4a2c9c" opacity="0.85"/>
<circle cx="228.6" cy="391.6" r="0.59" fill="#4a2c9c" opacity="0.85"/>
<circle cx="235.3" cy="408.5" r="0.54" fill="#4a2c9c" opacity="0.85"/>
<circle cx="229.2" cy="394.2" r="0.80" fill="#4a2c9c" opacity="0.85"/>
<circle cx="227.8" cy="390.3" r="0.71" fill="#4a2c9c" opacity="0.85"/>
<circle cx="210" cy="387" r="0.9" fill="#3a2a90"/>
<circle cx="209" cy="391" r="0.7" fill="#3a2a90"/>
<ellipse cx="175" cy="376" rx="3" ry="2.2" fill="#808080" opacity="0.6"/>
</g>
</g>
<rect x="245.8" y="366.0" width="73.7" height="52.2" fill="#262523"/>
<g clip-path="url(#cp22)"><g filter="url(#bl)">
<path d="M256.8,364.0 C258.2,364.0 260.0,367.2 260.9,369.0 C261.8,370.8 261.1,372.9 261.9,375.0 C262.7,377.1 264.6,378.4 265.7,381.7 C266.7,384.9 267.9,390.5 268.2,394.7 C268.5,398.9 268.4,403.3 267.6,406.7 C266.9,410.1 265.0,413.0 263.7,415.1 C262.5,417.1 261.7,418.5 260.3,419.2 C258.8,419.9 256.6,420.2 255.2,419.2 C253.8,418.2 252.6,415.6 251.7,413.0 C250.9,410.4 250.4,408.3 250.2,403.6 C249.9,398.9 250.8,388.5 250.4,384.7 C249.9,380.9 248.2,381.9 247.5,380.9 C246.8,379.9 245.4,379.8 246.0,378.7 C246.6,377.6 249.7,376.1 250.8,374.5 C251.9,372.9 251.4,370.8 252.4,369.0 C253.4,367.2 255.3,364.0 256.8,364.0 Z" fill="url(#bodyg)" opacity="1.00"/>
<path d="M256.8,364.0 C258.2,364.0 260.0,367.2 260.9,369.0 C261.8,370.8 261.1,372.9 261.9,375.0 C262.7,377.1 264.6,378.4 265.7,381.7 C266.7,384.9 267.9,390.5 268.2,394.7 C268.5,398.9 268.4,403.3 267.6,406.7 C266.9,410.1 265.0,413.0 263.7,415.1 C262.5,417.1 261.7,418.5 260.3,419.2 C258.8,419.9 256.6,420.2 255.2,419.2 C253.8,418.2 252.6,415.6 251.7,413.0 C250.9,410.4 250.4,408.3 250.2,403.6 C249.9,398.9 250.8,388.5 250.4,384.7 C249.9,380.9 248.2,381.9 247.5,380.9 C246.8,379.9 245.4,379.8 246.0,378.7 C246.6,377.6 249.7,376.1 250.8,374.5 C251.9,372.9 251.4,370.8 252.4,369.0 C253.4,367.2 255.3,364.0 256.8,364.0 Z" fill="url(#edgeg)"/>
<ellipse cx="254.9" cy="372.5" rx="0.9" ry="1.1" fill="#606060" opacity="0.8"/>
<ellipse cx="258.9" cy="372.5" rx="0.9" ry="1.1" fill="#606060" opacity="0.8"/>
<ellipse cx="257.7" cy="379.0" rx="4.4" ry="2.5" fill="#8a8a8a" opacity="0.35"/>
<path d="M245.0,411.7 Q250.0,410.4 256.0,414.5" stroke="#afafaf" stroke-width="2.6" fill="none" stroke-linecap="round"/>
<path d="M246.0,379.5 L256.8,383.2" stroke="#c8c8c8" stroke-width="2.6" fill="none" stroke-linecap="round"/>
<path d="M282.2,364.0 C283.6,364.0 285.4,367.2 286.2,369.0 C287.0,370.8 286.3,372.9 287.2,375.0 C288.1,377.1 290.5,378.4 291.7,381.7 C292.9,384.9 294.0,390.5 294.3,394.7 C294.6,398.9 294.5,403.3 293.7,406.7 C292.9,410.1 291.0,413.0 289.7,415.1 C288.4,417.1 287.6,418.5 286.1,419.2 C284.6,419.9 282.4,420.2 280.9,419.2 C279.4,418.2 278.2,415.6 277.3,413.0 C276.4,410.4 275.9,407.5 275.7,403.6 C275.5,399.6 276.3,392.3 275.9,389.3 C275.4,386.3 273.7,386.5 273.0,385.5 C272.3,384.5 270.9,385.1 271.5,383.3 C272.1,381.5 275.3,376.9 276.4,374.5 C277.5,372.1 277.0,370.8 278.0,369.0 C279.0,367.2 280.8,364.0 282.2,364.0 Z" fill="url(#bodyg)" opacity="1.00"/>
<path d="M282.2,364.0 C283.6,364.0 285.4,367.2 286.2,369.0 C287.0,370.8 286.3,372.9 287.2,375.0 C288.1,377.1 290.5,378.4 291.7,381.7 C292.9,384.9 294.0,390.5 294.3,394.7 C294.6,398.9 294.5,403.3 293.7,406.7 C292.9,410.1 291.0,413.0 289.7,415.1 C288.4,417.1 287.6,418.5 286.1,419.2 C284.6,419.9 282.4,420.2 280.9,419.2 C279.4,418.2 278.2,415.6 277.3,413.0 C276.4,410.4 275.9,407.5 275.7,403.6 C275.5,399.6 276.3,392.3 275.9,389.3 C275.4,386.3 273.7,386.5 273.0,385.5 C272.3,384.5 270.9,385.1 271.5,383.3 C272.1,381.5 275.3,376.9 276.4,374.5 C277.5,372.1 277.0,370.8 278.0,369.0 C279.0,367.2 280.8,364.0 282.2,364.0 Z" fill="url(#edgeg)"/>
<ellipse cx="280.4" cy="372.5" rx="0.9" ry="1.1" fill="#606060" opacity="0.8"/>
<ellipse cx="284.4" cy="372.5" rx="0.9" ry="1.1" fill="#606060" opacity="0.8"/>
<ellipse cx="283.4" cy="379.0" rx="4.5" ry="2.5" fill="#8a8a8a" opacity="0.35"/>
<path d="M270.5,411.7 Q275.5,410.4 281.5,414.5" stroke="#afafaf" stroke-width="2.6" fill="none" stroke-linecap="round"/>
<path d="M271.5,384.1 L282.5,387.8" stroke="#c8c8c8" stroke-width="2.6" fill="none" stroke-linecap="round"/>
<path d="M309.1,364.0 C310.5,364.0 312.4,367.2 313.2,369.0 C314.0,370.8 313.8,372.9 314.2,375.0 C314.6,377.1 315.2,378.4 315.8,381.7 C316.5,384.9 317.9,390.5 318.2,394.7 C318.5,398.9 318.4,403.3 317.7,406.7 C317.0,410.1 315.1,413.0 314.0,415.1 C312.8,417.1 312.0,418.5 310.7,419.2 C309.3,419.9 307.2,420.2 305.9,419.2 C304.5,418.2 303.4,415.6 302.6,413.0 C301.8,410.4 301.3,408.3 301.1,403.6 C300.9,398.9 301.8,388.5 301.3,384.7 C300.8,380.9 299.0,381.9 298.3,380.9 C297.6,379.9 296.0,379.8 296.8,378.7 C297.6,377.6 302.0,376.1 303.3,374.5 C304.6,372.9 303.9,370.8 304.9,369.0 C305.9,367.2 307.8,364.0 309.1,364.0 Z" fill="url(#bodyg)" opacity="0.97"/>
<path d="M309.1,364.0 C310.5,364.0 312.4,367.2 313.2,369.0 C314.0,370.8 313.8,372.9 314.2,375.0 C314.6,377.1 315.2,378.4 315.8,381.7 C316.5,384.9 317.9,390.5 318.2,394.7 C318.5,398.9 318.4,403.3 317.7,406.7 C317.0,410.1 315.1,413.0 314.0,415.1 C312.8,417.1 312.0,418.5 310.7,419.2 C309.3,419.9 307.2,420.2 305.9,419.2 C304.5,418.2 303.4,415.6 302.6,413.0 C301.8,410.4 301.3,408.3 301.1,403.6 C300.9,398.9 301.8,388.5 301.3,384.7 C300.8,380.9 299.0,381.9 298.3,380.9 C297.6,379.9 296.0,379.8 296.8,378.7 C297.6,377.6 302.0,376.1 303.3,374.5 C304.6,372.9 303.9,370.8 304.9,369.0 C305.9,367.2 307.8,364.0 309.1,364.0 Z" fill="url(#edgeg)"/>
<ellipse cx="307.3" cy="372.5" rx="0.9" ry="1.1" fill="#606060" opacity="0.8"/>
<ellipse cx="311.3" cy="372.5" rx="0.9" ry="1.1" fill="#606060" opacity="0.8"/>
<ellipse cx="309.2" cy="379.0" rx="4.1" ry="2.5" fill="#8a8a8a" opacity="0.35"/>
<path d="M296.0,411.7 Q301.0,410.4 307.0,414.5" stroke="#aaaaaa" stroke-width="2.6" fill="none" stroke-linecap="round"/>
<path d="M296.8,379.5 L307.4,383.2" stroke="#c2c2c2" stroke-width="2.6" fill="none" stroke-linecap="round"/>
</g>
</g>
<rect x="326.1" y="365.7" width="68.6" height="51.6" fill="#262523"/>
<g clip-path="url(#cp23)"><g filter="url(#bl)">
<path d="M341.0,363.7 C342.5,363.7 344.5,366.9 345.4,368.7 C346.3,370.5 346.3,372.6 346.4,374.7 C346.5,376.8 345.4,377.9 345.8,381.2 C346.2,384.4 348.3,390.0 348.7,394.1 C349.0,398.2 348.9,402.6 348.0,405.9 C347.2,409.3 345.0,412.1 343.6,414.2 C342.2,416.3 341.2,417.6 339.6,418.3 C338.0,419.0 335.5,419.3 333.9,418.3 C332.3,417.3 330.9,414.7 329.9,412.1 C328.9,409.6 328.4,407.9 328.1,402.9 C327.9,397.8 328.2,385.9 328.3,381.8 C328.5,377.7 329.2,379.0 329.1,378.0 C329.0,377.0 326.7,376.4 327.6,375.8 C328.6,375.2 333.3,375.4 334.8,374.2 C336.3,373.0 335.4,370.4 336.4,368.7 C337.4,366.9 339.5,363.7 341.0,363.7 Z" fill="url(#bodyg)" opacity="1.00"/>
<path d="M341.0,363.7 C342.5,363.7 344.5,366.9 345.4,368.7 C346.3,370.5 346.3,372.6 346.4,374.7 C346.5,376.8 345.4,377.9 345.8,381.2 C346.2,384.4 348.3,390.0 348.7,394.1 C349.0,398.2 348.9,402.6 348.0,405.9 C347.2,409.3 345.0,412.1 343.6,414.2 C342.2,416.3 341.2,417.6 339.6,418.3 C338.0,419.0 335.5,419.3 333.9,418.3 C332.3,417.3 330.9,414.7 329.9,412.1 C328.9,409.6 328.4,407.9 328.1,402.9 C327.9,397.8 328.2,385.9 328.3,381.8 C328.5,377.7 329.2,379.0 329.1,378.0 C329.0,377.0 326.7,376.4 327.6,375.8 C328.6,375.2 333.3,375.4 334.8,374.2 C336.3,373.0 335.4,370.4 336.4,368.7 C337.4,366.9 339.5,363.7 341.0,363.7 Z" fill="url(#edgeg)"/>
<ellipse cx="339.2" cy="372.2" rx="0.9" ry="1.1" fill="#606060" opacity="0.8"/>
<ellipse cx="343.2" cy="372.2" rx="0.9" ry="1.1" fill="#606060" opacity="0.8"/>
<ellipse cx="339.4" cy="378.7" rx="5.0" ry="2.5" fill="#8a8a8a" opacity="0.35"/>
<path d="M322.8,410.9 Q327.8,409.6 333.8,413.7" stroke="#afafaf" stroke-width="2.6" fill="none" stroke-linecap="round"/>
<path d="M327.6,376.6 L335.6,380.3" stroke="#c8c8c8" stroke-width="2.6" fill="none" stroke-linecap="round"/>
<path d="M365.2,363.7 C366.7,363.7 368.7,366.9 369.6,368.7 C370.5,370.5 370.5,372.6 370.6,374.7 C370.7,376.8 370.1,377.9 370.4,381.2 C370.8,384.4 372.5,390.0 372.8,394.1 C373.1,398.2 373.0,402.6 372.3,405.9 C371.6,409.3 369.7,412.1 368.6,414.2 C367.4,416.3 366.6,417.6 365.3,418.3 C363.9,419.0 361.8,419.3 360.5,418.3 C359.1,417.3 358.0,414.7 357.2,412.1 C356.4,409.6 355.9,407.8 355.7,402.9 C355.5,397.9 356.3,386.5 355.9,382.5 C355.5,378.5 353.9,379.7 353.2,378.7 C352.5,377.7 350.7,377.2 351.7,376.5 C352.7,375.8 357.6,375.5 359.1,374.2 C360.6,372.9 359.7,370.4 360.7,368.7 C361.7,366.9 363.8,363.7 365.2,363.7 Z" fill="url(#bodyg)" opacity="1.00"/>
<path d="M365.2,363.7 C366.7,363.7 368.7,366.9 369.6,368.7 C370.5,370.5 370.5,372.6 370.6,374.7 C370.7,376.8 370.1,377.9 370.4,381.2 C370.8,384.4 372.5,390.0 372.8,394.1 C373.1,398.2 373.0,402.6 372.3,405.9 C371.6,409.3 369.7,412.1 368.6,414.2 C367.4,416.3 366.6,417.6 365.3,418.3 C363.9,419.0 361.8,419.3 360.5,418.3 C359.1,417.3 358.0,414.7 357.2,412.1 C356.4,409.6 355.9,407.8 355.7,402.9 C355.5,397.9 356.3,386.5 355.9,382.5 C355.5,378.5 353.9,379.7 353.2,378.7 C352.5,377.7 350.7,377.2 351.7,376.5 C352.7,375.8 357.6,375.5 359.1,374.2 C360.6,372.9 359.7,370.4 360.7,368.7 C361.7,366.9 363.8,363.7 365.2,363.7 Z" fill="url(#edgeg)"/>
<ellipse cx="363.4" cy="372.2" rx="0.9" ry="1.1" fill="#606060" opacity="0.8"/>
<ellipse cx="367.4" cy="372.2" rx="0.9" ry="1.1" fill="#606060" opacity="0.8"/>
<ellipse cx="364.5" cy="378.7" rx="4.1" ry="2.5" fill="#8a8a8a" opacity="0.35"/>
<path d="M350.6,410.9 Q355.6,409.6 361.6,413.7" stroke="#afafaf" stroke-width="2.6" fill="none" stroke-linecap="round"/>
<path d="M351.7,377.3 L362.0,381.0" stroke="#c8c8c8" stroke-width="2.6" fill="none" stroke-linecap="round"/>
<path d="M388.7,363.7 C390.2,363.7 392.2,366.9 393.1,368.7 C394.0,370.5 394.2,372.6 394.1,374.7 C394.0,376.8 392.2,377.9 392.3,381.2 C392.3,384.4 394.2,390.0 394.4,394.1 C394.7,398.2 394.6,402.6 393.9,405.9 C393.3,409.3 391.7,412.1 390.6,414.2 C389.6,416.3 388.8,417.6 387.6,418.3 C386.4,419.0 384.5,419.3 383.3,418.3 C382.1,417.3 381.0,414.7 380.3,412.1 C379.6,409.6 379.2,407.7 379.0,402.9 C378.8,398.0 379.3,387.1 379.2,383.2 C379.0,379.3 378.5,380.4 378.1,379.4 C377.7,378.4 375.9,378.1 376.6,377.2 C377.3,376.3 381.2,375.6 382.5,374.2 C383.8,372.8 383.1,370.4 384.1,368.7 C385.1,366.9 387.2,363.7 388.7,363.7 Z" fill="url(#bodyg)" opacity="0.97"/>
<path d="M388.7,363.7 C390.2,363.7 392.2,366.9 393.1,368.7 C394.0,370.5 394.2,372.6 394.1,374.7 C394.0,376.8 392.2,377.9 392.3,381.2 C392.3,384.4 394.2,390.0 394.4,394.1 C394.7,398.2 394.6,402.6 393.9,405.9 C393.3,409.3 391.7,412.1 390.6,414.2 C389.6,416.3 388.8,417.6 387.6,418.3 C386.4,419.0 384.5,419.3 383.3,418.3 C382.1,417.3 381.0,414.7 380.3,412.1 C379.6,409.6 379.2,407.7 379.0,402.9 C378.8,398.0 379.3,387.1 379.2,383.2 C379.0,379.3 378.5,380.4 378.1,379.4 C377.7,378.4 375.9,378.1 376.6,377.2 C377.3,376.3 381.2,375.6 382.5,374.2 C383.8,372.8 383.1,370.4 384.1,368.7 C385.1,366.9 387.2,363.7 388.7,363.7 Z" fill="url(#edgeg)"/>
<ellipse cx="386.9" cy="372.2" rx="0.9" ry="1.1" fill="#606060" opacity="0.8"/>
<ellipse cx="390.9" cy="372.2" rx="0.9" ry="1.1" fill="#606060" opacity="0.8"/>
<ellipse cx="387.5" cy="378.7" rx="3.7" ry="2.5" fill="#8a8a8a" opacity="0.35"/>
<path d="M374.0,410.9 Q379.0,409.6 385.0,413.7" stroke="#aaaaaa" stroke-width="2.6" fill="none" stroke-linecap="round"/>
<path d="M376.6,378.0 L384.6,381.7" stroke="#c2c2c2" stroke-width="2.6" fill="none" stroke-linecap="round"/>
</g>
<g filter="url(#bl2)">
<rect x="335.90000000000003" y="365.5" width="1.8" height="3.5" fill="#e0e0e0"/>
<rect x="361.5" y="365.5" width="1.8" height="3.5" fill="#e0e0e0"/>
<rect x="386.40000000000003" y="365.5" width="1.8" height="3.5" fill="#e0e0e0"/>
</g>
</g>
<rect x="399.9" y="365.8" width="76.5" height="51.5" fill="#262523"/>
<g clip-path="url(#cp24)"><g filter="url(#bl)">
<path d="M412.6,363.8 C413.9,363.8 415.6,367.0 416.4,368.8 C417.2,370.6 416.2,372.7 417.4,374.8 C418.6,376.9 421.8,378.0 423.3,381.2 C424.8,384.5 425.8,390.0 426.2,394.1 C426.5,398.2 426.4,402.6 425.5,406.0 C424.7,409.3 422.5,412.2 421.1,414.2 C419.7,416.3 418.7,417.6 417.1,418.3 C415.5,419.0 413.0,419.3 411.4,418.3 C409.8,417.3 408.4,414.7 407.4,412.2 C406.4,409.6 405.9,407.3 405.6,402.9 C405.4,398.5 406.3,389.2 405.8,385.7 C405.4,382.2 403.5,382.9 402.7,381.9 C401.9,380.9 400.5,381.0 401.2,379.7 C401.9,378.4 405.9,376.1 407.1,374.3 C408.4,372.5 407.8,370.6 408.7,368.8 C409.6,367.1 411.4,363.8 412.6,363.8 Z" fill="url(#bodyg)" opacity="1.00"/>
<path d="M412.6,363.8 C413.9,363.8 415.6,367.0 416.4,368.8 C417.2,370.6 416.2,372.7 417.4,374.8 C418.6,376.9 421.8,378.0 423.3,381.2 C424.8,384.5 425.8,390.0 426.2,394.1 C426.5,398.2 426.4,402.6 425.5,406.0 C424.7,409.3 422.5,412.2 421.1,414.2 C419.7,416.3 418.7,417.6 417.1,418.3 C415.5,419.0 413.0,419.3 411.4,418.3 C409.8,417.3 408.4,414.7 407.4,412.2 C406.4,409.6 405.9,407.3 405.6,402.9 C405.4,398.5 406.3,389.2 405.8,385.7 C405.4,382.2 403.5,382.9 402.7,381.9 C401.9,380.9 400.5,381.0 401.2,379.7 C401.9,378.4 405.9,376.1 407.1,374.3 C408.4,372.5 407.8,370.6 408.7,368.8 C409.6,367.1 411.4,363.8 412.6,363.8 Z" fill="url(#edgeg)"/>
<ellipse cx="410.8" cy="372.3" rx="0.9" ry="1.1" fill="#606060" opacity="0.8"/>
<ellipse cx="414.8" cy="372.3" rx="0.9" ry="1.1" fill="#606060" opacity="0.8"/>
<ellipse cx="414.0" cy="378.8" rx="5.0" ry="2.5" fill="#8a8a8a" opacity="0.35"/>
<path d="M400.3,410.9 Q405.3,409.6 411.3,413.7" stroke="#afafaf" stroke-width="2.6" fill="none" stroke-linecap="round"/>
<path d="M401.2,380.5 L413.1,384.2" stroke="#c8c8c8" stroke-width="2.6" fill="none" stroke-linecap="round"/>
<path d="M442.1,363.8 C443.6,363.8 445.4,367.0 446.3,368.8 C447.2,370.6 446.4,372.7 447.3,374.8 C448.2,376.9 450.6,378.0 451.8,381.2 C453.0,384.5 454.2,390.0 454.6,394.1 C454.9,398.2 454.8,402.6 453.9,406.0 C453.1,409.3 451.0,412.2 449.7,414.2 C448.3,416.3 447.4,417.6 445.9,418.3 C444.3,419.0 441.9,419.3 440.3,418.3 C438.8,417.3 437.4,414.7 436.5,412.2 C435.6,409.6 435.0,407.3 434.8,402.9 C434.5,398.5 435.6,389.2 435.0,385.7 C434.4,382.2 431.9,382.9 431.0,381.9 C430.1,380.9 428.6,381.0 429.5,379.7 C430.4,378.4 434.8,376.1 436.2,374.3 C437.6,372.5 436.8,370.6 437.8,368.8 C438.8,367.1 440.7,363.8 442.1,363.8 Z" fill="url(#bodyg)" opacity="1.00"/>
<path d="M442.1,363.8 C443.6,363.8 445.4,367.0 446.3,368.8 C447.2,370.6 446.4,372.7 447.3,374.8 C448.2,376.9 450.6,378.0 451.8,381.2 C453.0,384.5 454.2,390.0 454.6,394.1 C454.9,398.2 454.8,402.6 453.9,406.0 C453.1,409.3 451.0,412.2 449.7,414.2 C448.3,416.3 447.4,417.6 445.9,418.3 C444.3,419.0 441.9,419.3 440.3,418.3 C438.8,417.3 437.4,414.7 436.5,412.2 C435.6,409.6 435.0,407.3 434.8,402.9 C434.5,398.5 435.6,389.2 435.0,385.7 C434.4,382.2 431.9,382.9 431.0,381.9 C430.1,380.9 428.6,381.0 429.5,379.7 C430.4,378.4 434.8,376.1 436.2,374.3 C437.6,372.5 436.8,370.6 437.8,368.8 C438.8,367.1 440.7,363.8 442.1,363.8 Z" fill="url(#edgeg)"/>
<ellipse cx="440.3" cy="372.3" rx="0.9" ry="1.1" fill="#606060" opacity="0.8"/>
<ellipse cx="444.3" cy="372.3" rx="0.9" ry="1.1" fill="#606060" opacity="0.8"/>
<ellipse cx="443.1" cy="378.8" rx="4.8" ry="2.5" fill="#8a8a8a" opacity="0.35"/>
<path d="M429.5,410.9 Q434.5,409.6 440.5,413.7" stroke="#afafaf" stroke-width="2.6" fill="none" stroke-linecap="round"/>
<path d="M429.5,380.5 L442.0,384.2" stroke="#c8c8c8" stroke-width="2.6" fill="none" stroke-linecap="round"/>
<path d="M469.8,363.8 C470.9,363.8 472.4,367.0 473.1,368.8 C473.8,370.6 473.9,372.7 474.1,374.8 C474.3,376.9 473.9,378.0 474.2,381.2 C474.6,384.5 476.1,390.0 476.3,394.1 C476.6,398.2 476.5,402.6 475.9,406.0 C475.2,409.3 473.6,412.2 472.6,414.2 C471.6,416.3 470.9,417.6 469.7,418.3 C468.5,419.0 466.7,419.3 465.5,418.3 C464.3,417.3 463.3,414.7 462.6,412.2 C461.9,409.6 461.5,407.3 461.3,402.9 C461.1,398.5 461.7,389.2 461.4,385.7 C461.1,382.2 460.1,382.9 459.5,381.9 C458.9,380.9 457.1,381.0 458.0,379.7 C458.9,378.4 463.2,376.1 464.6,374.3 C466.0,372.5 465.3,370.6 466.2,368.8 C467.1,367.1 468.6,363.8 469.8,363.8 Z" fill="url(#bodyg)" opacity="0.97"/>
<path d="M469.8,363.8 C470.9,363.8 472.4,367.0 473.1,368.8 C473.8,370.6 473.9,372.7 474.1,374.8 C474.3,376.9 473.9,378.0 474.2,381.2 C474.6,384.5 476.1,390.0 476.3,394.1 C476.6,398.2 476.5,402.6 475.9,406.0 C475.2,409.3 473.6,412.2 472.6,414.2 C471.6,416.3 470.9,417.6 469.7,418.3 C468.5,419.0 466.7,419.3 465.5,418.3 C464.3,417.3 463.3,414.7 462.6,412.2 C461.9,409.6 461.5,407.3 461.3,402.9 C461.1,398.5 461.7,389.2 461.4,385.7 C461.1,382.2 460.1,382.9 459.5,381.9 C458.9,380.9 457.1,381.0 458.0,379.7 C458.9,378.4 463.2,376.1 464.6,374.3 C466.0,372.5 465.3,370.6 466.2,368.8 C467.1,367.1 468.6,363.8 469.8,363.8 Z" fill="url(#edgeg)"/>
<ellipse cx="467.9" cy="372.3" rx="0.9" ry="1.1" fill="#606060" opacity="0.8"/>
<ellipse cx="471.9" cy="372.3" rx="0.9" ry="1.1" fill="#606060" opacity="0.8"/>
<ellipse cx="469.1" cy="378.8" rx="3.6" ry="2.5" fill="#8a8a8a" opacity="0.35"/>
<path d="M456.3,410.9 Q461.3,409.6 467.3,413.7" stroke="#aaaaaa" stroke-width="2.6" fill="none" stroke-linecap="round"/>
<path d="M458.0,380.5 L466.8,384.2" stroke="#c2c2c2" stroke-width="2.6" fill="none" stroke-linecap="round"/>
</g>
<g filter="url(#bl2)">
<ellipse cx="412" cy="414" rx="5" ry="2.5" fill="#7060c0" opacity="0.3"/>
</g>
</g>
<g stroke="#111" stroke-width="2" fill="none">
<line x1="69.8" y1="433.5" x2="69.8" y2="602.2"/>
<line x1="68.8" y1="601.2" x2="282.0" y2="601.2"/>
<line x1="65.3" y1="601.2" x2="69.8" y2="601.2"/>
<line x1="65.3" y1="567.66" x2="69.8" y2="567.66"/>
<line x1="65.3" y1="534.12" x2="69.8" y2="534.12"/>
<line x1="65.3" y1="500.58" x2="69.8" y2="500.58"/>
<line x1="65.3" y1="467.04" x2="69.8" y2="467.04"/>
<line x1="65.3" y1="433.5" x2="69.8" y2="433.5"/>
<line x1="69.8" y1="601.2" x2="69.8" y2="604.8000000000001"/>
<line x1="140.2" y1="601.2" x2="140.2" y2="604.8000000000001"/>
<line x1="210.6" y1="601.2" x2="210.6" y2="604.8000000000001"/>
<line x1="281.0" y1="601.2" x2="281.0" y2="604.8000000000001"/>
</g>
<text x="64.6" y="604.4" font-size="9.2" text-anchor="end" font-weight="bold" fill="#111" stroke="#111" stroke-width="0.35" >0</text>
<text x="64.6" y="570.86" font-size="9.2" text-anchor="end" font-weight="bold" fill="#111" stroke="#111" stroke-width="0.35" >20</text>
<text x="64.6" y="537.32" font-size="9.2" text-anchor="end" font-weight="bold" fill="#111" stroke="#111" stroke-width="0.35" >40</text>
<text x="64.6" y="503.78" font-size="9.2" text-anchor="end" font-weight="bold" fill="#111" stroke="#111" stroke-width="0.35" >60</text>
<text x="64.6" y="470.24" font-size="9.2" text-anchor="end" font-weight="bold" fill="#111" stroke="#111" stroke-width="0.35" >80</text>
<text x="64.6" y="436.7" font-size="9.2" text-anchor="end" font-weight="bold" fill="#111" stroke="#111" stroke-width="0.35" >100</text>
<text x="69.8" y="614.0" font-size="9.2" text-anchor="middle" font-weight="bold" fill="#111" stroke="#111" stroke-width="0.35" >0</text>
<text x="140.2" y="614.0" font-size="9.2" text-anchor="middle" font-weight="bold" fill="#111" stroke="#111" stroke-width="0.35" >20</text>
<text x="210.6" y="614.0" font-size="9.2" text-anchor="middle" font-weight="bold" fill="#111" stroke="#111" stroke-width="0.35" >40</text>
<text x="281.0" y="614.0" font-size="9.2" text-anchor="middle" font-weight="bold" fill="#111" stroke="#111" stroke-width="0.35" >60</text>
<text x="174" y="631.6" font-size="11.1" text-anchor="middle" font-weight="normal" fill="#111" stroke="#111" stroke-width="0.35" >days after BMT</text>
<text transform="translate(46,512.9) rotate(-90)" font-size="11.2" text-anchor="middle" fill="#111" stroke="#111" stroke-width="0.35">% survival</text>
<line x1="69.8" y1="433.5" x2="281.0" y2="433.5" stroke="#111" stroke-width="1.6"/>
<circle cx="281.0" cy="433.5" r="2.2" fill="#111"/>
<path d="M69.8,433.5 H129.64 V452.11 H171.88 V470.73 H196.52 V489.34 H207.08 V507.96 H210.6 V526.74 H221.16 V545.36 H228.2 V563.97 H249.32 V582.59 H281.0" fill="none" stroke="#84b843" stroke-width="1.8" stroke-dasharray="4 2.6"/>
<path d="M69.8,433.5 H94.44 V448.76 H97.96 V479.28 H112.04 V509.8 H115.56 V524.9 H126.12 V540.16 H157.8 V555.42 H245.8 V570.68 H281.0" fill="none" stroke="#3a4696" stroke-width="1.9"/>
<path d="M69.8,433.5 H94.44 V450.27 H182.44 V467.04 H221.86 V483.81 H224.68 V517.35 H249.32 V534.12 H281.0" fill="none" stroke="#c00a22" stroke-width="2.1"/>
<rect x="126.33999999999999" y="448.81" width="6.6" height="6.6" fill="#84b843"/>
<rect x="168.57999999999998" y="467.43" width="6.6" height="6.6" fill="#84b843"/>
<rect x="193.22" y="486.03999999999996" width="6.6" height="6.6" fill="#84b843"/>
<rect x="203.78" y="504.65999999999997" width="6.6" height="6.6" fill="#84b843"/>
<rect x="207.29999999999998" y="523.44" width="6.6" height="6.6" fill="#84b843"/>
<rect x="217.85999999999999" y="542.0600000000001" width="6.6" height="6.6" fill="#84b843"/>
<rect x="224.89999999999998" y="560.6700000000001" width="6.6" height="6.6" fill="#84b843"/>
<rect x="246.01999999999998" y="579.2900000000001" width="6.6" height="6.6" fill="#84b843"/>
<rect x="277.7" y="579.2900000000001" width="6.6" height="6.6" fill="#84b843"/>
<path d="M94.36,482.18 L101.56,482.18 L97.96,475.88 Z" fill="#3a4696"/>
<path d="M108.44,512.70 L115.64,512.70 L112.04,506.40 Z" fill="#3a4696"/>
<path d="M111.96,527.80 L119.16,527.80 L115.56,521.50 Z" fill="#3a4696"/>
<path d="M122.52,543.06 L129.72,543.06 L126.12,536.76 Z" fill="#3a4696"/>
<path d="M154.20,558.32 L161.40,558.32 L157.80,552.02 Z" fill="#3a4696"/>
<path d="M242.20,573.58 L249.40,573.58 L245.80,567.28 Z" fill="#3a4696"/>
<path d="M277.40,573.58 L284.60,573.58 L281.00,567.28 Z" fill="#3a4696"/>
<path d="M90.84,447.07 L98.04,447.07 L94.44,453.47 Z" fill="#c00a22"/>
<path d="M178.84,463.84 L186.04,463.84 L182.44,470.24 Z" fill="#c00a22"/>
<path d="M218.26,480.61 L225.46,480.61 L221.86,487.01 Z" fill="#c00a22"/>
<path d="M221.08,514.15 L228.28,514.15 L224.68,520.55 Z" fill="#c00a22"/>
<path d="M245.72,530.92 L252.92,530.92 L249.32,537.32 Z" fill="#c00a22"/>
<path d="M277.40,530.92 L284.60,530.92 L281.00,537.32 Z" fill="#c00a22"/>
<line x1="302.5" y1="447.5" x2="316.3" y2="447.5" stroke="#111" stroke-width="1.7"/>
<circle cx="309.4" cy="447.5" r="2" fill="#111"/>
<text x="322.4" y="451.5" font-size="11.1" text-anchor="start" font-weight="normal" fill="#111" stroke="#111" stroke-width="0.35" >BM</text>
<line x1="302.5" y1="462" x2="316.3" y2="462" stroke="#84b843" stroke-width="1.7"/>
<rect x="306.09999999999997" y="458.7" width="6.6" height="6.6" fill="#84b843"/>
<text x="322.4" y="466" font-size="11.1" text-anchor="start" font-weight="normal" fill="#111" stroke="#111" stroke-width="0.35" >BM + Tumor</text>
<line x1="302.5" y1="476.2" x2="316.3" y2="476.2" stroke="#3a4696" stroke-width="1.7"/>
<path d="M305.79999999999995,478.4 L313.0,478.4 L309.4,472.2 Z" fill="#3a4696"/>
<text x="322.4" y="480.2" font-size="11.1" text-anchor="start" font-weight="normal" fill="#111" stroke="#111" stroke-width="0.35" >Tcon</text>
<line x1="302.5" y1="489.6" x2="316.3" y2="489.6" stroke="#c00a22" stroke-width="1.7"/>
<path d="M305.79999999999995,487.40000000000003 L313.0,487.40000000000003 L309.4,493.6 Z" fill="#c00a22"/>
<text x="322.4" y="493.6" font-size="11.1" text-anchor="start" font-weight="normal" fill="#111" stroke="#111" stroke-width="0.35" >ECP WT</text>
</svg>
</body></html>
